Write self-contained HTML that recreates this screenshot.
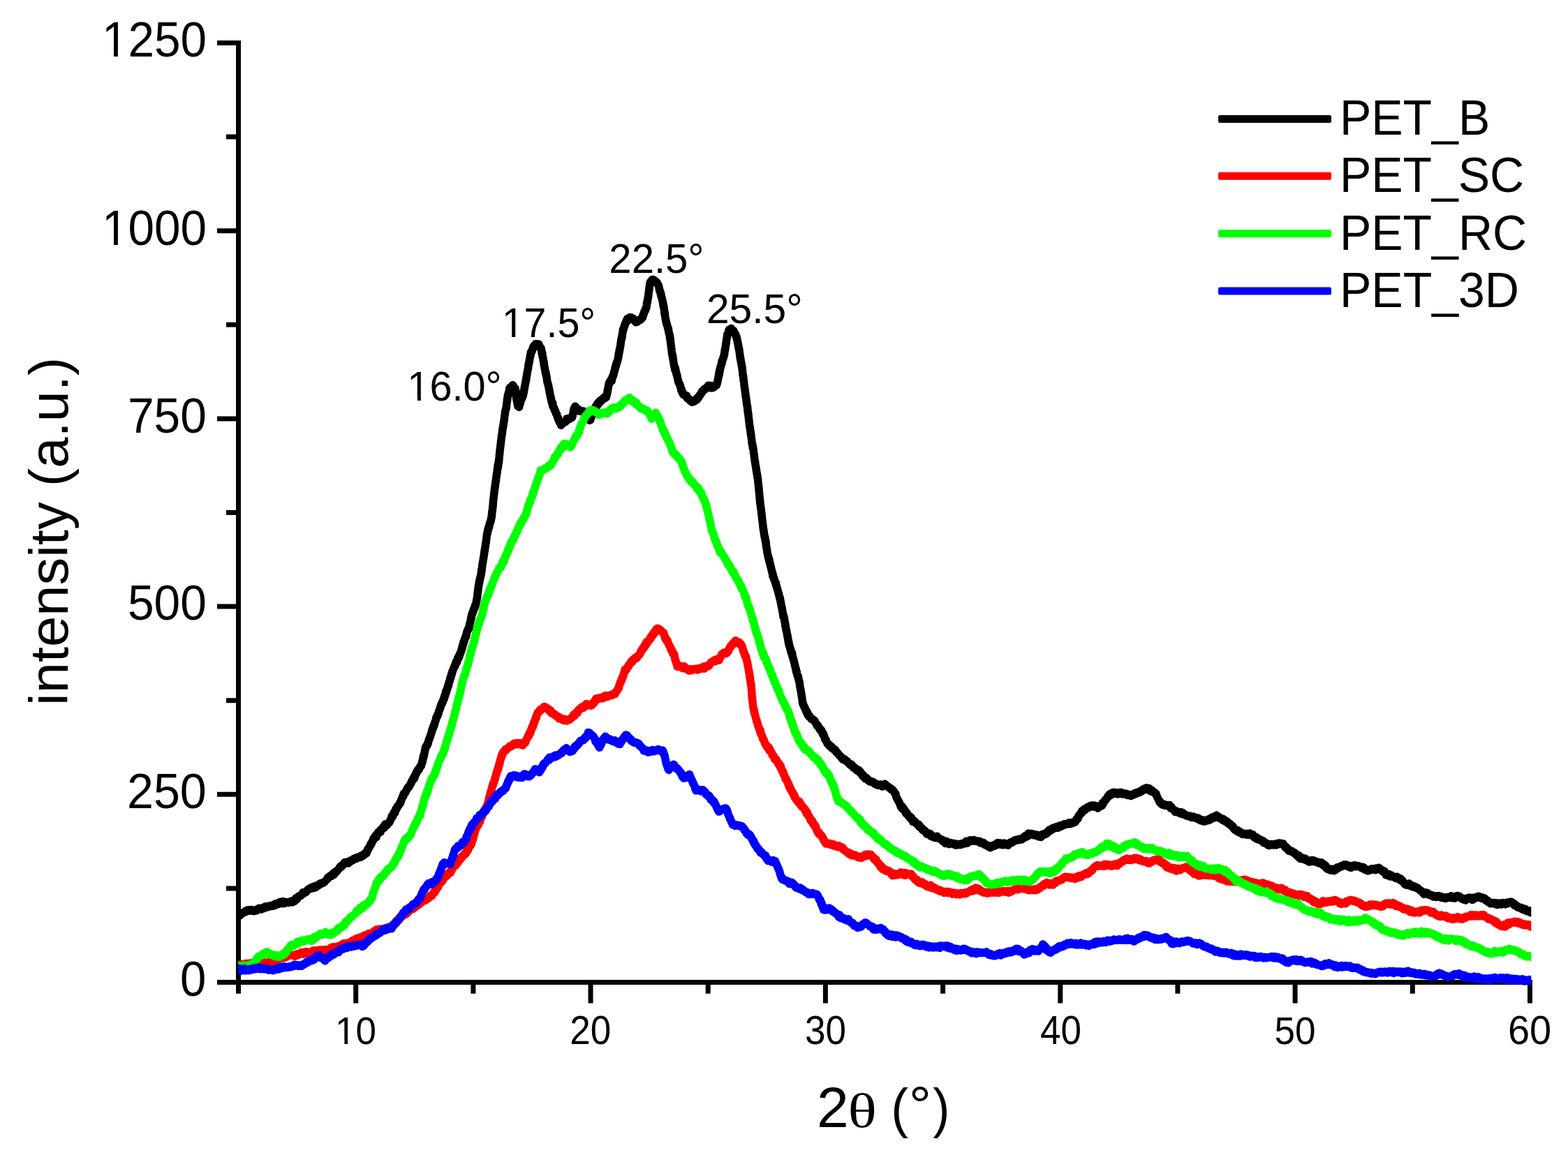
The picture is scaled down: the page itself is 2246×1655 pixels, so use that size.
<!DOCTYPE html>
<html><head><meta charset="utf-8"><style>html,body{margin:0;padding:0;background:#fff;overflow:hidden}svg{display:block}</style></head>
<body><svg width="2246" height="1655" viewBox="0 0 2246 1655">
<rect width="2246" height="1655" fill="#fff"/>
<path d="M327.5,1272.9H341.5 M314.5,1138.3H341.5 M327.5,1003.7H341.5 M314.5,869.1H341.5 M327.5,734.5H341.5 M314.5,599.9H341.5 M327.5,465.3H341.5 M314.5,330.7H341.5 M327.5,196.1H341.5 M341.5,1407.5V1420.2 M509.7,1407.5V1433.9 M677.9,1407.5V1420.2 M846.0,1407.5V1433.9 M1014.2,1407.5V1420.2 M1182.4,1407.5V1433.9 M1350.6,1407.5V1420.2 M1518.8,1407.5V1433.9 M1686.9,1407.5V1420.2 M1855.1,1407.5V1433.9 M2023.3,1407.5V1420.2 M314.5,61.5H341.5V1407.5 M314.5,1407.5H2191.5V1433.9" fill="none" stroke="#000" stroke-width="7" stroke-linecap="square" stroke-linejoin="miter"/>
<defs><clipPath id="pc"><rect x="341" y="0" width="1852.3" height="1655"/></clipPath></defs>
<g clip-path="url(#pc)">
<path d="M335.6,1311.4 L336.4,1312.6 L337.2,1312.6 L338.0,1311.2 L338.8,1311.4 L339.6,1311.1 L340.4,1311.9 L341.2,1311.2 L342.0,1311.7 L342.8,1309.4 L343.6,1311.9 L344.4,1310.3 L345.2,1310.6 L345.9,1309.3 L346.7,1308.6 L347.4,1308.7 L348.1,1308.5 L348.9,1307.2 L349.6,1306.9 L350.4,1307.2 L351.1,1305.7 L351.8,1305.0 L352.6,1306.3 L353.3,1305.3 L354.1,1304.1 L354.8,1304.8 L355.5,1304.9 L356.3,1304.1 L357.0,1303.7 L357.8,1304.8 L358.5,1305.3 L359.2,1304.3 L360.0,1303.8 L360.8,1304.8 L361.6,1305.2 L362.4,1304.5 L363.1,1305.2 L363.9,1305.6 L364.7,1304.6 L365.5,1304.0 L366.3,1304.7 L367.1,1304.4 L367.9,1304.8 L368.7,1302.6 L369.5,1302.8 L370.3,1302.3 L371.1,1301.3 L371.9,1302.5 L372.7,1302.6 L373.5,1301.4 L374.3,1303.0 L375.1,1302.4 L375.8,1302.0 L376.6,1301.6 L377.3,1301.8 L378.1,1299.7 L378.9,1301.1 L379.6,1300.8 L380.4,1298.7 L381.1,1300.2 L381.9,1299.5 L382.6,1300.2 L383.4,1299.0 L384.2,1299.2 L384.9,1299.3 L385.7,1298.1 L386.4,1299.1 L387.2,1298.3 L388.0,1298.5 L388.7,1297.5 L389.5,1298.5 L390.2,1297.9 L391.0,1297.1 L391.8,1297.5 L392.5,1297.7 L393.3,1297.9 L394.1,1294.9 L394.8,1296.6 L395.6,1296.0 L396.4,1295.2 L397.1,1294.2 L397.9,1295.7 L398.7,1293.4 L399.4,1294.6 L400.2,1295.0 L401.0,1292.4 L401.7,1293.3 L402.5,1292.3 L403.3,1293.5 L404.0,1294.4 L404.8,1294.7 L405.6,1291.6 L406.4,1292.6 L407.2,1293.7 L408.0,1294.4 L408.8,1293.5 L409.5,1292.6 L410.3,1293.4 L411.1,1293.2 L411.9,1293.0 L412.7,1292.6 L413.5,1293.4 L414.3,1293.2 L415.1,1292.8 L415.9,1292.5 L416.7,1291.5 L417.5,1292.0 L418.3,1293.1 L419.1,1291.7 L419.9,1290.5 L420.5,1292.1 L421.2,1290.8 L421.9,1291.5 L422.5,1289.2 L423.2,1288.2 L423.9,1286.8 L424.5,1288.4 L425.2,1288.8 L425.9,1285.6 L426.5,1285.2 L427.2,1285.7 L427.9,1284.1 L428.5,1284.0 L429.2,1283.5 L429.9,1283.4 L430.5,1283.7 L431.2,1282.4 L431.9,1282.7 L432.5,1281.1 L433.2,1281.3 L433.9,1278.8 L434.5,1278.9 L435.2,1280.2 L435.9,1278.6 L436.5,1279.0 L437.2,1278.5 L437.9,1278.6 L438.6,1277.7 L439.2,1277.4 L439.9,1276.0 L440.6,1275.1 L441.2,1274.6 L441.9,1274.5 L442.6,1273.6 L443.3,1273.8 L443.9,1273.8 L444.6,1273.8 L445.3,1273.0 L445.9,1271.4 L446.6,1272.5 L447.3,1272.4 L448.0,1272.7 L448.6,1271.9 L449.3,1270.5 L450.0,1270.1 L450.7,1272.0 L451.4,1270.7 L452.1,1271.3 L452.8,1271.3 L453.5,1268.7 L454.2,1269.4 L454.9,1269.2 L455.6,1268.9 L456.4,1268.6 L457.1,1267.9 L457.8,1267.5 L458.5,1265.8 L459.2,1266.5 L459.9,1265.6 L460.6,1266.0 L461.3,1265.1 L462.0,1265.6 L462.7,1265.5 L463.5,1264.7 L464.2,1264.3 L464.9,1263.7 L465.5,1262.8 L466.1,1262.4 L466.7,1261.4 L467.3,1261.4 L467.9,1260.4 L468.5,1260.1 L469.1,1257.9 L469.7,1259.0 L470.3,1257.0 L470.9,1256.4 L471.5,1256.4 L472.1,1255.6 L472.8,1255.9 L473.4,1254.8 L474.0,1254.1 L474.6,1253.9 L475.2,1255.2 L475.8,1253.8 L476.4,1252.4 L477.0,1252.9 L477.6,1251.2 L478.2,1253.4 L478.8,1250.2 L479.4,1251.3 L480.0,1250.8 L480.6,1248.7 L481.2,1249.5 L481.8,1249.5 L482.3,1248.5 L482.9,1247.7 L483.5,1247.6 L484.1,1246.3 L484.7,1245.7 L485.3,1244.7 L485.9,1244.6 L486.4,1242.7 L487.0,1243.4 L487.6,1241.8 L488.2,1240.7 L488.8,1241.4 L489.4,1241.9 L489.9,1240.9 L490.5,1239.2 L491.1,1239.8 L491.7,1238.5 L492.3,1238.3 L492.9,1238.1 L493.5,1235.8 L494.0,1237.5 L494.6,1236.1 L495.3,1236.1 L496.0,1235.3 L496.7,1235.2 L497.5,1235.4 L498.2,1236.7 L498.9,1237.1 L499.7,1235.5 L500.4,1236.0 L501.1,1234.6 L501.9,1232.9 L502.6,1234.1 L503.3,1233.9 L504.1,1232.8 L504.8,1232.9 L505.5,1232.6 L506.3,1231.0 L507.0,1230.1 L507.7,1230.6 L508.5,1230.2 L509.2,1229.6 L509.9,1230.3 L510.7,1230.5 L511.4,1228.4 L512.1,1229.0 L512.8,1228.9 L513.6,1228.4 L514.3,1228.5 L515.0,1227.1 L515.7,1227.7 L516.5,1228.5 L517.2,1227.2 L517.9,1225.8 L518.6,1226.4 L519.4,1226.6 L520.1,1225.4 L520.8,1224.2 L521.5,1225.4 L522.3,1222.7 L523.0,1223.6 L523.7,1222.6 L524.4,1221.2 L525.1,1222.6 L525.4,1221.1 L525.8,1219.1 L526.2,1219.7 L526.5,1218.2 L526.9,1216.3 L527.2,1216.5 L527.6,1216.6 L527.9,1216.2 L528.3,1215.1 L528.7,1214.3 L529.0,1213.9 L529.4,1212.7 L529.7,1213.1 L530.1,1211.6 L530.5,1211.1 L530.8,1210.6 L531.2,1208.7 L531.5,1208.4 L531.9,1209.6 L532.2,1208.0 L532.6,1207.0 L533.0,1206.9 L533.3,1205.6 L533.7,1205.5 L534.0,1204.1 L534.4,1204.1 L534.7,1201.8 L535.1,1203.3 L535.6,1201.1 L536.1,1199.5 L536.6,1199.8 L537.1,1199.0 L537.6,1198.7 L538.1,1197.0 L538.6,1197.7 L539.1,1199.7 L539.6,1195.2 L540.1,1196.0 L540.6,1195.0 L541.1,1194.9 L541.6,1192.7 L542.1,1192.7 L542.6,1193.4 L543.1,1192.4 L543.6,1193.1 L544.1,1190.6 L544.6,1190.6 L545.2,1192.1 L545.7,1188.5 L546.3,1187.8 L546.9,1187.8 L547.4,1187.1 L548.0,1187.2 L548.6,1186.0 L549.1,1184.8 L549.7,1185.0 L550.2,1186.4 L550.8,1184.8 L551.4,1181.1 L551.9,1182.7 L552.5,1181.7 L553.1,1182.4 L553.6,1181.3 L554.2,1182.5 L554.8,1181.2 L555.3,1180.6 L555.9,1179.6 L556.5,1178.9 L557.0,1178.6 L557.6,1178.9 L558.0,1177.6 L558.4,1176.2 L558.8,1176.8 L559.2,1175.3 L559.6,1174.4 L560.0,1173.1 L560.4,1172.5 L560.8,1171.7 L561.2,1169.3 L561.6,1171.6 L562.0,1170.5 L562.4,1169.1 L562.8,1169.4 L563.2,1168.1 L563.6,1167.3 L564.0,1164.3 L564.4,1165.3 L564.8,1165.2 L565.2,1165.3 L565.6,1164.7 L566.0,1163.6 L566.4,1160.8 L566.8,1159.2 L567.2,1160.7 L567.6,1159.5 L568.0,1159.5 L568.4,1157.8 L568.8,1157.4 L569.2,1155.3 L569.6,1156.2 L570.0,1154.9 L570.4,1155.0 L570.7,1154.5 L571.1,1153.5 L571.5,1153.2 L571.8,1152.4 L572.2,1152.4 L572.5,1151.6 L572.9,1150.1 L573.3,1149.3 L573.6,1150.4 L574.0,1148.2 L574.3,1148.2 L574.7,1146.9 L575.0,1145.3 L575.4,1144.3 L575.8,1144.2 L576.1,1143.5 L576.5,1143.0 L576.8,1140.7 L577.2,1140.5 L577.5,1140.1 L577.9,1140.8 L578.3,1136.9 L578.6,1138.4 L579.0,1137.0 L579.3,1137.2 L579.7,1135.8 L580.1,1135.9 L580.5,1136.3 L580.9,1134.8 L581.3,1134.2 L581.7,1133.5 L582.1,1131.9 L582.5,1132.2 L582.9,1130.9 L583.3,1129.7 L583.7,1129.6 L584.1,1128.8 L584.5,1128.9 L584.9,1127.7 L585.3,1126.8 L585.7,1127.9 L586.1,1127.0 L586.5,1126.7 L587.0,1125.6 L587.4,1124.4 L587.8,1123.5 L588.2,1123.0 L588.6,1123.2 L589.0,1121.8 L589.4,1119.8 L589.8,1120.2 L590.2,1118.3 L590.6,1118.9 L591.0,1117.1 L591.4,1116.4 L591.8,1116.9 L592.2,1116.1 L592.6,1114.1 L593.0,1115.3 L593.4,1115.7 L593.8,1112.0 L594.2,1113.8 L594.6,1110.9 L595.0,1110.2 L595.4,1109.6 L595.8,1107.7 L596.2,1109.0 L596.6,1107.6 L597.0,1105.9 L597.4,1105.6 L597.8,1104.0 L598.2,1104.4 L598.6,1104.8 L599.0,1102.1 L599.4,1102.6 L599.8,1102.4 L600.2,1102.5 L600.6,1102.1 L601.0,1099.9 L601.4,1099.0 L601.8,1099.2 L602.2,1097.9 L602.6,1097.2 L603.0,1097.5 L603.4,1097.3 L603.8,1095.3 L604.2,1094.1 L604.4,1093.8 L604.7,1090.8 L604.9,1091.3 L605.1,1089.6 L605.3,1091.4 L605.5,1089.2 L605.7,1087.9 L605.9,1086.9 L606.1,1084.3 L606.3,1086.2 L606.5,1086.2 L606.7,1083.6 L606.9,1084.1 L607.1,1083.4 L607.3,1080.8 L607.5,1082.0 L607.7,1081.5 L607.9,1079.7 L608.1,1078.6 L608.3,1078.4 L608.5,1075.6 L608.6,1076.0 L608.8,1075.9 L609.0,1073.2 L609.1,1074.2 L609.3,1072.3 L609.5,1070.4 L609.6,1071.3 L609.8,1070.1 L610.0,1070.7 L610.2,1069.1 L610.5,1070.6 L610.8,1068.8 L611.1,1069.3 L611.3,1068.1 L611.6,1067.8 L611.9,1068.5 L612.2,1067.1 L612.5,1066.0 L612.7,1064.6 L613.0,1065.7 L613.3,1064.6 L613.6,1062.9 L613.8,1062.4 L614.1,1060.5 L614.4,1059.7 L614.7,1059.0 L615.0,1059.1 L615.2,1058.3 L615.5,1056.6 L615.8,1057.0 L616.1,1056.3 L616.3,1055.0 L616.6,1054.9 L616.9,1053.0 L617.2,1052.3 L617.5,1051.9 L617.7,1050.6 L618.0,1050.3 L618.3,1047.7 L618.6,1048.9 L618.8,1046.3 L619.1,1045.9 L619.4,1044.1 L619.7,1044.9 L620.0,1044.7 L620.2,1043.9 L620.5,1043.1 L620.8,1040.5 L621.0,1040.5 L621.3,1040.2 L621.6,1039.1 L621.8,1040.1 L622.1,1038.6 L622.4,1037.6 L622.6,1037.2 L622.9,1035.1 L623.2,1034.2 L623.5,1033.3 L623.7,1033.4 L624.0,1032.4 L624.3,1031.7 L624.5,1031.2 L624.8,1028.5 L625.1,1028.4 L625.3,1028.3 L625.6,1026.5 L625.9,1026.5 L626.1,1027.1 L626.4,1026.6 L626.7,1025.9 L627.0,1024.4 L627.2,1023.5 L627.5,1023.7 L627.8,1021.8 L628.0,1021.6 L628.3,1021.6 L628.6,1019.6 L628.8,1018.6 L629.1,1018.4 L629.4,1018.2 L629.6,1017.4 L629.9,1016.4 L630.2,1016.0 L630.5,1013.5 L630.8,1013.3 L631.1,1013.3 L631.4,1011.5 L631.7,1010.3 L631.9,1009.5 L632.2,1008.9 L632.5,1008.7 L632.8,1007.3 L633.1,1007.6 L633.4,1008.1 L633.7,1006.0 L634.0,1006.5 L634.3,1005.1 L634.6,1003.4 L634.9,1003.4 L635.1,1002.2 L635.4,1002.9 L635.7,1000.7 L636.0,1001.9 L636.3,1000.6 L636.5,997.8 L636.8,999.3 L637.0,999.2 L637.3,996.6 L637.5,997.3 L637.7,994.3 L638.0,995.2 L638.2,993.0 L638.4,993.9 L638.7,991.3 L638.9,989.9 L639.2,991.5 L639.4,992.2 L639.6,989.1 L639.9,989.5 L640.1,988.1 L640.4,987.1 L640.6,987.1 L640.8,987.2 L641.1,984.2 L641.3,984.9 L641.5,984.0 L641.8,981.8 L642.0,983.4 L642.3,982.8 L642.5,979.6 L642.7,980.8 L643.0,978.6 L643.2,977.6 L643.5,978.2 L643.7,976.4 L643.9,975.7 L644.2,976.0 L644.4,975.1 L644.7,974.1 L644.9,971.5 L645.1,970.7 L645.4,972.1 L645.6,969.6 L645.8,969.7 L646.1,967.8 L646.3,967.7 L646.6,966.1 L646.8,967.6 L647.0,964.7 L647.3,964.7 L647.5,963.9 L647.8,964.3 L648.0,961.5 L648.2,961.9 L648.5,961.0 L648.7,960.8 L649.0,960.0 L649.3,958.5 L649.7,958.2 L650.0,957.0 L650.3,956.8 L650.6,955.6 L650.9,954.3 L651.3,954.1 L651.6,953.6 L651.9,954.4 L652.2,951.4 L652.5,951.4 L652.9,951.6 L653.2,948.1 L653.5,947.7 L653.8,947.4 L654.1,947.6 L654.5,949.0 L654.8,946.7 L655.1,946.7 L655.4,945.0 L655.7,942.5 L656.1,942.0 L656.4,943.9 L656.7,942.6 L657.0,940.7 L657.4,942.0 L657.6,939.2 L657.9,940.7 L658.1,940.2 L658.4,937.8 L658.7,936.9 L658.9,937.8 L659.2,935.6 L659.4,936.5 L659.7,934.3 L659.9,935.2 L660.2,934.0 L660.5,932.9 L660.7,931.7 L661.0,931.9 L661.2,929.3 L661.5,929.8 L661.7,928.8 L662.0,928.7 L662.2,926.2 L662.5,927.6 L662.8,924.9 L663.0,923.3 L663.3,924.4 L663.5,923.7 L663.8,921.3 L664.0,919.9 L664.3,919.8 L664.6,918.4 L664.8,917.9 L665.1,918.7 L665.3,917.0 L665.6,916.0 L665.9,915.5 L666.1,914.4 L666.4,914.4 L666.7,913.7 L666.9,911.9 L667.2,911.5 L667.5,912.5 L667.7,910.1 L668.0,908.7 L668.3,909.6 L668.5,907.1 L668.8,905.4 L669.0,905.9 L669.3,903.9 L669.6,903.5 L669.8,903.5 L670.1,902.5 L670.4,901.5 L670.6,901.1 L670.9,900.6 L671.2,901.5 L671.4,899.4 L671.6,898.9 L671.8,900.3 L672.0,897.5 L672.2,898.4 L672.3,897.6 L672.5,895.6 L672.7,893.8 L672.9,894.5 L673.1,893.9 L673.3,893.3 L673.5,891.7 L673.7,891.7 L673.9,890.9 L674.1,888.0 L674.3,889.0 L674.5,887.1 L674.7,885.6 L674.9,884.9 L675.1,885.8 L675.3,884.2 L675.5,881.3 L675.6,882.0 L675.8,881.2 L676.0,880.5 L676.2,879.6 L676.5,878.2 L676.7,879.4 L676.9,877.3 L677.2,877.1 L677.4,876.2 L677.7,875.5 L677.9,876.0 L678.1,875.0 L678.4,873.5 L678.6,872.6 L678.8,872.4 L679.1,872.9 L679.3,871.7 L679.6,871.2 L679.8,870.2 L680.0,869.7 L680.3,869.5 L680.5,867.2 L680.8,869.3 L681.0,866.7 L681.2,866.0 L681.5,866.7 L681.7,864.9 L682.0,863.9 L682.2,862.5 L682.4,860.8 L682.6,861.3 L682.7,861.3 L682.8,858.9 L682.9,860.1 L683.1,857.4 L683.2,857.1 L683.3,857.5 L683.4,856.4 L683.5,856.2 L683.7,854.2 L683.8,853.1 L683.9,851.5 L684.0,851.0 L684.1,850.1 L684.2,848.7 L684.4,849.1 L684.5,847.2 L684.6,845.1 L684.7,847.7 L684.8,844.1 L685.0,842.8 L685.1,843.9 L685.2,843.0 L685.3,840.3 L685.4,839.2 L685.6,838.7 L685.7,839.6 L685.9,837.6 L686.0,836.3 L686.2,836.1 L686.3,836.3 L686.4,833.4 L686.6,833.4 L686.7,831.9 L686.9,834.1 L687.0,833.1 L687.2,831.9 L687.3,830.5 L687.5,830.6 L687.6,827.9 L687.8,829.3 L687.9,827.5 L688.1,827.0 L688.2,826.9 L688.4,826.5 L688.5,826.5 L688.7,825.8 L688.8,824.6 L689.0,822.7 L689.1,823.1 L689.2,821.5 L689.4,821.6 L689.5,819.0 L689.6,816.6 L689.8,817.5 L689.9,818.7 L690.0,816.5 L690.1,815.0 L690.3,815.0 L690.4,813.8 L690.5,812.9 L690.7,811.2 L690.8,810.8 L690.9,810.0 L691.0,808.4 L691.2,807.1 L691.3,807.1 L691.4,806.8 L691.6,805.6 L691.7,804.6 L691.8,803.7 L691.9,804.5 L692.1,801.8 L692.2,801.7 L692.3,801.7 L692.5,799.5 L692.6,799.1 L692.7,799.1 L692.8,799.0 L692.9,797.3 L693.1,796.7 L693.2,795.9 L693.3,794.2 L693.4,795.4 L693.5,793.6 L693.6,791.7 L693.8,792.1 L693.9,790.1 L694.0,789.8 L694.1,789.8 L694.2,788.2 L694.4,788.9 L694.5,786.0 L694.6,786.5 L694.7,785.9 L694.8,785.8 L695.0,784.5 L695.1,783.1 L695.2,782.2 L695.3,781.3 L695.4,781.5 L695.5,779.3 L695.7,779.5 L695.8,778.2 L695.9,777.7 L696.1,776.5 L696.2,777.6 L696.3,774.5 L696.4,774.3 L696.6,773.4 L696.7,772.7 L696.8,771.6 L697.0,770.6 L697.1,770.0 L697.2,767.1 L697.3,767.5 L697.5,765.7 L697.6,766.2 L697.7,764.4 L697.9,764.0 L698.0,764.1 L698.1,764.8 L698.2,763.6 L698.4,762.8 L698.5,763.1 L698.6,760.5 L698.8,758.9 L699.0,759.5 L699.2,758.8 L699.4,759.1 L699.6,758.9 L699.8,755.2 L700.0,757.4 L700.2,755.8 L700.5,754.4 L700.7,753.3 L700.9,754.2 L701.1,751.7 L701.3,750.7 L701.5,750.6 L701.7,748.9 L701.9,749.8 L702.2,748.8 L702.4,748.5 L702.6,747.9 L702.8,746.0 L703.0,747.1 L703.2,744.4 L703.4,745.0 L703.6,742.1 L703.9,742.8 L704.1,740.9 L704.3,740.7 L704.3,739.3 L704.4,737.2 L704.5,737.2 L704.6,737.3 L704.7,737.0 L704.7,734.5 L704.8,733.2 L704.9,733.5 L705.0,733.3 L705.1,732.2 L705.1,731.4 L705.2,732.0 L705.3,731.5 L705.4,730.7 L705.5,728.7 L705.5,728.9 L705.6,728.0 L705.7,726.4 L705.8,727.5 L705.9,726.2 L705.9,724.9 L706.0,725.6 L706.1,724.2 L706.2,723.4 L706.2,722.7 L706.3,721.2 L706.4,718.6 L706.5,718.2 L706.6,718.2 L706.7,715.7 L706.8,715.2 L706.9,714.5 L707.0,714.4 L707.1,713.3 L707.2,712.1 L707.3,710.4 L707.4,710.5 L707.5,709.4 L707.6,708.0 L707.7,708.5 L707.8,707.0 L707.9,705.2 L708.0,706.0 L708.1,704.0 L708.2,703.9 L708.3,701.4 L708.4,701.9 L708.5,700.4 L708.6,699.6 L708.7,698.1 L708.8,700.6 L708.9,698.0 L709.1,697.5 L709.2,697.4 L709.3,695.7 L709.4,695.4 L709.5,693.2 L709.6,693.7 L709.7,692.5 L709.8,692.5 L709.9,691.6 L710.0,689.7 L710.1,688.6 L710.2,688.6 L710.3,689.3 L710.5,688.3 L710.6,687.5 L710.7,684.7 L710.8,683.4 L710.9,684.2 L711.0,683.6 L711.1,682.6 L711.2,682.5 L711.3,681.3 L711.4,679.6 L711.5,678.9 L711.6,678.8 L711.7,677.8 L711.9,676.8 L712.0,677.7 L712.1,674.8 L712.2,674.3 L712.3,672.6 L712.4,672.5 L712.5,672.5 L712.6,672.0 L712.7,670.8 L712.8,670.7 L712.9,669.9 L713.0,667.9 L713.2,666.2 L713.3,670.2 L713.4,668.4 L713.5,667.2 L713.6,665.3 L713.7,665.1 L713.8,666.6 L713.9,662.6 L714.0,664.0 L714.1,664.2 L714.2,662.9 L714.3,662.7 L714.4,661.2 L714.6,662.3 L714.7,658.7 L714.8,657.5 L714.9,657.8 L715.0,657.6 L715.1,655.3 L715.2,655.1 L715.3,652.7 L715.4,651.1 L715.5,652.2 L715.6,651.3 L715.7,650.3 L715.8,647.8 L715.9,646.4 L716.0,645.5 L716.1,645.4 L716.2,645.2 L716.3,644.2 L716.4,641.8 L716.5,642.2 L716.6,641.2 L716.7,640.3 L716.8,639.4 L716.9,638.4 L717.0,638.2 L717.1,637.0 L717.2,636.4 L717.3,634.9 L717.4,635.1 L717.5,633.9 L717.6,631.6 L717.6,632.9 L717.7,631.6 L717.8,631.7 L717.9,630.0 L718.0,629.2 L718.1,628.6 L718.2,627.6 L718.3,626.4 L718.4,624.5 L718.5,626.7 L718.6,623.2 L718.7,623.5 L718.8,623.6 L718.9,622.8 L719.0,622.3 L719.1,621.7 L719.2,621.5 L719.3,620.0 L719.4,621.3 L719.5,617.4 L719.6,617.6 L719.7,616.3 L719.8,615.4 L720.0,615.2 L720.1,615.3 L720.2,612.8 L720.4,611.9 L720.5,612.3 L720.6,611.4 L720.8,611.7 L720.9,610.2 L721.0,608.8 L721.1,607.7 L721.3,607.3 L721.4,606.3 L721.5,604.6 L721.7,604.9 L721.8,603.9 L721.9,603.0 L722.1,601.9 L722.2,602.6 L722.3,600.9 L722.5,600.0 L722.6,597.8 L722.7,596.4 L722.9,595.9 L723.0,595.3 L723.1,593.9 L723.2,593.0 L723.4,593.1 L723.5,591.7 L723.6,589.9 L723.8,589.6 L723.9,588.8 L724.0,588.9 L724.2,587.3 L724.3,587.7 L724.4,587.9 L724.6,586.9 L724.7,585.7 L724.8,585.4 L724.9,585.5 L725.0,585.1 L725.1,584.7 L725.2,583.2 L725.3,581.5 L725.4,582.9 L725.5,581.2 L725.6,580.4 L725.7,579.4 L725.8,577.5 L726.0,577.2 L726.1,576.9 L726.2,576.7 L726.3,575.1 L726.4,571.8 L726.5,573.3 L726.6,572.9 L726.7,572.9 L726.8,571.6 L726.9,572.3 L727.0,570.6 L727.1,569.8 L727.2,568.7 L727.3,566.2 L727.5,567.2 L727.7,566.4 L727.9,564.8 L728.1,565.0 L728.3,564.1 L728.5,562.7 L728.7,562.2 L728.9,561.3 L729.1,560.9 L729.3,559.5 L729.5,559.4 L729.7,556.6 L729.9,557.0 L730.4,555.2 L731.0,555.5 L731.5,555.6 L732.0,554.7 L732.6,554.0 L733.1,553.6 L733.7,554.3 L734.2,551.7 L734.7,554.1 L735.3,552.8 L735.8,554.3 L736.3,555.5 L736.8,555.3 L737.3,556.7 L737.8,557.6 L738.1,556.7 L738.2,558.3 L738.3,558.8 L738.4,558.4 L738.5,560.6 L738.6,560.9 L738.7,563.5 L738.8,562.7 L738.9,565.6 L739.0,564.7 L739.1,567.5 L739.2,567.2 L739.3,567.9 L739.4,568.9 L739.5,569.7 L739.6,570.8 L739.7,571.7 L739.8,570.7 L739.9,570.6 L740.0,570.1 L740.1,572.5 L740.2,574.1 L740.3,574.4 L740.5,574.9 L740.6,575.1 L740.7,575.6 L740.9,576.5 L741.0,577.8 L741.1,576.8 L741.3,579.5 L741.4,578.5 L741.5,580.3 L741.6,580.8 L741.8,581.8 L741.9,582.1 L742.2,582.4 L742.6,582.5 L743.1,581.2 L743.6,583.4 L744.1,580.4 L744.6,579.4 L745.0,578.7 L745.2,577.3 L745.5,575.2 L745.7,576.0 L745.9,575.6 L746.1,573.2 L746.3,573.6 L746.6,571.9 L746.8,572.2 L747.0,571.9 L747.2,571.5 L747.4,571.0 L747.7,569.6 L747.9,570.5 L748.1,569.1 L748.3,569.3 L748.5,569.2 L748.8,568.0 L749.0,566.7 L749.1,567.6 L749.3,565.6 L749.4,565.1 L749.6,564.1 L749.7,564.8 L749.9,563.1 L750.1,560.5 L750.2,561.9 L750.4,562.1 L750.5,561.0 L750.7,558.3 L750.9,558.0 L751.0,557.5 L751.2,557.0 L751.3,555.5 L751.5,553.8 L751.6,554.4 L751.8,553.5 L752.0,551.2 L752.1,551.1 L752.3,550.9 L752.4,549.9 L752.6,549.5 L752.7,548.9 L752.9,547.9 L753.1,546.5 L753.2,544.6 L753.4,545.2 L753.5,544.9 L753.7,544.3 L753.8,541.7 L754.0,540.6 L754.2,540.8 L754.3,539.9 L754.5,538.1 L754.6,537.6 L754.8,535.6 L754.9,535.9 L755.1,534.1 L755.2,533.9 L755.4,533.3 L755.5,532.4 L755.7,530.4 L755.8,530.7 L755.9,530.9 L756.1,529.7 L756.2,528.6 L756.4,528.3 L756.5,527.5 L756.7,526.6 L756.8,524.3 L757.0,523.9 L757.1,522.7 L757.3,521.4 L757.4,520.0 L757.5,520.4 L757.7,519.1 L757.8,520.8 L758.0,518.3 L758.1,517.5 L758.3,516.6 L758.4,517.6 L758.6,514.6 L758.7,514.4 L758.9,513.1 L759.0,512.7 L759.1,512.0 L759.3,512.1 L759.4,509.3 L759.6,509.8 L759.7,510.4 L759.9,508.1 L760.0,507.8 L760.2,506.7 L760.3,504.8 L760.5,506.3 L760.6,506.7 L760.9,504.8 L761.2,503.0 L761.5,504.0 L761.8,503.1 L762.1,503.1 L762.4,502.2 L762.7,500.4 L763.1,500.2 L763.4,497.6 L763.7,499.2 L764.0,497.7 L764.3,497.7 L764.6,497.0 L764.9,495.2 L765.5,494.9 L766.2,494.1 L767.0,492.8 L767.7,494.1 L768.5,494.0 L769.2,492.7 L770.0,493.8 L770.7,493.0 L771.2,493.7 L771.6,493.4 L772.0,493.3 L772.4,496.0 L772.8,496.5 L773.2,496.7 L773.6,497.1 L774.0,497.9 L774.4,498.7 L774.8,499.1 L775.1,498.6 L775.2,501.6 L775.4,500.5 L775.5,502.2 L775.7,502.9 L775.8,504.1 L776.0,503.4 L776.1,506.3 L776.3,506.6 L776.4,507.4 L776.6,508.5 L776.7,507.5 L776.9,506.4 L777.0,509.8 L777.2,511.3 L777.3,511.9 L777.4,511.3 L777.6,512.3 L777.7,513.4 L777.9,512.4 L778.0,514.1 L778.2,514.9 L778.3,517.5 L778.5,516.5 L778.7,519.2 L778.8,518.9 L779.0,518.5 L779.1,522.6 L779.3,521.1 L779.4,523.3 L779.6,525.2 L779.8,524.4 L779.9,524.8 L780.1,527.6 L780.2,527.7 L780.4,527.5 L780.5,528.4 L780.7,529.7 L780.9,531.6 L781.0,531.3 L781.2,532.7 L781.3,534.2 L781.5,534.5 L781.7,535.3 L781.8,535.8 L782.0,534.3 L782.1,537.3 L782.3,537.5 L782.4,538.0 L782.6,538.1 L782.8,538.7 L782.9,540.1 L783.1,541.9 L783.2,542.0 L783.4,543.2 L783.5,544.2 L783.7,546.1 L783.9,546.1 L784.0,547.0 L784.2,548.9 L784.3,548.2 L784.5,549.5 L784.6,548.7 L784.8,550.4 L785.0,550.8 L785.1,551.4 L785.3,551.4 L785.4,551.6 L785.6,552.8 L785.7,553.4 L785.9,555.3 L786.0,556.0 L786.2,555.2 L786.4,557.5 L786.5,557.5 L786.7,559.1 L786.8,559.3 L787.0,559.4 L787.1,562.3 L787.3,562.8 L787.4,562.3 L787.6,562.6 L787.8,564.5 L787.9,564.7 L788.1,566.1 L788.3,567.6 L788.5,569.0 L788.6,568.3 L788.8,570.4 L789.0,570.9 L789.2,570.4 L789.4,570.2 L789.6,573.0 L789.8,573.6 L790.0,575.8 L790.2,575.8 L790.4,576.1 L790.6,577.5 L790.8,576.1 L791.0,577.8 L791.2,578.1 L791.4,580.5 L791.6,580.2 L791.8,578.0 L791.9,582.3 L792.2,581.2 L792.5,583.2 L792.9,582.9 L793.2,584.1 L793.5,585.1 L793.8,585.5 L794.1,585.3 L794.4,587.9 L794.8,587.8 L795.1,588.2 L795.4,589.6 L795.7,589.3 L796.0,592.0 L796.4,591.4 L796.7,592.3 L797.0,593.1 L797.3,593.0 L797.6,593.6 L797.9,595.6 L798.3,596.6 L798.6,598.4 L798.9,598.6 L799.3,598.3 L799.6,600.4 L799.9,601.5 L800.3,602.5 L800.6,602.7 L800.9,602.2 L801.3,604.7 L801.6,603.9 L801.9,605.5 L802.3,604.4 L802.6,606.8 L802.9,606.1 L803.3,608.2 L803.6,609.4 L804.0,609.1 L804.6,606.7 L805.2,606.3 L805.8,605.9 L806.4,606.7 L807.0,606.0 L807.6,605.4 L808.3,605.0 L808.9,604.7 L809.5,604.3 L810.1,604.6 L810.7,602.6 L811.3,602.2 L811.9,600.1 L812.6,600.1 L813.3,600.2 L814.1,599.5 L814.8,600.3 L815.5,600.7 L816.2,599.2 L816.9,598.9 L817.6,598.7 L818.3,598.9 L819.0,598.0 L819.6,598.3 L819.8,597.4 L820.0,596.6 L820.1,596.1 L820.3,594.6 L820.5,593.7 L820.7,594.1 L820.9,591.7 L821.1,591.5 L821.3,590.0 L821.5,588.7 L821.7,587.9 L821.9,586.9 L822.1,586.9 L822.3,585.7 L822.5,585.2 L822.7,585.9 L822.8,584.2 L823.0,584.6 L823.2,583.3 L823.4,583.2 L823.9,582.2 L824.5,583.4 L825.1,586.1 L825.8,585.3 L826.4,586.0 L827.0,586.0 L827.6,587.1 L828.2,586.1 L828.9,586.9 L829.5,588.4 L830.1,589.2 L830.7,588.6 L831.4,589.2 L832.1,589.2 L832.8,589.5 L833.5,588.9 L834.2,588.9 L834.9,590.1 L835.6,588.9 L836.4,589.7 L837.1,590.1 L837.8,590.0 L838.5,591.2 L839.2,591.0 L839.6,591.9 L840.0,591.9 L840.4,592.8 L840.8,594.6 L841.2,595.3 L841.7,595.5 L842.1,597.0 L842.5,597.8 L842.9,598.6 L843.3,600.6 L843.7,599.9 L844.1,601.4 L844.5,602.2 L844.9,602.4 L845.3,601.3 L845.6,602.0 L845.9,600.9 L846.2,599.9 L846.6,599.1 L846.9,598.3 L847.2,596.7 L847.5,596.9 L847.9,594.5 L848.2,595.2 L848.5,593.3 L848.8,593.5 L849.1,593.7 L849.5,592.3 L849.8,591.4 L850.1,591.4 L850.4,590.0 L850.8,589.1 L851.1,588.3 L851.4,588.9 L851.7,587.4 L852.1,586.4 L852.4,584.2 L852.7,584.7 L853.1,582.4 L853.6,583.1 L854.1,581.1 L854.6,582.8 L855.1,579.2 L855.6,580.8 L856.1,579.8 L856.6,577.2 L857.1,577.8 L857.6,578.6 L858.1,577.7 L858.6,575.0 L859.1,575.3 L859.6,574.2 L860.1,573.7 L860.6,573.3 L861.3,574.8 L861.9,572.9 L862.5,572.0 L863.2,571.4 L863.8,571.7 L864.5,571.3 L865.1,569.5 L865.8,571.0 L866.4,568.6 L867.0,568.8 L867.7,568.9 L868.3,569.5 L868.7,567.2 L868.9,566.9 L869.0,566.9 L869.2,565.6 L869.4,565.2 L869.6,564.3 L869.7,562.8 L869.9,562.3 L870.1,561.8 L870.2,560.2 L870.4,560.7 L870.6,557.0 L870.8,556.9 L870.9,557.9 L871.1,556.2 L871.3,554.3 L871.5,554.2 L871.6,553.8 L871.8,551.6 L872.0,551.8 L872.1,550.3 L872.3,549.6 L872.5,549.0 L872.8,549.4 L873.1,547.1 L873.4,547.3 L873.7,547.7 L874.1,545.9 L874.4,545.2 L874.7,546.6 L875.0,545.7 L875.3,545.1 L875.6,544.8 L876.0,543.3 L876.3,545.7 L876.6,541.8 L876.9,541.4 L877.2,539.7 L877.5,539.6 L877.8,540.3 L878.2,538.2 L878.5,537.8 L878.7,536.1 L878.9,537.2 L879.2,535.1 L879.4,533.2 L879.6,534.1 L879.8,532.3 L880.1,532.3 L880.3,531.1 L880.5,530.3 L880.8,529.3 L881.0,527.6 L881.2,526.2 L881.5,527.4 L881.7,525.6 L881.9,525.2 L882.1,523.9 L882.4,521.9 L882.6,521.8 L882.8,523.3 L883.1,520.9 L883.3,520.6 L883.5,519.1 L883.8,519.3 L884.0,518.8 L884.2,518.2 L884.4,517.7 L884.6,516.5 L884.7,515.8 L884.9,515.5 L885.0,515.0 L885.2,513.8 L885.3,514.4 L885.5,512.3 L885.7,511.4 L885.8,509.9 L886.0,510.4 L886.1,507.9 L886.3,506.6 L886.4,506.3 L886.6,506.7 L886.7,504.5 L886.9,505.6 L887.1,503.7 L887.2,501.6 L887.4,501.8 L887.5,502.7 L887.7,499.8 L887.8,498.7 L888.0,499.4 L888.2,499.2 L888.3,498.2 L888.4,496.3 L888.6,495.9 L888.7,495.1 L888.8,494.8 L888.9,494.7 L889.1,491.9 L889.2,492.1 L889.3,489.9 L889.5,489.8 L889.6,487.7 L889.7,487.0 L889.9,487.2 L890.0,485.5 L890.1,486.2 L890.2,484.4 L890.4,484.3 L890.5,483.5 L890.6,482.7 L890.8,482.5 L890.9,482.7 L891.0,483.7 L891.2,479.6 L891.3,480.2 L891.4,479.1 L891.6,477.8 L891.7,477.9 L891.8,476.1 L891.9,475.8 L892.1,475.9 L892.3,472.3 L892.6,473.2 L892.9,472.4 L893.2,470.3 L893.4,470.5 L893.7,469.5 L894.0,468.1 L894.3,468.5 L894.6,465.8 L894.9,466.6 L895.1,465.2 L895.4,463.9 L895.7,463.9 L896.0,463.1 L896.3,463.4 L896.5,460.9 L896.8,461.3 L897.1,460.4 L897.4,461.3 L897.7,458.4 L898.0,459.5 L898.6,456.7 L899.2,458.0 L899.9,457.2 L900.6,457.3 L901.2,456.0 L901.9,454.7 L902.6,454.7 L903.2,456.6 L903.9,455.3 L904.5,455.0 L905.2,456.9 L905.8,456.0 L906.5,456.5 L907.1,456.5 L907.7,458.8 L908.4,459.8 L909.0,457.9 L909.7,459.4 L910.3,460.4 L910.9,461.9 L911.6,458.8 L912.3,460.8 L913.0,460.9 L913.7,458.8 L914.4,459.9 L915.1,459.4 L915.8,459.3 L916.5,457.8 L917.3,458.1 L918.0,456.8 L918.7,457.3 L919.4,456.4 L919.8,455.2 L920.1,453.5 L920.5,455.0 L920.8,453.7 L921.1,452.6 L921.4,450.5 L921.7,449.9 L922.0,450.6 L922.4,449.1 L922.7,447.0 L923.0,447.0 L923.3,446.3 L923.6,445.3 L923.9,444.1 L924.3,445.2 L924.6,444.1 L924.9,442.9 L925.2,441.2 L925.5,441.5 L925.6,441.3 L925.8,441.4 L925.9,439.7 L926.0,440.2 L926.2,438.6 L926.3,437.1 L926.4,434.6 L926.6,435.1 L926.7,434.0 L926.8,434.3 L926.9,433.9 L927.1,434.0 L927.2,432.1 L927.3,430.5 L927.5,432.6 L927.6,430.3 L927.7,429.1 L927.9,428.3 L928.0,426.7 L928.1,427.5 L928.3,426.4 L928.4,426.5 L928.5,425.2 L928.7,424.1 L928.8,423.4 L928.9,421.3 L929.0,420.2 L929.2,419.7 L929.3,417.8 L929.4,417.9 L929.5,416.9 L929.6,417.0 L929.7,415.7 L929.8,413.5 L929.9,414.3 L930.0,414.8 L930.1,411.5 L930.2,411.7 L930.3,411.6 L930.4,409.9 L930.5,409.8 L930.6,409.6 L930.7,407.7 L930.8,408.3 L930.9,407.6 L931.0,405.5 L931.1,405.8 L931.2,405.9 L931.3,404.2 L931.7,404.0 L932.2,403.7 L932.7,402.5 L933.2,403.0 L933.7,402.1 L934.2,400.5 L934.8,401.2 L935.3,401.0 L935.9,401.4 L936.5,400.8 L937.1,402.1 L937.8,403.2 L938.4,402.6 L939.0,403.6 L939.4,404.2 L939.8,403.5 L940.2,404.6 L940.6,404.3 L941.0,406.0 L941.4,405.6 L941.8,405.9 L942.2,407.0 L942.6,407.7 L943.0,408.7 L943.3,409.6 L943.5,409.1 L943.7,410.3 L944.0,412.0 L944.2,412.9 L944.4,413.5 L944.6,416.4 L944.9,416.1 L945.1,416.1 L945.3,417.7 L945.6,419.1 L945.8,419.2 L946.0,418.3 L946.2,420.6 L946.5,421.4 L946.7,423.8 L946.9,421.4 L947.1,424.8 L947.4,424.2 L947.6,425.9 L947.8,425.7 L948.1,427.0 L948.3,428.7 L948.5,428.8 L948.7,430.5 L949.0,430.4 L949.1,431.0 L949.2,432.0 L949.3,432.5 L949.5,433.4 L949.6,435.3 L949.7,433.8 L949.8,434.0 L950.0,436.0 L950.1,438.0 L950.2,438.1 L950.3,439.1 L950.5,439.7 L950.6,438.9 L950.7,440.3 L950.8,438.8 L951.0,441.2 L951.1,442.9 L951.2,441.9 L951.3,442.2 L951.4,443.5 L951.6,445.5 L951.7,447.0 L951.8,449.0 L951.9,448.9 L952.1,447.4 L952.2,447.6 L952.3,450.5 L952.4,452.1 L952.6,450.9 L952.7,452.7 L952.8,453.7 L952.9,455.0 L953.1,455.7 L953.3,457.2 L953.5,458.5 L953.7,458.6 L953.9,460.0 L954.1,461.8 L954.3,460.2 L954.4,460.9 L954.6,462.9 L954.8,464.6 L955.0,464.0 L955.2,465.3 L955.4,464.8 L955.6,466.5 L955.8,465.9 L956.0,467.6 L956.2,468.1 L956.4,468.9 L956.6,470.4 L956.8,470.9 L957.0,470.4 L957.2,472.3 L957.4,471.0 L957.6,474.0 L957.8,476.2 L958.0,475.3 L958.1,476.2 L958.3,476.7 L958.5,478.2 L958.7,478.0 L958.9,479.7 L959.0,479.7 L959.1,480.3 L959.2,481.4 L959.3,481.9 L959.4,481.2 L959.5,484.9 L959.6,483.9 L959.8,483.2 L959.9,486.1 L960.0,486.0 L960.1,487.0 L960.2,488.3 L960.3,487.8 L960.4,487.1 L960.5,490.2 L960.6,491.3 L960.7,492.7 L960.8,492.1 L960.9,493.2 L961.0,494.4 L961.1,494.6 L961.2,495.3 L961.3,496.5 L961.4,496.2 L961.5,499.1 L961.6,497.9 L961.7,499.5 L961.9,500.1 L962.0,500.7 L962.1,502.6 L962.2,503.9 L962.3,505.2 L962.4,505.3 L962.5,505.3 L962.6,507.2 L962.7,506.1 L962.8,507.9 L962.9,509.0 L963.1,509.6 L963.2,508.9 L963.4,509.2 L963.5,512.4 L963.6,511.3 L963.8,511.1 L963.9,512.2 L964.1,514.1 L964.2,515.9 L964.4,515.9 L964.5,517.8 L964.6,518.1 L964.8,519.3 L964.9,520.6 L965.1,520.5 L965.2,521.9 L965.4,522.2 L965.5,522.7 L965.6,524.4 L965.8,523.8 L965.9,525.1 L966.1,525.0 L966.2,526.1 L966.3,526.3 L966.5,528.2 L966.6,528.0 L966.8,528.7 L967.0,530.6 L967.3,527.6 L967.5,529.7 L967.7,529.1 L968.0,531.9 L968.2,532.9 L968.4,533.8 L968.7,534.2 L968.9,534.0 L969.1,536.9 L969.4,536.6 L969.6,537.1 L969.8,537.4 L970.0,539.7 L970.3,540.0 L970.5,541.1 L970.7,542.7 L971.0,543.8 L971.2,543.9 L971.4,546.5 L971.7,545.6 L971.9,546.3 L972.1,548.3 L972.4,548.8 L972.6,549.5 L972.9,549.7 L973.2,550.8 L973.5,551.0 L973.8,550.8 L974.2,553.5 L974.5,553.0 L974.8,554.5 L975.1,556.3 L975.4,556.7 L975.7,559.8 L976.1,557.5 L976.4,559.0 L976.7,560.6 L977.0,562.4 L977.3,561.9 L977.6,561.7 L978.0,564.4 L978.3,563.4 L978.6,564.5 L979.1,565.7 L979.6,564.8 L980.1,565.3 L980.6,566.4 L981.1,566.1 L981.6,566.9 L982.1,566.2 L982.6,567.3 L983.1,567.0 L983.6,567.1 L984.1,570.4 L984.6,570.0 L985.1,571.1 L985.6,570.3 L986.1,571.9 L986.7,572.4 L987.5,571.9 L988.2,574.0 L988.9,573.5 L989.6,574.4 L990.3,573.7 L991.0,576.1 L991.7,576.2 L992.4,576.0 L993.1,574.4 L993.8,574.3 L994.5,575.2 L995.2,573.5 L995.8,573.6 L996.5,573.0 L997.2,571.6 L997.9,573.3 L998.6,570.1 L999.2,571.4 L999.9,570.7 L1000.4,568.8 L1000.8,569.6 L1001.2,569.0 L1001.6,567.8 L1002.0,566.4 L1002.4,566.7 L1002.7,566.5 L1003.1,565.1 L1003.5,565.6 L1003.9,564.3 L1004.3,563.6 L1004.7,563.5 L1005.1,561.3 L1005.5,560.9 L1005.9,561.2 L1006.3,560.7 L1006.7,561.0 L1007.1,560.3 L1007.5,559.0 L1007.9,558.5 L1008.5,557.8 L1009.2,557.4 L1009.8,556.9 L1010.5,557.6 L1011.2,556.0 L1011.8,555.5 L1012.5,555.3 L1013.2,554.1 L1013.9,553.7 L1014.6,552.2 L1015.3,554.3 L1016.0,553.8 L1016.7,554.2 L1017.4,554.3 L1018.2,552.6 L1018.9,556.1 L1019.6,554.4 L1020.3,554.7 L1021.0,553.4 L1021.7,555.6 L1022.2,554.9 L1022.7,553.7 L1023.2,553.7 L1023.6,554.1 L1024.1,552.4 L1024.6,551.5 L1025.1,552.8 L1025.5,551.5 L1026.0,550.6 L1026.5,552.0 L1027.0,549.7 L1027.5,548.7 L1027.6,548.3 L1027.8,546.9 L1028.0,546.5 L1028.1,545.5 L1028.3,544.0 L1028.4,543.3 L1028.6,542.9 L1028.8,542.0 L1028.9,541.2 L1029.1,540.4 L1029.2,539.1 L1029.4,538.5 L1029.6,536.9 L1029.7,536.3 L1029.9,536.6 L1030.0,533.5 L1030.2,534.7 L1030.4,536.3 L1030.5,531.6 L1030.7,533.7 L1030.8,530.4 L1031.0,531.3 L1031.2,531.6 L1031.3,530.7 L1031.5,528.0 L1031.7,526.9 L1031.9,525.9 L1032.1,526.9 L1032.3,525.2 L1032.5,524.7 L1032.7,524.1 L1033.0,523.5 L1033.2,522.9 L1033.4,521.8 L1033.6,519.7 L1033.8,521.4 L1034.0,517.3 L1034.2,519.7 L1034.4,517.5 L1034.6,517.2 L1034.9,516.2 L1035.1,515.6 L1035.3,515.2 L1035.5,514.3 L1035.7,513.0 L1035.9,513.8 L1036.1,512.0 L1036.3,512.8 L1036.5,510.8 L1036.8,509.7 L1037.0,509.8 L1037.2,509.4 L1037.4,507.2 L1037.5,506.9 L1037.7,507.5 L1037.8,504.8 L1037.9,504.2 L1038.0,504.3 L1038.2,502.4 L1038.3,500.7 L1038.4,500.7 L1038.6,501.6 L1038.7,501.1 L1038.8,500.3 L1039.0,499.3 L1039.1,497.2 L1039.2,497.9 L1039.3,497.4 L1039.5,495.1 L1039.6,495.5 L1039.7,493.5 L1039.9,493.0 L1040.0,492.2 L1040.1,489.7 L1040.3,491.1 L1040.4,488.3 L1040.5,487.9 L1040.7,486.6 L1040.8,486.5 L1040.9,485.6 L1041.0,484.5 L1041.2,484.8 L1041.3,483.1 L1041.5,481.8 L1041.7,479.1 L1041.9,480.5 L1042.1,479.7 L1042.3,478.5 L1042.6,477.8 L1042.8,478.2 L1043.0,477.9 L1043.2,477.8 L1043.4,476.5 L1043.6,474.4 L1043.8,474.5 L1044.0,472.6 L1044.6,473.8 L1045.1,473.1 L1045.6,471.9 L1046.1,471.9 L1046.7,471.3 L1047.2,470.5 L1047.7,472.7 L1048.3,474.7 L1048.9,473.4 L1049.5,474.0 L1050.0,473.8 L1050.6,473.8 L1051.1,476.4 L1051.5,475.0 L1051.8,476.3 L1052.2,476.7 L1052.5,478.0 L1052.9,478.3 L1053.3,479.6 L1053.6,479.0 L1054.0,480.7 L1054.3,482.7 L1054.7,481.6 L1055.0,482.6 L1055.2,485.1 L1055.3,485.1 L1055.5,486.4 L1055.6,484.5 L1055.8,487.2 L1056.0,486.8 L1056.1,487.4 L1056.3,489.6 L1056.4,490.9 L1056.6,489.4 L1056.7,490.3 L1056.9,491.4 L1057.0,492.4 L1057.2,492.1 L1057.4,495.6 L1057.5,495.0 L1057.7,495.0 L1057.8,495.6 L1058.0,498.6 L1058.1,499.4 L1058.3,498.0 L1058.4,499.6 L1058.6,501.2 L1058.8,500.1 L1058.9,501.5 L1059.0,503.9 L1059.2,503.2 L1059.3,504.4 L1059.4,504.6 L1059.5,506.1 L1059.6,508.2 L1059.8,507.9 L1059.9,508.4 L1060.0,509.8 L1060.1,512.6 L1060.3,512.1 L1060.4,512.3 L1060.5,513.7 L1060.6,514.6 L1060.8,515.1 L1060.9,514.3 L1061.0,516.7 L1061.1,516.9 L1061.3,518.4 L1061.4,517.3 L1061.5,519.9 L1061.6,519.2 L1061.8,518.9 L1061.9,521.9 L1062.0,521.0 L1062.1,522.4 L1062.3,522.6 L1062.4,524.4 L1062.5,525.1 L1062.6,525.9 L1062.7,526.4 L1062.9,525.3 L1063.0,526.1 L1063.1,528.4 L1063.2,528.3 L1063.3,530.3 L1063.4,530.9 L1063.5,530.5 L1063.6,531.6 L1063.7,532.4 L1063.8,533.4 L1063.9,534.8 L1064.0,536.4 L1064.1,537.7 L1064.2,536.7 L1064.3,537.8 L1064.5,540.4 L1064.6,540.6 L1064.7,540.8 L1064.8,539.5 L1064.9,541.3 L1065.0,543.0 L1065.1,543.1 L1065.2,546.0 L1065.3,545.2 L1065.4,546.2 L1065.5,545.9 L1065.6,546.8 L1065.7,548.0 L1065.8,549.0 L1065.9,550.2 L1066.0,551.6 L1066.1,552.4 L1066.2,553.9 L1066.3,552.9 L1066.5,555.0 L1066.6,555.8 L1066.7,557.7 L1066.8,556.9 L1066.9,558.1 L1067.0,557.9 L1067.1,559.7 L1067.2,560.4 L1067.3,560.4 L1067.4,561.3 L1067.5,562.4 L1067.6,563.6 L1067.7,562.9 L1067.8,565.3 L1067.9,565.0 L1068.0,567.5 L1068.1,567.8 L1068.2,567.0 L1068.3,567.5 L1068.5,570.6 L1068.6,569.8 L1068.7,570.5 L1068.8,570.5 L1068.9,571.5 L1069.0,573.1 L1069.1,573.9 L1069.2,573.6 L1069.3,576.2 L1069.4,576.3 L1069.5,576.1 L1069.6,578.5 L1069.7,578.4 L1069.8,579.9 L1069.9,579.5 L1070.0,581.0 L1070.1,580.1 L1070.2,582.4 L1070.3,581.6 L1070.5,583.8 L1070.6,582.3 L1070.7,585.1 L1070.8,586.6 L1070.9,587.2 L1071.0,588.6 L1071.1,587.5 L1071.2,590.5 L1071.3,591.3 L1071.4,589.8 L1071.5,590.9 L1071.6,591.8 L1071.7,593.0 L1071.8,593.9 L1071.9,592.6 L1072.0,595.8 L1072.1,595.9 L1072.2,596.2 L1072.3,598.6 L1072.4,598.5 L1072.5,600.6 L1072.7,601.1 L1072.8,601.4 L1072.9,603.6 L1073.0,604.3 L1073.1,604.2 L1073.2,604.2 L1073.3,606.0 L1073.4,607.7 L1073.5,607.9 L1073.6,610.3 L1073.7,609.8 L1073.8,610.5 L1073.9,611.4 L1074.0,611.0 L1074.1,612.4 L1074.2,612.7 L1074.3,612.1 L1074.4,613.3 L1074.5,616.1 L1074.7,615.9 L1074.8,616.9 L1074.9,616.5 L1075.0,617.9 L1075.1,619.7 L1075.2,619.9 L1075.4,620.1 L1075.5,622.6 L1075.6,622.1 L1075.7,622.7 L1075.8,624.8 L1076.0,623.4 L1076.1,626.2 L1076.2,625.9 L1076.3,627.1 L1076.4,628.1 L1076.6,629.7 L1076.7,630.6 L1076.8,631.6 L1076.9,632.3 L1077.0,634.1 L1077.1,635.0 L1077.3,635.0 L1077.4,635.7 L1077.5,635.5 L1077.6,635.6 L1077.7,637.6 L1077.9,637.9 L1078.0,639.2 L1078.1,637.7 L1078.2,642.0 L1078.3,639.5 L1078.5,641.2 L1078.6,642.6 L1078.7,641.4 L1078.8,642.7 L1078.9,642.1 L1079.0,643.2 L1079.2,643.5 L1079.3,645.8 L1079.4,646.6 L1079.5,646.9 L1079.6,649.0 L1079.8,650.0 L1079.9,649.8 L1080.0,650.6 L1080.1,651.5 L1080.2,652.3 L1080.4,654.7 L1080.5,654.8 L1080.6,655.2 L1080.7,656.2 L1080.8,657.7 L1080.9,657.7 L1081.1,659.1 L1081.2,659.6 L1081.3,661.6 L1081.4,662.2 L1081.5,660.9 L1081.7,662.7 L1081.8,664.2 L1081.9,664.0 L1082.0,665.8 L1082.1,666.1 L1082.3,667.1 L1082.4,667.3 L1082.5,668.3 L1082.6,669.3 L1082.7,668.5 L1082.9,669.7 L1083.0,670.4 L1083.1,673.4 L1083.2,673.1 L1083.3,673.9 L1083.4,674.4 L1083.6,674.5 L1083.7,675.0 L1083.8,677.0 L1083.9,676.6 L1084.0,678.8 L1084.2,678.4 L1084.3,679.0 L1084.4,679.4 L1084.5,680.2 L1084.6,681.0 L1084.8,682.9 L1084.9,684.3 L1085.0,682.3 L1085.1,684.3 L1085.2,685.5 L1085.4,685.1 L1085.5,686.3 L1085.6,687.4 L1085.7,686.9 L1085.8,690.4 L1085.9,690.9 L1086.1,691.8 L1086.2,692.9 L1086.3,694.0 L1086.4,696.5 L1086.5,695.6 L1086.6,696.8 L1086.6,696.5 L1086.7,697.9 L1086.8,698.1 L1086.9,699.0 L1086.9,699.2 L1087.0,700.1 L1087.1,702.0 L1087.1,703.1 L1087.2,703.8 L1087.3,703.8 L1087.4,705.5 L1087.4,704.1 L1087.5,707.7 L1087.6,707.7 L1087.7,708.7 L1087.7,710.1 L1087.8,709.5 L1087.9,711.3 L1088.0,710.9 L1088.0,712.4 L1088.1,712.3 L1088.2,713.7 L1088.2,715.4 L1088.3,714.5 L1088.4,715.3 L1088.5,716.4 L1088.5,717.7 L1088.6,720.5 L1088.7,718.7 L1088.8,718.3 L1088.8,720.2 L1088.9,720.3 L1089.0,721.8 L1089.1,723.0 L1089.2,722.9 L1089.3,723.8 L1089.4,723.4 L1089.5,725.7 L1089.6,725.5 L1089.7,727.6 L1089.8,728.2 L1089.9,727.3 L1090.0,728.4 L1090.1,729.5 L1090.2,730.9 L1090.3,729.8 L1090.4,731.9 L1090.5,734.3 L1090.6,733.6 L1090.7,734.8 L1090.8,735.5 L1090.9,735.4 L1091.0,738.1 L1091.1,738.4 L1091.2,739.3 L1091.3,740.7 L1091.4,741.7 L1091.5,740.5 L1091.6,743.3 L1091.7,743.4 L1091.8,744.8 L1091.9,745.0 L1092.0,745.7 L1092.1,748.0 L1092.2,748.1 L1092.3,748.7 L1092.4,749.5 L1092.5,750.6 L1092.6,751.3 L1092.7,750.1 L1092.7,752.0 L1092.8,753.2 L1092.9,754.7 L1093.0,755.8 L1093.1,754.6 L1093.2,757.6 L1093.3,756.7 L1093.4,757.6 L1093.5,757.4 L1093.6,758.0 L1093.7,760.3 L1093.8,759.7 L1093.9,760.5 L1094.0,762.3 L1094.2,763.5 L1094.3,761.7 L1094.4,763.5 L1094.6,764.4 L1094.7,766.7 L1094.8,768.1 L1095.0,766.9 L1095.1,768.0 L1095.2,769.2 L1095.4,770.3 L1095.5,769.9 L1095.6,771.6 L1095.8,771.1 L1095.9,770.3 L1096.0,772.0 L1096.2,774.0 L1096.3,775.2 L1096.4,773.5 L1096.6,774.5 L1096.7,776.7 L1096.8,774.7 L1097.0,778.6 L1097.1,779.8 L1097.2,777.3 L1097.4,781.1 L1097.5,781.2 L1097.6,783.3 L1097.8,783.3 L1097.9,783.7 L1098.0,784.9 L1098.2,786.5 L1098.3,786.8 L1098.4,787.6 L1098.6,787.3 L1098.7,789.7 L1098.8,790.2 L1099.0,792.5 L1099.1,791.9 L1099.2,792.7 L1099.4,793.1 L1099.6,795.0 L1099.8,795.1 L1100.0,795.5 L1100.3,798.1 L1100.5,799.1 L1100.7,798.1 L1100.9,798.4 L1101.1,801.0 L1101.3,800.2 L1101.5,803.8 L1101.7,802.2 L1101.9,803.8 L1102.1,802.7 L1102.3,804.5 L1102.5,806.1 L1102.7,806.4 L1102.9,806.4 L1103.1,809.6 L1103.3,809.1 L1103.5,809.2 L1103.7,809.9 L1103.9,811.1 L1104.2,813.3 L1104.4,812.6 L1104.6,814.1 L1104.8,814.3 L1105.0,816.8 L1105.2,816.5 L1105.4,818.1 L1105.6,818.6 L1105.8,818.4 L1106.0,820.1 L1106.2,821.0 L1106.4,820.1 L1106.6,822.3 L1106.8,825.4 L1107.0,823.1 L1107.2,824.7 L1107.4,824.0 L1107.7,826.2 L1107.9,826.2 L1108.1,828.1 L1108.4,828.2 L1108.6,828.1 L1108.8,830.6 L1109.1,830.2 L1109.3,830.3 L1109.5,831.8 L1109.8,831.6 L1110.0,833.3 L1110.2,833.6 L1110.4,833.9 L1110.7,835.4 L1110.9,834.5 L1111.1,837.0 L1111.4,835.3 L1111.6,839.0 L1111.8,838.6 L1112.1,839.0 L1112.3,839.4 L1112.5,841.3 L1112.8,841.5 L1113.0,842.2 L1113.2,843.9 L1113.5,843.5 L1113.7,844.4 L1113.9,845.6 L1114.1,846.9 L1114.4,846.7 L1114.6,847.8 L1114.8,848.6 L1115.1,850.1 L1115.3,851.6 L1115.5,850.5 L1115.8,852.1 L1116.0,853.0 L1116.2,854.3 L1116.5,855.8 L1116.7,855.3 L1116.8,856.2 L1117.0,857.6 L1117.2,856.4 L1117.3,857.5 L1117.5,858.4 L1117.6,859.5 L1117.8,860.4 L1118.0,860.5 L1118.1,863.1 L1118.3,861.9 L1118.4,863.0 L1118.6,864.8 L1118.7,865.3 L1118.9,865.5 L1119.1,866.6 L1119.2,867.8 L1119.4,868.0 L1119.5,869.4 L1119.7,869.0 L1119.8,870.7 L1120.0,870.2 L1120.2,871.7 L1120.3,872.4 L1120.5,875.2 L1120.6,874.7 L1120.8,876.2 L1120.9,876.1 L1121.1,877.5 L1121.3,878.3 L1121.4,878.6 L1121.6,880.7 L1121.7,879.4 L1121.9,881.9 L1122.0,884.1 L1122.2,881.9 L1122.4,883.1 L1122.5,882.4 L1122.7,884.2 L1122.8,883.4 L1123.0,885.9 L1123.1,885.7 L1123.3,885.3 L1123.5,886.5 L1123.6,887.1 L1123.8,889.0 L1123.9,890.8 L1124.1,890.7 L1124.2,891.0 L1124.4,892.2 L1124.5,893.9 L1124.7,892.8 L1124.8,896.3 L1125.0,897.1 L1125.2,895.7 L1125.3,899.7 L1125.5,898.3 L1125.6,900.3 L1125.8,902.3 L1125.9,900.8 L1126.1,901.4 L1126.2,902.6 L1126.4,903.3 L1126.5,904.7 L1126.7,905.0 L1126.9,905.6 L1127.0,906.3 L1127.2,907.2 L1127.3,907.3 L1127.5,909.0 L1127.6,909.5 L1127.8,909.4 L1127.9,912.5 L1128.1,910.8 L1128.3,913.2 L1128.4,912.9 L1128.6,914.6 L1128.7,915.7 L1128.9,916.9 L1129.0,918.2 L1129.2,917.3 L1129.4,921.3 L1129.6,920.2 L1129.8,920.2 L1130.0,920.6 L1130.2,924.5 L1130.4,924.7 L1130.6,924.1 L1130.8,925.5 L1131.0,926.8 L1131.2,926.5 L1131.4,926.9 L1131.6,928.0 L1131.8,929.5 L1132.0,929.7 L1132.2,929.5 L1132.4,931.9 L1132.6,930.7 L1132.8,932.2 L1133.0,934.5 L1133.2,934.3 L1133.4,934.9 L1133.6,935.3 L1133.8,936.6 L1134.0,936.2 L1134.2,935.2 L1134.4,937.6 L1134.6,935.5 L1134.8,937.0 L1135.0,940.7 L1135.2,941.0 L1135.4,940.5 L1135.6,941.5 L1135.8,942.4 L1136.0,943.8 L1136.2,943.0 L1136.4,943.6 L1136.6,944.6 L1136.8,945.9 L1137.0,946.8 L1137.2,947.1 L1137.4,948.9 L1137.6,948.3 L1137.8,949.9 L1138.0,950.3 L1138.2,950.9 L1138.4,953.6 L1138.6,953.2 L1138.8,953.5 L1139.0,955.2 L1139.2,955.1 L1139.5,957.3 L1139.7,958.3 L1139.9,959.2 L1140.1,958.3 L1140.3,959.8 L1140.5,962.2 L1140.7,961.3 L1140.9,963.3 L1141.1,964.3 L1141.3,962.7 L1141.5,965.6 L1141.7,965.9 L1141.9,966.7 L1142.1,968.1 L1142.3,967.8 L1142.5,968.2 L1142.7,969.3 L1142.9,969.2 L1143.1,970.6 L1143.4,969.3 L1143.6,973.2 L1143.8,972.1 L1144.0,973.8 L1144.2,974.4 L1144.4,975.1 L1144.6,976.0 L1144.8,976.8 L1145.0,976.3 L1145.2,978.0 L1145.3,980.3 L1145.4,979.4 L1145.6,980.2 L1145.7,983.7 L1145.8,983.8 L1146.0,984.9 L1146.1,984.4 L1146.2,985.4 L1146.4,986.5 L1146.5,987.1 L1146.6,987.3 L1146.8,986.9 L1146.9,988.2 L1147.0,988.3 L1147.2,991.5 L1147.3,990.7 L1147.4,991.7 L1147.6,992.8 L1147.7,993.4 L1147.8,994.7 L1148.0,994.6 L1148.1,994.7 L1148.2,998.2 L1148.4,997.1 L1148.5,998.1 L1148.6,998.8 L1148.8,999.9 L1148.9,1001.2 L1149.0,1002.7 L1149.1,1002.2 L1149.3,1004.2 L1149.4,1004.3 L1149.5,1006.8 L1149.7,1005.7 L1149.8,1007.6 L1149.9,1008.9 L1150.2,1008.0 L1150.6,1009.9 L1150.9,1010.6 L1151.3,1010.5 L1151.6,1011.7 L1152.0,1013.3 L1152.4,1013.4 L1152.7,1013.6 L1153.1,1014.5 L1153.4,1015.8 L1153.8,1017.3 L1154.1,1017.7 L1154.5,1018.5 L1154.9,1020.0 L1155.2,1018.4 L1155.6,1019.3 L1155.9,1019.5 L1156.3,1022.9 L1156.7,1021.1 L1157.0,1023.7 L1157.4,1025.1 L1157.8,1024.0 L1158.3,1025.1 L1158.8,1026.0 L1159.3,1027.3 L1159.8,1025.9 L1160.3,1027.9 L1160.8,1028.6 L1161.3,1028.7 L1161.8,1029.1 L1162.3,1030.4 L1162.8,1030.0 L1163.3,1030.1 L1163.8,1030.2 L1164.3,1031.3 L1164.8,1030.9 L1165.3,1032.0 L1165.8,1032.0 L1166.3,1033.3 L1166.8,1032.3 L1167.3,1033.6 L1167.8,1034.5 L1168.3,1035.3 L1168.8,1036.7 L1169.3,1037.0 L1169.8,1038.2 L1170.3,1039.9 L1170.8,1039.9 L1171.3,1039.2 L1171.8,1039.7 L1172.3,1042.1 L1172.8,1042.0 L1173.3,1043.3 L1173.8,1043.6 L1174.3,1045.4 L1174.8,1046.0 L1175.3,1044.8 L1175.8,1046.6 L1176.3,1046.8 L1176.8,1046.6 L1177.3,1048.7 L1177.7,1048.7 L1178.0,1049.8 L1178.3,1052.0 L1178.6,1051.7 L1179.0,1052.2 L1179.3,1051.6 L1179.6,1051.6 L1179.9,1054.3 L1180.2,1053.8 L1180.5,1054.8 L1180.8,1055.3 L1181.2,1056.4 L1181.5,1059.1 L1181.8,1057.7 L1182.1,1058.5 L1182.4,1059.7 L1182.7,1060.6 L1183.0,1060.2 L1183.4,1060.5 L1183.7,1062.2 L1184.0,1063.3 L1184.3,1063.6 L1184.6,1064.1 L1184.9,1064.9 L1185.5,1065.9 L1186.0,1066.6 L1186.6,1065.9 L1187.2,1067.3 L1187.7,1068.5 L1188.3,1068.5 L1188.9,1068.0 L1189.4,1069.3 L1190.0,1070.0 L1190.5,1071.1 L1191.1,1069.7 L1191.7,1072.0 L1192.2,1071.5 L1192.8,1072.5 L1193.4,1073.4 L1193.9,1072.6 L1194.5,1073.2 L1195.1,1074.2 L1195.6,1075.4 L1196.2,1074.9 L1196.8,1074.8 L1197.3,1075.9 L1197.9,1077.4 L1198.5,1078.6 L1199.0,1078.0 L1199.6,1078.8 L1200.2,1079.6 L1200.7,1080.4 L1201.3,1080.4 L1201.9,1081.5 L1202.4,1082.7 L1203.0,1083.3 L1203.6,1083.8 L1204.1,1083.6 L1204.7,1084.5 L1205.3,1084.9 L1205.9,1086.7 L1206.5,1087.5 L1207.2,1087.1 L1207.8,1088.5 L1208.4,1087.4 L1209.0,1087.9 L1209.7,1087.5 L1210.3,1089.2 L1210.9,1089.1 L1211.5,1090.1 L1212.2,1090.9 L1212.8,1090.8 L1213.4,1090.6 L1214.0,1092.0 L1214.7,1092.4 L1215.3,1093.0 L1215.9,1094.0 L1216.5,1093.7 L1217.2,1094.1 L1217.8,1096.1 L1218.4,1095.9 L1219.0,1095.4 L1219.7,1095.2 L1220.3,1096.1 L1220.9,1097.3 L1221.5,1098.2 L1222.2,1100.1 L1222.8,1098.6 L1223.4,1099.6 L1224.0,1099.9 L1224.6,1100.8 L1225.3,1101.1 L1225.9,1101.1 L1226.5,1103.3 L1227.1,1103.0 L1227.8,1104.4 L1228.4,1103.4 L1229.0,1104.4 L1229.6,1105.1 L1230.2,1103.5 L1230.8,1104.5 L1231.4,1106.7 L1231.9,1106.7 L1232.5,1105.8 L1233.1,1107.3 L1233.6,1107.6 L1234.2,1108.7 L1234.8,1110.8 L1235.3,1109.7 L1235.9,1112.3 L1236.5,1111.1 L1237.0,1111.2 L1237.6,1113.6 L1238.2,1113.7 L1238.7,1114.6 L1239.3,1115.6 L1239.9,1115.4 L1240.4,1116.1 L1241.0,1114.4 L1241.6,1115.6 L1242.1,1117.2 L1242.7,1117.4 L1243.5,1118.1 L1244.2,1117.5 L1244.9,1119.0 L1245.6,1120.0 L1246.3,1119.1 L1247.0,1119.6 L1247.8,1119.7 L1248.5,1120.4 L1249.2,1120.2 L1249.9,1120.1 L1250.6,1121.2 L1251.3,1121.7 L1252.0,1121.0 L1252.8,1123.0 L1253.5,1123.4 L1254.2,1124.0 L1254.9,1123.9 L1255.7,1124.8 L1256.5,1125.0 L1257.3,1124.0 L1258.1,1124.9 L1258.9,1125.3 L1259.7,1125.3 L1260.5,1124.1 L1261.3,1124.1 L1262.1,1125.0 L1262.9,1124.2 L1263.7,1127.1 L1264.4,1124.5 L1265.2,1124.5 L1266.0,1125.7 L1266.8,1124.8 L1267.6,1123.3 L1268.2,1125.4 L1268.9,1125.2 L1269.5,1125.9 L1270.1,1125.4 L1270.7,1126.4 L1271.4,1127.4 L1272.0,1127.8 L1272.6,1127.4 L1273.2,1128.1 L1273.9,1128.4 L1274.5,1129.6 L1275.1,1129.7 L1275.7,1129.3 L1276.3,1131.2 L1277.0,1130.6 L1277.6,1131.9 L1278.2,1131.3 L1278.8,1132.8 L1279.5,1132.9 L1280.1,1133.5 L1280.4,1134.5 L1280.8,1135.2 L1281.1,1135.7 L1281.5,1136.4 L1281.8,1136.0 L1282.2,1137.7 L1282.6,1136.8 L1282.9,1137.5 L1283.3,1139.9 L1283.6,1140.7 L1284.0,1142.8 L1284.3,1142.9 L1284.7,1144.1 L1285.1,1143.7 L1285.4,1145.0 L1285.8,1146.3 L1286.1,1146.5 L1286.5,1147.1 L1286.9,1147.7 L1287.2,1147.7 L1287.6,1148.5 L1287.9,1148.8 L1288.3,1151.1 L1288.6,1151.3 L1289.0,1151.8 L1289.4,1153.4 L1289.7,1153.4 L1290.1,1155.4 L1290.6,1156.7 L1291.1,1156.2 L1291.6,1155.8 L1292.2,1155.8 L1292.7,1159.1 L1293.2,1158.4 L1293.7,1157.7 L1294.2,1160.1 L1294.7,1158.6 L1295.2,1160.2 L1295.7,1161.0 L1296.3,1161.6 L1296.8,1161.8 L1297.3,1165.3 L1297.8,1163.8 L1298.3,1165.1 L1298.8,1165.6 L1299.3,1165.0 L1299.8,1166.5 L1300.3,1167.7 L1300.9,1169.0 L1301.4,1168.6 L1301.9,1169.9 L1302.4,1170.0 L1303.0,1171.4 L1303.5,1169.7 L1304.1,1172.8 L1304.6,1172.4 L1305.2,1173.1 L1305.8,1171.9 L1306.3,1173.8 L1306.9,1175.7 L1307.5,1177.5 L1308.0,1175.5 L1308.6,1175.9 L1309.2,1177.2 L1309.7,1177.3 L1310.3,1176.9 L1310.9,1177.6 L1311.4,1177.7 L1312.0,1178.9 L1312.6,1179.5 L1313.1,1180.7 L1313.7,1180.5 L1314.3,1180.9 L1314.8,1181.0 L1315.4,1182.3 L1316.0,1181.4 L1316.5,1184.5 L1317.1,1183.7 L1317.7,1185.2 L1318.2,1184.1 L1318.8,1186.1 L1319.4,1186.2 L1319.9,1186.4 L1320.5,1186.6 L1321.1,1187.0 L1321.6,1189.6 L1322.2,1189.8 L1322.8,1189.4 L1323.3,1190.1 L1323.9,1189.9 L1324.4,1189.7 L1325.0,1190.3 L1325.6,1191.9 L1326.1,1192.9 L1326.7,1192.7 L1327.3,1194.9 L1328.0,1195.1 L1328.7,1195.1 L1329.5,1193.9 L1330.2,1195.4 L1331.0,1195.8 L1331.8,1195.1 L1332.5,1194.6 L1333.3,1198.2 L1334.0,1197.4 L1334.8,1196.9 L1335.5,1198.9 L1336.3,1198.8 L1337.1,1198.7 L1337.8,1198.9 L1338.6,1199.7 L1339.3,1200.6 L1340.1,1199.8 L1340.9,1199.9 L1341.6,1200.7 L1342.4,1198.2 L1343.1,1200.7 L1343.8,1200.6 L1344.4,1201.1 L1345.1,1201.2 L1345.8,1201.8 L1346.5,1201.9 L1347.2,1202.3 L1347.9,1202.5 L1348.6,1203.5 L1349.2,1203.3 L1349.9,1205.1 L1350.6,1203.6 L1351.3,1205.7 L1352.0,1206.5 L1352.7,1205.6 L1353.4,1206.7 L1354.1,1208.5 L1354.7,1207.7 L1355.5,1207.3 L1356.3,1205.6 L1357.1,1208.3 L1357.9,1208.1 L1358.6,1208.5 L1359.4,1209.7 L1360.2,1208.2 L1361.0,1208.4 L1361.8,1207.8 L1362.6,1208.5 L1363.4,1208.7 L1364.2,1209.4 L1365.0,1209.4 L1365.7,1208.5 L1366.5,1208.9 L1367.3,1210.5 L1368.1,1208.8 L1368.9,1210.4 L1369.7,1211.2 L1370.5,1210.5 L1371.3,1210.0 L1372.0,1210.8 L1372.8,1209.9 L1373.6,1209.6 L1374.4,1209.3 L1375.2,1210.3 L1376.0,1209.9 L1376.8,1210.4 L1377.5,1208.8 L1378.3,1208.7 L1379.1,1208.4 L1379.9,1208.8 L1380.7,1207.9 L1381.5,1209.0 L1382.2,1208.3 L1383.0,1207.1 L1383.8,1205.3 L1384.6,1205.9 L1385.4,1208.3 L1386.2,1206.8 L1387.0,1206.7 L1387.7,1205.9 L1388.5,1206.2 L1389.3,1204.0 L1390.1,1203.7 L1390.9,1203.7 L1391.7,1204.9 L1392.4,1205.3 L1393.2,1205.0 L1394.0,1204.4 L1394.8,1203.4 L1395.6,1205.2 L1396.4,1204.6 L1397.1,1205.0 L1397.9,1205.2 L1398.7,1205.1 L1399.5,1205.1 L1400.3,1205.4 L1401.1,1205.1 L1401.9,1206.5 L1402.6,1206.4 L1403.4,1207.5 L1404.2,1205.5 L1405.0,1208.1 L1405.8,1207.3 L1406.6,1207.5 L1407.3,1207.2 L1408.1,1207.6 L1408.8,1207.4 L1409.5,1209.8 L1410.2,1209.3 L1410.9,1210.5 L1411.7,1210.9 L1412.4,1210.3 L1413.1,1210.8 L1413.8,1211.1 L1414.5,1212.6 L1415.2,1212.2 L1415.9,1212.6 L1416.7,1213.4 L1417.4,1213.1 L1418.1,1214.7 L1418.9,1212.2 L1419.7,1213.8 L1420.4,1213.7 L1421.2,1211.5 L1422.0,1212.9 L1422.7,1212.2 L1423.5,1212.4 L1424.3,1210.5 L1425.0,1211.3 L1425.8,1209.9 L1426.6,1210.1 L1427.3,1211.1 L1428.1,1209.5 L1428.9,1207.6 L1429.6,1208.0 L1430.4,1208.2 L1431.2,1209.9 L1432.0,1208.6 L1432.8,1208.0 L1433.6,1210.3 L1434.4,1209.7 L1435.2,1209.8 L1436.0,1209.0 L1436.7,1210.8 L1437.5,1209.5 L1438.3,1208.0 L1439.1,1208.7 L1439.9,1209.0 L1440.7,1209.6 L1441.5,1210.4 L1442.3,1209.2 L1443.1,1209.2 L1443.9,1211.3 L1444.7,1209.5 L1445.5,1208.7 L1446.3,1208.7 L1447.0,1207.1 L1447.8,1208.1 L1448.6,1207.9 L1449.3,1206.2 L1450.1,1207.1 L1450.9,1205.7 L1451.6,1205.8 L1452.4,1204.7 L1453.2,1204.4 L1454.0,1203.6 L1454.7,1204.7 L1455.5,1204.1 L1456.3,1204.0 L1457.0,1203.1 L1457.8,1202.8 L1458.6,1203.0 L1459.3,1203.6 L1460.1,1203.2 L1460.8,1202.0 L1461.5,1202.4 L1462.2,1203.3 L1462.9,1201.6 L1463.6,1202.9 L1464.3,1201.3 L1465.0,1201.8 L1465.7,1200.0 L1466.4,1201.1 L1467.1,1198.9 L1467.8,1199.8 L1468.5,1199.0 L1469.2,1197.3 L1469.9,1197.4 L1470.6,1199.0 L1471.3,1198.1 L1472.0,1198.3 L1472.7,1197.0 L1473.4,1194.0 L1474.1,1196.0 L1474.8,1194.8 L1475.6,1194.7 L1476.4,1194.8 L1477.1,1194.6 L1477.9,1194.6 L1478.7,1196.4 L1479.5,1196.0 L1480.3,1195.3 L1481.0,1195.7 L1481.8,1197.0 L1482.6,1196.8 L1483.4,1197.0 L1484.1,1196.1 L1484.9,1197.0 L1485.7,1196.7 L1486.5,1196.4 L1487.3,1198.8 L1488.0,1198.1 L1488.8,1198.2 L1489.6,1197.9 L1490.3,1199.0 L1491.0,1199.6 L1491.6,1197.9 L1492.3,1197.7 L1492.9,1195.5 L1493.5,1196.3 L1494.2,1196.0 L1494.8,1196.7 L1495.5,1195.3 L1496.1,1194.2 L1496.8,1194.7 L1497.4,1194.1 L1498.1,1195.3 L1498.7,1194.3 L1499.3,1193.6 L1500.0,1193.0 L1500.6,1193.1 L1501.3,1191.5 L1501.9,1190.6 L1502.6,1189.3 L1503.2,1191.1 L1503.9,1190.0 L1504.5,1189.5 L1505.2,1188.5 L1506.0,1189.4 L1506.7,1187.0 L1507.5,1188.5 L1508.3,1186.6 L1509.0,1186.6 L1509.8,1185.8 L1510.6,1186.7 L1511.3,1186.2 L1512.1,1186.5 L1512.9,1185.5 L1513.7,1184.6 L1514.4,1186.0 L1515.2,1186.3 L1516.0,1185.6 L1516.7,1184.7 L1517.5,1184.8 L1518.3,1182.8 L1519.0,1183.6 L1519.8,1184.5 L1520.6,1183.6 L1521.4,1182.3 L1522.1,1183.3 L1522.9,1182.2 L1523.7,1182.6 L1524.4,1180.6 L1525.2,1181.1 L1526.0,1181.5 L1526.8,1181.3 L1527.5,1181.3 L1528.3,1180.6 L1529.1,1180.3 L1529.8,1180.7 L1530.6,1180.8 L1531.3,1178.8 L1532.1,1179.6 L1532.9,1179.6 L1533.6,1179.8 L1534.4,1180.4 L1535.1,1178.4 L1535.9,1179.8 L1536.6,1177.9 L1537.4,1178.6 L1538.1,1178.6 L1538.9,1178.6 L1539.7,1178.1 L1540.3,1177.6 L1540.7,1177.0 L1541.2,1176.2 L1541.7,1174.1 L1542.1,1173.5 L1542.6,1173.4 L1543.1,1173.2 L1543.5,1172.7 L1544.0,1173.3 L1544.5,1170.4 L1545.0,1168.9 L1545.4,1169.0 L1545.9,1168.8 L1546.4,1167.9 L1546.8,1166.4 L1547.3,1166.7 L1547.8,1166.2 L1548.3,1164.5 L1548.7,1164.1 L1549.2,1165.4 L1549.7,1161.9 L1550.2,1163.1 L1550.8,1162.1 L1551.4,1162.8 L1552.0,1161.5 L1552.6,1159.8 L1553.1,1160.9 L1553.7,1159.0 L1554.3,1160.6 L1554.9,1159.9 L1555.5,1158.2 L1556.1,1158.6 L1556.7,1157.8 L1557.3,1156.6 L1557.9,1157.9 L1558.5,1157.1 L1559.1,1157.1 L1559.7,1156.9 L1560.3,1156.9 L1560.9,1156.2 L1561.5,1154.8 L1562.1,1154.4 L1562.7,1154.3 L1563.5,1154.1 L1564.2,1154.1 L1565.0,1155.8 L1565.7,1154.8 L1566.5,1156.0 L1567.2,1154.0 L1568.0,1154.7 L1568.7,1154.5 L1569.5,1154.8 L1570.3,1155.2 L1571.0,1155.7 L1571.8,1155.8 L1572.5,1158.1 L1573.1,1156.9 L1573.7,1155.6 L1574.3,1155.5 L1575.0,1156.3 L1575.6,1155.8 L1576.2,1154.6 L1576.8,1155.4 L1577.4,1153.0 L1578.0,1153.2 L1578.6,1154.3 L1579.2,1150.3 L1579.8,1151.5 L1580.4,1151.7 L1581.0,1150.0 L1581.7,1148.8 L1582.3,1147.9 L1582.8,1146.2 L1583.4,1146.0 L1583.9,1146.3 L1584.4,1145.0 L1584.9,1144.7 L1585.5,1143.9 L1586.0,1143.6 L1586.5,1141.4 L1587.0,1141.9 L1587.6,1141.2 L1588.1,1140.7 L1588.6,1139.6 L1589.1,1138.0 L1589.7,1139.7 L1590.2,1139.2 L1590.7,1139.9 L1591.2,1138.0 L1591.8,1138.2 L1592.3,1136.8 L1593.0,1135.8 L1593.8,1136.5 L1594.6,1135.3 L1595.4,1136.5 L1596.2,1136.3 L1597.0,1135.6 L1597.8,1137.5 L1598.6,1137.5 L1599.4,1137.0 L1600.2,1137.3 L1601.0,1138.0 L1601.8,1136.6 L1602.6,1135.6 L1603.4,1135.8 L1604.2,1137.1 L1605.0,1136.6 L1605.7,1135.3 L1606.5,1137.6 L1607.3,1136.8 L1608.1,1138.0 L1608.9,1137.8 L1609.7,1136.7 L1610.4,1137.3 L1611.2,1136.9 L1612.0,1137.0 L1612.8,1137.6 L1613.6,1138.5 L1614.4,1139.4 L1615.2,1137.8 L1615.9,1139.2 L1616.7,1138.9 L1617.5,1138.8 L1618.3,1140.0 L1619.1,1139.0 L1619.9,1140.6 L1620.6,1139.1 L1621.4,1138.5 L1622.2,1139.6 L1623.0,1137.7 L1623.8,1137.7 L1624.5,1138.3 L1625.3,1138.1 L1626.1,1137.6 L1626.9,1135.9 L1627.6,1136.0 L1628.4,1137.0 L1629.2,1136.6 L1630.0,1135.0 L1630.8,1135.6 L1631.5,1135.2 L1632.3,1135.5 L1633.0,1133.7 L1633.7,1135.0 L1634.3,1133.1 L1635.0,1134.1 L1635.6,1133.3 L1636.3,1131.5 L1636.9,1131.7 L1637.6,1131.9 L1638.2,1132.2 L1638.9,1130.0 L1639.5,1130.4 L1640.2,1131.0 L1640.9,1130.6 L1641.5,1129.1 L1642.2,1128.9 L1642.8,1130.0 L1643.5,1129.3 L1644.2,1130.8 L1644.9,1131.7 L1645.6,1131.4 L1646.3,1129.6 L1647.0,1133.1 L1647.7,1133.4 L1648.4,1133.9 L1649.1,1133.8 L1649.8,1132.1 L1650.5,1134.9 L1651.2,1134.4 L1651.9,1135.3 L1652.6,1134.7 L1653.3,1135.1 L1654.0,1135.5 L1654.7,1137.3 L1655.2,1136.9 L1655.6,1137.3 L1656.0,1137.2 L1656.4,1139.4 L1656.7,1139.9 L1657.1,1140.8 L1657.5,1142.3 L1657.9,1142.9 L1658.2,1143.1 L1658.6,1144.1 L1659.0,1144.8 L1659.4,1146.0 L1659.8,1146.8 L1660.1,1147.1 L1660.5,1147.0 L1660.9,1149.1 L1661.3,1149.8 L1661.6,1149.0 L1662.0,1150.8 L1662.4,1150.9 L1663.1,1149.9 L1663.8,1151.9 L1664.6,1153.0 L1665.3,1151.9 L1666.1,1152.3 L1666.9,1153.9 L1667.6,1152.5 L1668.4,1152.9 L1669.2,1153.6 L1669.9,1154.4 L1670.7,1154.5 L1671.4,1153.6 L1672.2,1153.8 L1673.0,1154.1 L1673.7,1153.8 L1674.5,1153.5 L1675.2,1153.5 L1675.8,1155.4 L1676.5,1155.2 L1677.1,1158.3 L1677.7,1157.1 L1678.3,1156.7 L1679.0,1158.0 L1679.6,1159.0 L1680.2,1159.7 L1680.8,1160.4 L1681.5,1160.9 L1682.1,1160.9 L1682.7,1161.9 L1683.3,1163.5 L1684.0,1161.7 L1684.6,1162.0 L1685.2,1163.1 L1685.8,1163.7 L1686.5,1163.6 L1687.1,1164.2 L1687.7,1163.5 L1688.5,1163.5 L1689.2,1164.4 L1689.9,1164.7 L1690.6,1165.8 L1691.3,1166.0 L1692.1,1163.6 L1692.8,1166.1 L1693.5,1165.3 L1694.2,1164.6 L1694.9,1167.0 L1695.7,1166.9 L1696.4,1167.2 L1697.1,1166.8 L1697.8,1167.4 L1698.6,1168.4 L1699.3,1167.7 L1700.0,1169.1 L1700.8,1169.4 L1701.6,1169.3 L1702.3,1169.8 L1703.1,1169.7 L1703.9,1169.0 L1704.7,1169.3 L1705.5,1170.4 L1706.3,1171.3 L1707.1,1170.9 L1707.8,1170.7 L1708.6,1171.5 L1709.4,1170.1 L1710.2,1171.0 L1711.0,1171.7 L1711.8,1172.1 L1712.5,1172.0 L1713.3,1172.3 L1714.0,1171.9 L1714.8,1172.6 L1715.5,1173.4 L1716.3,1172.0 L1717.0,1172.7 L1717.7,1173.6 L1718.5,1175.2 L1719.2,1174.8 L1720.0,1175.8 L1720.7,1175.9 L1721.5,1174.7 L1722.2,1175.3 L1722.9,1174.8 L1723.7,1177.0 L1724.4,1177.0 L1725.2,1177.1 L1725.9,1176.9 L1726.6,1176.4 L1727.3,1175.9 L1728.0,1175.7 L1728.7,1176.2 L1729.5,1174.4 L1730.2,1174.0 L1730.9,1174.6 L1731.6,1175.4 L1732.3,1174.4 L1733.0,1173.9 L1733.7,1174.4 L1734.5,1173.6 L1735.2,1171.6 L1735.9,1172.0 L1736.6,1170.7 L1737.3,1171.7 L1738.0,1171.0 L1738.8,1171.2 L1739.5,1172.0 L1740.2,1169.4 L1741.0,1170.0 L1741.7,1169.8 L1742.5,1168.0 L1743.2,1169.8 L1744.0,1170.1 L1744.8,1171.2 L1745.5,1170.7 L1746.3,1170.7 L1747.1,1172.6 L1747.8,1172.5 L1748.6,1172.3 L1749.3,1172.8 L1750.1,1173.5 L1750.9,1174.7 L1751.6,1175.5 L1752.4,1173.6 L1753.0,1176.0 L1753.7,1175.5 L1754.3,1176.1 L1754.9,1177.0 L1755.5,1175.8 L1756.2,1177.7 L1756.8,1176.3 L1757.4,1177.3 L1758.0,1177.4 L1758.7,1179.7 L1759.3,1180.1 L1759.9,1179.8 L1760.5,1180.1 L1761.2,1179.7 L1761.8,1182.0 L1762.4,1182.2 L1763.0,1182.4 L1763.7,1182.2 L1764.3,1182.6 L1764.9,1183.5 L1765.5,1185.3 L1766.2,1184.2 L1766.8,1185.7 L1767.4,1187.6 L1768.0,1187.7 L1768.7,1189.0 L1769.3,1188.6 L1769.9,1189.1 L1770.5,1190.3 L1771.2,1190.2 L1771.8,1190.3 L1772.4,1190.0 L1773.0,1189.6 L1773.7,1192.3 L1774.3,1191.2 L1774.9,1191.3 L1775.5,1193.0 L1776.1,1192.0 L1776.8,1192.0 L1777.4,1193.0 L1778.0,1193.8 L1778.6,1194.4 L1779.3,1194.9 L1779.9,1195.6 L1780.7,1194.8 L1781.5,1195.1 L1782.3,1194.7 L1783.0,1194.3 L1783.8,1195.1 L1784.6,1195.1 L1785.4,1196.3 L1786.2,1195.4 L1787.0,1194.4 L1787.8,1195.5 L1788.6,1194.9 L1789.4,1196.4 L1790.2,1193.9 L1791.0,1194.8 L1791.8,1195.0 L1792.6,1195.8 L1793.3,1196.1 L1794.0,1195.5 L1794.7,1195.8 L1795.4,1198.0 L1796.1,1199.6 L1796.9,1200.1 L1797.6,1199.2 L1798.3,1200.4 L1799.0,1199.8 L1799.7,1199.7 L1800.4,1202.2 L1801.1,1202.1 L1801.8,1201.7 L1802.5,1201.9 L1803.2,1203.3 L1804.0,1203.1 L1804.7,1202.9 L1805.4,1203.8 L1806.1,1203.9 L1806.8,1203.9 L1807.5,1204.1 L1808.2,1205.8 L1808.9,1205.1 L1809.6,1205.0 L1810.3,1207.8 L1811.0,1207.9 L1811.7,1207.8 L1812.4,1207.9 L1813.1,1208.6 L1813.8,1207.9 L1814.5,1209.5 L1815.2,1210.3 L1815.9,1210.4 L1816.6,1211.4 L1817.2,1210.8 L1818.0,1211.6 L1818.8,1210.1 L1819.6,1211.1 L1820.4,1210.5 L1821.1,1209.8 L1821.9,1210.4 L1822.7,1210.6 L1823.5,1210.0 L1824.3,1211.0 L1825.1,1209.6 L1825.8,1210.7 L1826.6,1210.4 L1827.4,1209.3 L1828.2,1210.9 L1829.0,1208.6 L1829.8,1210.0 L1830.6,1209.5 L1831.4,1209.9 L1832.2,1207.9 L1833.0,1208.0 L1833.8,1208.1 L1834.5,1208.7 L1835.3,1208.7 L1836.1,1208.6 L1836.8,1208.8 L1837.4,1209.0 L1838.0,1209.0 L1838.6,1210.4 L1839.2,1211.8 L1839.8,1212.8 L1840.4,1212.2 L1841.0,1214.1 L1841.6,1212.9 L1842.2,1215.2 L1842.8,1214.3 L1843.4,1216.0 L1844.0,1215.7 L1844.6,1216.2 L1845.2,1217.1 L1845.9,1219.2 L1846.6,1218.0 L1847.2,1219.3 L1847.9,1219.3 L1848.6,1219.8 L1849.3,1220.1 L1850.0,1220.6 L1850.7,1219.5 L1851.4,1220.8 L1852.0,1221.4 L1852.7,1221.0 L1853.4,1222.2 L1854.1,1221.5 L1854.8,1223.4 L1855.5,1222.8 L1856.2,1223.7 L1856.8,1225.1 L1857.5,1226.0 L1858.2,1225.3 L1858.9,1225.9 L1859.6,1227.8 L1860.3,1225.4 L1861.0,1229.3 L1861.7,1229.8 L1862.3,1228.4 L1863.0,1230.6 L1863.7,1230.4 L1864.4,1230.8 L1865.2,1228.9 L1865.9,1230.6 L1866.6,1231.1 L1867.4,1231.2 L1868.1,1231.5 L1868.9,1231.8 L1869.6,1230.1 L1870.3,1232.5 L1871.1,1232.3 L1871.8,1233.1 L1872.6,1233.0 L1873.3,1233.7 L1874.1,1234.0 L1874.9,1235.1 L1875.7,1233.1 L1876.5,1235.0 L1877.3,1233.5 L1878.1,1233.0 L1878.9,1232.6 L1879.7,1234.4 L1880.5,1232.6 L1881.3,1234.5 L1882.1,1234.1 L1882.9,1233.4 L1883.6,1233.6 L1884.4,1234.9 L1885.1,1234.9 L1885.9,1235.7 L1886.6,1235.4 L1887.4,1235.3 L1888.1,1236.4 L1888.8,1235.3 L1889.6,1237.1 L1890.3,1236.7 L1891.1,1235.9 L1891.8,1236.2 L1892.5,1236.9 L1893.2,1236.1 L1893.9,1238.9 L1894.5,1239.0 L1895.2,1237.8 L1895.8,1239.0 L1896.5,1240.9 L1897.1,1240.5 L1897.8,1240.1 L1898.4,1239.8 L1899.1,1241.0 L1899.8,1243.9 L1900.4,1243.9 L1901.1,1243.3 L1901.7,1245.5 L1902.5,1244.9 L1903.3,1244.9 L1904.1,1245.1 L1904.8,1245.3 L1905.6,1247.0 L1906.4,1245.0 L1907.2,1245.5 L1908.0,1246.9 L1908.8,1247.2 L1909.6,1245.3 L1910.3,1247.8 L1911.1,1247.2 L1911.9,1244.8 L1912.6,1247.1 L1913.4,1244.2 L1914.1,1245.5 L1914.9,1243.6 L1915.7,1242.7 L1916.4,1244.3 L1917.2,1243.6 L1917.9,1242.8 L1918.7,1242.6 L1919.4,1242.0 L1920.2,1241.6 L1920.9,1240.7 L1921.7,1241.7 L1922.4,1241.0 L1923.2,1240.6 L1923.9,1240.1 L1924.6,1240.1 L1925.4,1239.0 L1926.1,1239.8 L1926.9,1239.1 L1927.6,1240.8 L1928.3,1238.9 L1929.1,1239.2 L1929.8,1239.6 L1930.6,1240.5 L1931.4,1240.6 L1932.2,1240.6 L1933.0,1242.6 L1933.7,1241.1 L1934.5,1241.5 L1935.3,1243.5 L1936.1,1240.7 L1936.9,1242.1 L1937.7,1241.6 L1938.4,1240.1 L1939.2,1240.5 L1940.0,1241.7 L1940.7,1239.8 L1941.5,1240.8 L1942.2,1241.7 L1943.0,1240.8 L1943.7,1241.2 L1944.5,1240.6 L1945.2,1240.7 L1946.0,1240.8 L1946.8,1241.1 L1947.5,1241.9 L1948.3,1241.6 L1949.0,1243.2 L1949.7,1242.3 L1950.5,1242.3 L1951.2,1244.2 L1951.9,1242.7 L1952.7,1242.6 L1953.4,1243.8 L1954.1,1243.4 L1954.9,1245.2 L1955.6,1246.5 L1956.3,1246.5 L1957.1,1246.2 L1957.8,1246.9 L1958.6,1247.5 L1959.4,1247.9 L1960.1,1246.5 L1960.9,1246.3 L1961.7,1247.3 L1962.5,1246.3 L1963.3,1246.2 L1964.1,1246.1 L1964.8,1244.9 L1965.6,1245.2 L1966.4,1246.0 L1967.2,1244.9 L1968.0,1244.8 L1968.8,1245.1 L1969.6,1245.1 L1970.4,1246.7 L1971.1,1244.0 L1971.9,1244.7 L1972.7,1246.1 L1973.5,1244.5 L1974.3,1244.8 L1975.1,1243.3 L1975.9,1245.2 L1976.7,1245.2 L1977.3,1245.7 L1977.9,1245.6 L1978.6,1246.6 L1979.2,1246.9 L1979.8,1248.2 L1980.4,1248.1 L1981.1,1249.3 L1981.7,1248.2 L1982.3,1249.6 L1983.0,1248.1 L1983.6,1250.8 L1984.2,1252.0 L1984.8,1251.6 L1985.5,1254.1 L1986.1,1251.9 L1986.8,1252.7 L1987.5,1252.4 L1988.2,1253.0 L1988.9,1253.3 L1989.6,1252.7 L1990.4,1253.3 L1991.1,1256.0 L1991.8,1254.4 L1992.5,1255.6 L1993.2,1254.1 L1993.9,1255.4 L1994.6,1256.3 L1995.4,1256.1 L1996.1,1256.1 L1996.9,1256.6 L1997.7,1257.1 L1998.5,1258.0 L1999.2,1258.5 L2000.0,1256.7 L2000.8,1256.3 L2001.6,1258.0 L2002.4,1258.3 L2003.1,1259.0 L2003.9,1259.5 L2004.7,1258.3 L2005.4,1261.0 L2006.0,1260.2 L2006.6,1259.2 L2007.3,1262.0 L2007.9,1262.2 L2008.5,1262.9 L2009.2,1262.1 L2009.8,1263.8 L2010.5,1264.8 L2011.1,1265.1 L2011.7,1266.2 L2012.4,1267.1 L2013.0,1267.6 L2013.7,1267.7 L2014.3,1266.8 L2015.0,1268.4 L2015.6,1267.4 L2016.3,1268.0 L2017.0,1267.3 L2017.7,1266.6 L2018.3,1266.1 L2019.0,1268.3 L2019.7,1268.0 L2020.3,1268.8 L2021.0,1269.9 L2021.7,1268.4 L2022.4,1268.6 L2023.0,1270.6 L2023.7,1271.0 L2024.5,1270.6 L2025.3,1270.6 L2026.1,1269.9 L2026.9,1271.3 L2027.7,1271.0 L2028.5,1272.2 L2029.3,1272.9 L2030.1,1272.0 L2030.9,1273.1 L2031.6,1273.3 L2032.4,1274.1 L2033.2,1275.3 L2033.9,1275.3 L2034.6,1276.0 L2035.3,1276.7 L2036.1,1276.5 L2036.8,1277.5 L2037.5,1278.4 L2038.2,1279.6 L2038.9,1280.2 L2039.6,1281.4 L2040.4,1279.0 L2041.1,1280.0 L2041.8,1278.8 L2042.5,1279.9 L2043.2,1279.0 L2043.9,1281.3 L2044.6,1281.1 L2045.4,1279.7 L2046.1,1281.0 L2046.8,1281.5 L2047.5,1282.6 L2048.2,1282.2 L2048.9,1282.0 L2049.6,1282.3 L2050.4,1283.4 L2051.1,1283.6 L2051.8,1283.4 L2052.6,1283.1 L2053.4,1285.1 L2054.1,1283.8 L2054.9,1284.3 L2055.7,1285.2 L2056.5,1284.6 L2057.3,1285.6 L2058.1,1283.8 L2058.9,1285.3 L2059.6,1283.7 L2060.4,1283.6 L2061.2,1284.0 L2062.0,1285.1 L2062.8,1284.6 L2063.5,1284.2 L2064.3,1286.4 L2065.1,1284.9 L2065.9,1285.8 L2066.7,1286.3 L2067.4,1285.9 L2068.2,1286.8 L2069.0,1287.1 L2069.8,1286.7 L2070.6,1287.6 L2071.4,1286.2 L2072.2,1285.6 L2073.0,1286.5 L2073.8,1285.4 L2074.6,1286.3 L2075.4,1285.8 L2076.2,1285.5 L2077.0,1286.3 L2077.8,1286.4 L2078.6,1283.8 L2079.4,1286.0 L2080.1,1286.5 L2080.9,1286.9 L2081.7,1286.1 L2082.5,1285.7 L2083.3,1286.6 L2084.1,1287.0 L2084.9,1284.6 L2085.7,1284.8 L2086.5,1285.3 L2087.3,1283.4 L2088.0,1284.7 L2088.8,1285.6 L2089.6,1284.1 L2090.4,1285.3 L2091.1,1284.7 L2091.9,1286.1 L2092.6,1286.7 L2093.4,1287.6 L2094.1,1287.0 L2094.9,1288.2 L2095.6,1288.0 L2096.4,1287.5 L2097.2,1289.3 L2097.9,1287.8 L2098.7,1288.4 L2099.5,1290.0 L2100.3,1288.6 L2101.1,1287.0 L2101.9,1287.7 L2102.7,1287.0 L2103.5,1287.2 L2104.3,1286.1 L2105.1,1287.6 L2105.9,1286.3 L2106.7,1288.0 L2107.5,1288.2 L2108.2,1288.6 L2109.0,1289.6 L2109.7,1286.3 L2110.5,1286.5 L2111.2,1286.5 L2112.0,1286.6 L2112.7,1287.5 L2113.4,1286.2 L2114.2,1285.7 L2114.9,1285.0 L2115.7,1285.1 L2116.4,1285.0 L2117.2,1285.0 L2117.9,1284.2 L2118.7,1285.5 L2119.5,1286.2 L2120.3,1286.3 L2121.1,1285.3 L2121.8,1287.2 L2122.6,1287.4 L2123.4,1287.3 L2124.2,1286.3 L2125.0,1286.4 L2125.7,1287.8 L2126.5,1287.2 L2127.2,1287.5 L2127.8,1289.8 L2128.4,1290.3 L2129.1,1290.5 L2129.7,1291.4 L2130.3,1291.5 L2131.0,1290.2 L2131.6,1292.4 L2132.2,1292.0 L2132.9,1292.6 L2133.5,1293.9 L2134.1,1293.4 L2134.8,1294.8 L2135.4,1294.0 L2136.1,1294.1 L2136.9,1294.0 L2137.7,1294.5 L2138.5,1293.4 L2139.3,1294.9 L2140.1,1295.0 L2140.9,1294.8 L2141.7,1293.6 L2142.5,1293.7 L2143.3,1296.1 L2144.1,1294.8 L2144.9,1296.6 L2145.7,1294.8 L2146.5,1295.6 L2147.3,1294.0 L2148.1,1294.5 L2148.9,1294.7 L2149.7,1295.2 L2150.5,1296.0 L2151.3,1295.4 L2152.1,1293.5 L2152.9,1294.7 L2153.7,1294.6 L2154.5,1294.3 L2155.2,1295.3 L2156.0,1295.9 L2156.8,1294.2 L2157.6,1295.2 L2158.3,1295.2 L2159.1,1292.9 L2159.9,1294.8 L2160.7,1294.3 L2161.4,1292.8 L2162.2,1293.4 L2162.9,1292.4 L2163.5,1293.3 L2164.1,1293.2 L2164.8,1292.2 L2165.4,1293.5 L2166.1,1293.5 L2166.7,1293.7 L2167.3,1293.7 L2168.0,1294.6 L2168.6,1294.9 L2169.3,1297.4 L2169.9,1295.5 L2170.7,1297.6 L2171.4,1297.5 L2172.2,1297.4 L2172.9,1299.4 L2173.7,1298.5 L2174.4,1300.4 L2175.1,1299.6 L2175.9,1300.2 L2176.6,1300.1 L2177.4,1300.9 L2178.1,1301.4 L2178.9,1300.5 L2179.6,1301.2 L2180.3,1302.9 L2181.1,1301.4 L2181.8,1303.7 L2182.6,1302.4 L2183.3,1302.7 L2184.0,1302.2 L2184.8,1303.3 L2185.5,1303.0 L2186.3,1304.3 L2187.0,1305.6 L2187.8,1305.3 L2188.5,1305.1 L2189.3,1304.9 L2190.1,1305.3 L2190.9,1304.8 L2191.6,1305.1 L2192.4,1307.8 L2193.2,1306.6 L2194.0,1305.7 L2194.8,1307.1 L2195.6,1307.8 L2196.4,1306.2 L2197.2,1306.6 L2198.0,1305.7 L2198.8,1305.4" fill="none" stroke="#000000" stroke-width="11.5" stroke-linejoin="round" stroke-linecap="butt"/>
<path d="M335.6,1382.9 L336.4,1383.8 L337.2,1383.7 L338.0,1383.8 L338.8,1384.6 L339.6,1382.5 L340.4,1383.1 L341.2,1382.6 L342.0,1383.6 L342.8,1384.5 L343.6,1383.6 L344.4,1383.8 L345.2,1381.7 L346.0,1383.0 L346.8,1381.8 L347.6,1383.6 L348.4,1382.5 L349.2,1382.2 L350.0,1381.1 L350.8,1381.5 L351.6,1381.4 L352.3,1380.5 L353.1,1380.4 L353.9,1380.8 L354.7,1380.5 L355.5,1380.7 L356.3,1381.0 L357.1,1380.7 L357.9,1381.9 L358.7,1379.9 L359.5,1381.7 L360.3,1380.4 L361.1,1380.3 L361.9,1379.5 L362.7,1380.3 L363.5,1380.0 L364.3,1380.2 L365.1,1379.5 L365.9,1379.9 L366.7,1381.2 L367.5,1379.9 L368.3,1379.1 L369.1,1380.2 L369.9,1379.3 L370.7,1379.9 L371.5,1379.9 L372.3,1379.1 L373.1,1377.8 L373.9,1379.0 L374.7,1379.7 L375.4,1378.9 L376.2,1379.5 L377.0,1379.9 L377.8,1378.6 L378.6,1379.9 L379.4,1380.1 L380.2,1379.6 L381.0,1379.6 L381.8,1379.5 L382.6,1380.5 L383.4,1378.8 L384.2,1378.7 L385.0,1379.2 L385.8,1378.1 L386.6,1377.6 L387.4,1378.1 L388.2,1379.1 L389.0,1379.1 L389.8,1377.4 L390.6,1376.8 L391.3,1377.7 L392.1,1377.5 L392.8,1377.2 L393.6,1377.3 L394.3,1377.4 L395.1,1376.2 L395.8,1376.1 L396.6,1374.4 L397.3,1373.9 L398.1,1374.7 L398.8,1374.8 L399.6,1374.5 L400.3,1374.2 L401.1,1374.1 L401.8,1373.8 L402.6,1371.5 L403.4,1372.1 L404.1,1372.8 L404.9,1372.7 L405.6,1370.8 L406.4,1372.7 L407.1,1371.2 L407.9,1371.1 L408.6,1371.3 L409.4,1371.4 L410.1,1369.4 L410.9,1371.0 L411.6,1370.0 L412.4,1369.0 L413.1,1369.0 L413.9,1367.2 L414.6,1368.1 L415.4,1368.6 L416.2,1367.8 L417.0,1368.1 L417.8,1368.3 L418.6,1368.5 L419.4,1369.4 L420.2,1368.6 L421.0,1368.5 L421.8,1369.2 L422.5,1370.4 L423.3,1368.4 L424.1,1368.9 L424.9,1367.0 L425.7,1369.1 L426.5,1368.3 L427.3,1368.5 L428.1,1367.1 L428.9,1366.0 L429.7,1367.2 L430.5,1366.8 L431.3,1365.3 L432.1,1364.6 L432.8,1365.9 L433.6,1365.2 L434.4,1367.3 L435.2,1364.6 L436.0,1364.5 L436.8,1364.8 L437.6,1363.6 L438.4,1364.3 L439.2,1366.3 L440.0,1365.0 L440.8,1364.6 L441.5,1364.1 L442.3,1365.6 L443.1,1365.5 L443.9,1365.1 L444.7,1364.4 L445.5,1364.8 L446.3,1364.6 L447.0,1363.5 L447.8,1364.3 L448.6,1361.9 L449.4,1362.3 L450.2,1362.8 L451.0,1362.7 L451.7,1361.7 L452.5,1362.7 L453.3,1363.1 L454.1,1362.5 L454.9,1362.2 L455.7,1362.6 L456.5,1362.2 L457.2,1360.9 L458.0,1361.7 L458.8,1362.9 L459.6,1361.0 L460.4,1362.0 L461.2,1361.6 L461.9,1361.2 L462.7,1361.1 L463.5,1362.0 L464.3,1362.1 L465.1,1362.0 L465.9,1360.5 L466.6,1361.2 L467.4,1361.6 L468.2,1361.9 L468.9,1361.5 L469.7,1361.5 L470.5,1361.5 L471.3,1361.1 L472.0,1359.5 L472.8,1360.0 L473.6,1359.2 L474.4,1357.6 L475.1,1357.9 L475.9,1360.7 L476.7,1357.8 L477.5,1356.7 L478.2,1357.7 L479.0,1359.1 L479.8,1357.6 L480.6,1357.6 L481.3,1356.8 L482.1,1356.7 L482.9,1357.4 L483.7,1356.7 L484.4,1355.7 L485.2,1356.2 L486.0,1356.0 L486.8,1354.7 L487.5,1354.8 L488.3,1354.5 L489.1,1353.5 L489.9,1354.7 L490.6,1353.4 L491.4,1352.8 L492.1,1351.7 L492.9,1351.9 L493.6,1353.9 L494.4,1351.6 L495.2,1352.8 L495.9,1352.0 L496.7,1352.5 L497.4,1352.3 L498.2,1351.0 L498.9,1351.1 L499.7,1351.1 L500.5,1350.7 L501.2,1350.2 L502.0,1349.6 L502.7,1349.9 L503.5,1350.0 L504.2,1348.9 L505.0,1347.4 L505.8,1347.9 L506.5,1347.2 L507.3,1347.1 L508.0,1347.9 L508.8,1345.9 L509.6,1345.7 L510.3,1344.7 L511.1,1344.9 L511.8,1344.4 L512.6,1346.0 L513.3,1344.7 L514.1,1343.9 L514.9,1345.8 L515.6,1343.0 L516.3,1344.6 L517.0,1344.5 L517.7,1344.0 L518.4,1343.2 L519.1,1343.1 L519.8,1342.7 L520.5,1343.3 L521.2,1340.5 L521.9,1341.6 L522.6,1341.8 L523.3,1340.9 L524.0,1339.5 L524.7,1340.4 L525.4,1339.7 L526.1,1340.6 L526.8,1340.8 L527.5,1339.4 L528.2,1337.5 L528.9,1338.6 L529.6,1337.7 L530.3,1338.6 L531.1,1339.0 L531.8,1337.5 L532.5,1338.4 L533.2,1337.6 L533.9,1336.6 L534.6,1335.0 L535.3,1335.5 L536.0,1333.9 L536.7,1335.6 L537.4,1334.5 L538.1,1335.1 L538.8,1333.9 L539.5,1331.7 L540.2,1333.4 L541.0,1333.5 L541.8,1333.9 L542.6,1331.6 L543.4,1331.6 L544.2,1332.3 L544.9,1331.3 L545.7,1331.1 L546.5,1331.3 L547.3,1334.2 L548.1,1331.5 L548.9,1331.1 L549.6,1331.4 L550.4,1331.6 L551.2,1332.4 L552.0,1331.8 L552.8,1331.4 L553.6,1330.5 L554.3,1330.2 L555.1,1329.3 L555.9,1328.3 L556.7,1330.9 L557.5,1328.8 L558.3,1329.9 L559.1,1328.8 L559.8,1329.0 L560.5,1328.7 L561.1,1327.3 L561.7,1328.0 L562.3,1328.0 L562.9,1327.9 L563.5,1327.0 L564.1,1326.9 L564.7,1325.6 L565.3,1324.6 L565.9,1322.3 L566.5,1322.7 L567.1,1323.5 L567.7,1321.5 L568.3,1321.2 L568.9,1319.6 L569.5,1318.5 L570.1,1319.9 L570.7,1317.9 L571.3,1318.2 L571.9,1316.8 L572.5,1315.5 L573.1,1313.4 L573.7,1314.7 L574.3,1312.9 L574.8,1311.8 L575.4,1314.1 L576.0,1313.3 L576.6,1312.8 L577.2,1311.9 L577.9,1311.5 L578.5,1311.6 L579.1,1311.0 L579.7,1310.6 L580.4,1310.8 L581.0,1307.8 L581.6,1310.0 L582.2,1308.3 L582.9,1308.9 L583.5,1308.6 L584.1,1306.4 L584.7,1307.1 L585.4,1306.5 L586.0,1304.7 L586.6,1304.2 L587.2,1304.2 L587.9,1301.8 L588.5,1302.8 L589.1,1302.9 L589.7,1302.0 L590.4,1300.7 L591.0,1301.3 L591.7,1302.5 L592.4,1302.0 L593.0,1300.5 L593.7,1299.6 L594.4,1299.8 L595.1,1299.4 L595.7,1298.4 L596.4,1298.2 L597.1,1298.4 L597.7,1298.1 L598.4,1294.8 L599.1,1296.9 L599.7,1295.6 L600.4,1295.7 L601.1,1294.2 L601.7,1293.9 L602.4,1294.3 L603.1,1290.1 L603.7,1293.3 L604.4,1291.7 L605.1,1289.8 L605.7,1288.8 L606.4,1290.9 L607.1,1289.6 L607.7,1290.9 L608.4,1290.0 L609.1,1289.4 L609.7,1290.0 L610.4,1288.9 L611.1,1288.9 L611.7,1288.6 L612.4,1287.7 L613.1,1287.6 L613.7,1287.2 L614.4,1285.0 L615.1,1285.5 L615.6,1285.2 L616.0,1284.5 L616.5,1283.1 L617.0,1283.5 L617.5,1283.8 L618.0,1283.3 L618.5,1283.9 L619.0,1281.8 L619.5,1281.5 L620.0,1280.9 L620.5,1280.5 L621.0,1279.7 L621.5,1278.1 L622.0,1279.1 L622.4,1278.9 L622.9,1278.2 L623.4,1275.6 L623.9,1275.4 L624.4,1276.2 L624.9,1273.7 L625.4,1273.2 L625.9,1272.0 L626.4,1272.1 L626.9,1271.2 L627.4,1271.6 L627.9,1269.4 L628.4,1268.6 L628.9,1266.6 L629.3,1266.6 L629.8,1265.7 L630.3,1265.4 L630.8,1264.0 L631.3,1265.4 L631.8,1263.0 L632.3,1263.4 L632.8,1261.6 L633.3,1262.2 L633.8,1262.6 L634.3,1260.0 L634.8,1260.3 L635.3,1259.3 L635.7,1259.0 L636.2,1258.6 L636.7,1257.2 L637.2,1257.0 L637.7,1256.1 L638.2,1255.4 L638.7,1254.5 L639.2,1255.7 L639.7,1253.8 L640.2,1254.4 L640.7,1253.7 L641.2,1252.0 L641.8,1253.1 L642.3,1251.0 L642.8,1251.7 L643.3,1251.9 L643.9,1249.7 L644.4,1249.0 L644.9,1248.5 L645.4,1250.5 L646.0,1247.8 L646.5,1246.4 L647.0,1247.4 L647.5,1245.8 L648.1,1245.2 L648.6,1243.7 L649.1,1241.9 L649.6,1242.4 L650.2,1241.5 L650.7,1240.3 L651.2,1240.1 L651.7,1239.6 L652.3,1240.5 L652.8,1239.8 L653.3,1239.1 L653.8,1237.7 L654.4,1236.5 L654.9,1237.1 L655.4,1236.6 L655.9,1236.3 L656.5,1234.8 L657.0,1234.0 L657.5,1233.6 L658.0,1231.9 L658.6,1231.4 L659.1,1231.8 L659.6,1229.7 L660.1,1230.0 L660.6,1230.0 L661.1,1228.9 L661.5,1228.5 L662.0,1226.6 L662.4,1226.8 L662.9,1226.0 L663.4,1226.1 L663.8,1225.4 L664.3,1224.6 L664.8,1225.6 L665.2,1224.0 L665.7,1222.9 L666.2,1222.3 L666.6,1222.4 L667.1,1221.6 L667.6,1222.9 L668.0,1221.5 L668.5,1220.3 L669.0,1219.3 L669.4,1218.2 L669.9,1218.0 L670.4,1218.4 L670.8,1217.1 L671.3,1215.4 L671.7,1214.6 L672.2,1212.1 L672.7,1213.4 L673.1,1211.9 L673.6,1212.4 L674.1,1210.6 L674.5,1209.7 L675.0,1209.7 L675.2,1208.3 L675.4,1209.2 L675.7,1207.6 L675.9,1207.0 L676.1,1206.2 L676.3,1204.9 L676.5,1204.8 L676.8,1203.9 L677.0,1204.4 L677.2,1202.4 L677.4,1202.0 L677.6,1200.6 L677.9,1200.0 L678.1,1199.3 L678.3,1199.8 L678.5,1198.0 L678.7,1197.9 L679.0,1196.0 L679.2,1194.9 L679.4,1192.7 L679.6,1193.9 L679.8,1193.9 L680.1,1191.1 L680.4,1191.5 L680.7,1190.2 L681.0,1188.1 L681.3,1188.5 L681.6,1186.4 L682.0,1186.2 L682.3,1186.8 L682.6,1185.4 L682.9,1183.8 L683.2,1185.3 L683.5,1182.8 L683.8,1183.0 L684.2,1182.3 L684.5,1181.9 L684.8,1180.7 L685.1,1179.4 L685.4,1181.6 L685.7,1178.6 L686.0,1178.0 L686.3,1176.0 L686.7,1177.4 L687.0,1177.6 L687.3,1177.0 L687.6,1177.4 L687.9,1175.7 L688.2,1174.1 L688.5,1173.1 L688.9,1173.6 L689.2,1171.7 L689.5,1171.1 L689.8,1169.4 L690.1,1169.5 L690.5,1170.3 L690.8,1167.8 L691.2,1167.4 L691.5,1164.4 L691.9,1166.6 L692.3,1165.0 L692.6,1165.0 L693.0,1163.3 L693.3,1161.7 L693.7,1160.6 L694.1,1161.4 L694.4,1160.4 L694.8,1159.0 L695.1,1159.1 L695.5,1158.1 L695.8,1158.5 L696.2,1157.0 L696.6,1155.8 L696.9,1156.1 L697.3,1155.1 L697.6,1156.0 L697.8,1153.8 L698.0,1152.4 L698.2,1152.7 L698.5,1151.9 L698.7,1151.6 L698.9,1150.9 L699.1,1149.1 L699.3,1149.1 L699.5,1148.3 L699.8,1146.6 L700.0,1146.2 L700.2,1145.9 L700.4,1143.5 L700.6,1143.0 L700.8,1142.5 L701.1,1141.9 L701.3,1141.4 L701.5,1139.0 L701.7,1139.5 L701.9,1138.9 L702.2,1138.8 L702.4,1136.5 L702.6,1135.3 L702.8,1134.1 L703.0,1135.0 L703.2,1134.8 L703.5,1132.5 L703.7,1132.7 L703.9,1132.2 L704.1,1131.5 L704.3,1129.6 L704.6,1129.6 L704.8,1128.2 L705.0,1126.7 L705.2,1126.8 L705.5,1126.1 L705.7,1124.3 L706.0,1124.7 L706.2,1125.2 L706.5,1121.8 L706.8,1122.9 L707.0,1122.4 L707.3,1121.1 L707.5,1120.7 L707.8,1119.6 L708.0,1120.3 L708.3,1117.8 L708.5,1117.7 L708.8,1115.5 L709.0,1116.5 L709.3,1115.8 L709.5,1113.3 L709.8,1113.0 L710.0,1113.1 L710.3,1111.4 L710.6,1109.8 L710.8,1107.7 L711.1,1109.0 L711.3,1109.2 L711.6,1106.3 L711.8,1106.1 L712.1,1105.1 L712.3,1103.9 L712.6,1103.3 L712.8,1102.5 L713.0,1101.1 L713.2,1103.1 L713.5,1102.7 L713.7,1100.2 L713.9,1100.8 L714.1,1098.1 L714.3,1097.9 L714.6,1098.4 L714.8,1095.8 L715.0,1095.0 L715.2,1095.5 L715.4,1092.8 L715.7,1094.9 L715.9,1093.2 L716.1,1091.9 L716.3,1091.3 L716.6,1089.1 L716.8,1088.2 L717.0,1088.7 L717.2,1088.0 L717.4,1086.6 L717.7,1085.7 L717.9,1084.7 L718.1,1085.6 L718.3,1082.8 L718.6,1082.7 L718.8,1082.4 L719.0,1081.1 L719.2,1080.7 L719.4,1080.3 L719.7,1081.3 L719.9,1081.2 L720.3,1079.5 L720.8,1077.3 L721.4,1077.5 L722.0,1077.3 L722.5,1076.6 L723.1,1075.9 L723.7,1076.1 L724.2,1073.5 L724.8,1074.1 L725.4,1074.2 L725.9,1074.0 L726.5,1073.2 L727.1,1072.5 L727.6,1071.8 L728.2,1070.9 L728.8,1070.9 L729.3,1070.2 L729.9,1069.2 L730.6,1070.3 L731.3,1069.9 L732.0,1068.3 L732.7,1068.7 L733.4,1068.9 L734.1,1067.8 L734.9,1067.4 L735.6,1067.4 L736.3,1065.3 L737.0,1065.2 L737.7,1066.4 L738.4,1065.9 L739.2,1066.4 L739.9,1064.5 L740.6,1065.8 L741.4,1065.9 L742.2,1066.8 L743.0,1064.6 L743.8,1065.1 L744.6,1065.8 L745.3,1065.9 L746.1,1065.0 L746.9,1065.5 L747.7,1065.0 L748.5,1068.1 L749.3,1066.3 L750.0,1066.4 L750.5,1065.2 L750.9,1065.1 L751.3,1065.0 L751.7,1063.4 L752.1,1063.0 L752.6,1064.1 L753.0,1062.4 L753.4,1061.1 L753.8,1059.8 L754.3,1059.4 L754.7,1058.0 L755.1,1057.9 L755.5,1056.3 L756.0,1055.4 L756.4,1054.8 L756.8,1053.4 L757.2,1053.5 L757.7,1054.5 L758.1,1051.2 L758.5,1049.6 L758.9,1050.9 L759.4,1049.4 L759.8,1050.3 L760.1,1048.3 L760.4,1048.1 L760.7,1046.0 L761.0,1044.7 L761.2,1045.1 L761.5,1045.2 L761.8,1043.3 L762.0,1042.0 L762.3,1042.0 L762.6,1041.4 L762.9,1040.7 L763.1,1040.2 L763.4,1041.4 L763.7,1038.8 L764.0,1037.6 L764.2,1036.5 L764.5,1037.3 L764.8,1034.7 L765.1,1036.5 L765.3,1034.7 L765.6,1032.9 L765.9,1033.5 L766.1,1032.6 L766.4,1033.0 L766.7,1030.1 L767.0,1030.7 L767.2,1029.8 L767.5,1029.7 L767.8,1027.3 L768.1,1026.8 L768.3,1028.3 L768.6,1026.4 L768.9,1024.0 L769.2,1024.7 L769.4,1023.1 L769.7,1022.4 L770.0,1021.2 L770.5,1022.4 L771.1,1020.6 L771.6,1020.6 L772.2,1019.8 L772.8,1018.0 L773.3,1018.0 L773.9,1018.6 L774.5,1016.1 L775.0,1017.0 L775.6,1016.2 L776.2,1016.3 L776.7,1015.9 L777.3,1015.5 L777.9,1014.5 L778.4,1014.2 L779.0,1013.0 L779.6,1012.6 L780.1,1013.5 L780.7,1012.8 L781.4,1014.6 L782.0,1015.1 L782.6,1014.1 L783.2,1015.5 L783.8,1014.8 L784.4,1016.1 L785.0,1015.6 L785.6,1016.9 L786.2,1017.3 L786.8,1016.8 L787.5,1019.7 L788.1,1019.3 L788.7,1017.8 L789.3,1019.9 L789.9,1019.8 L790.5,1022.4 L791.1,1021.2 L791.7,1022.1 L792.3,1022.2 L792.9,1023.3 L793.5,1022.9 L794.1,1023.0 L794.7,1023.8 L795.2,1024.2 L795.8,1025.5 L796.4,1025.5 L797.0,1025.5 L797.6,1026.0 L798.2,1026.2 L798.8,1027.5 L799.4,1026.4 L800.0,1028.3 L800.7,1029.8 L801.5,1028.8 L802.2,1028.8 L803.0,1029.6 L803.7,1029.0 L804.5,1029.3 L805.2,1030.7 L805.9,1029.8 L806.7,1032.2 L807.4,1031.4 L808.2,1031.3 L808.9,1031.4 L809.7,1032.1 L810.4,1030.7 L811.1,1032.6 L811.8,1032.9 L812.5,1032.5 L813.3,1031.5 L814.0,1032.0 L814.7,1031.7 L815.4,1030.7 L816.1,1030.7 L816.8,1030.7 L817.5,1029.8 L818.3,1028.6 L819.0,1028.4 L819.7,1028.1 L820.3,1026.1 L820.8,1026.9 L821.3,1026.0 L821.8,1023.8 L822.2,1023.7 L822.7,1025.9 L823.2,1024.1 L823.7,1024.5 L824.2,1022.6 L824.7,1023.6 L825.2,1022.3 L825.7,1020.7 L826.2,1020.9 L826.7,1021.4 L827.2,1021.4 L827.6,1019.3 L828.1,1018.0 L828.6,1017.1 L829.1,1017.8 L829.6,1017.6 L830.1,1016.3 L830.6,1015.6 L831.1,1015.8 L831.8,1015.2 L832.5,1014.8 L833.2,1012.9 L834.0,1013.4 L834.7,1014.7 L835.5,1012.6 L836.2,1013.9 L836.9,1011.7 L837.7,1010.5 L838.4,1010.4 L839.1,1010.1 L839.9,1008.6 L840.7,1009.5 L841.5,1009.1 L842.2,1010.8 L843.0,1009.5 L843.8,1010.3 L844.6,1009.4 L845.4,1009.8 L846.2,1011.2 L846.9,1010.7 L847.4,1010.7 L847.8,1010.5 L848.2,1010.1 L848.7,1007.9 L849.1,1008.3 L849.6,1008.4 L850.0,1006.7 L850.4,1005.6 L850.9,1005.5 L851.3,1006.7 L851.7,1004.8 L852.2,1005.4 L852.6,1003.3 L853.1,1003.8 L853.5,1001.1 L853.9,1001.3 L854.6,1001.2 L855.4,1002.3 L856.1,1001.1 L856.9,1001.4 L857.7,999.9 L858.5,999.8 L859.2,1000.9 L860.0,1000.9 L860.8,1000.6 L861.6,1000.4 L862.3,998.9 L863.1,1000.9 L863.9,999.1 L864.6,999.8 L865.4,999.2 L866.2,997.0 L866.9,996.7 L867.7,996.8 L868.5,997.9 L869.2,998.7 L870.0,997.5 L870.8,998.2 L871.5,996.4 L872.3,996.8 L873.0,996.4 L873.8,996.9 L874.6,995.7 L875.3,996.3 L876.1,996.6 L876.9,995.4 L877.6,994.8 L878.4,994.8 L879.2,993.8 L880.0,993.6 L880.7,994.8 L881.4,993.8 L881.8,991.6 L882.2,991.7 L882.7,991.5 L883.1,991.0 L883.5,990.1 L884.0,989.6 L884.4,988.1 L884.9,987.5 L885.3,986.7 L885.6,987.2 L885.9,986.3 L886.2,986.4 L886.5,985.2 L886.7,983.0 L887.0,981.7 L887.3,981.0 L887.6,980.6 L887.8,981.0 L888.1,978.6 L888.4,977.3 L888.7,977.9 L888.9,977.9 L889.2,977.1 L889.5,977.1 L889.8,975.0 L890.0,973.9 L890.3,973.4 L890.6,972.0 L890.9,971.9 L891.1,972.9 L891.4,973.0 L891.7,971.7 L892.0,970.3 L892.2,969.2 L892.5,968.9 L892.8,966.4 L893.1,967.6 L893.3,967.0 L893.6,965.4 L893.9,964.7 L894.2,962.5 L894.4,963.7 L894.7,962.9 L895.0,959.3 L895.4,960.5 L895.9,960.6 L896.3,961.1 L896.7,958.5 L897.2,958.6 L897.6,959.3 L898.1,957.9 L898.5,956.7 L899.0,955.9 L899.4,955.6 L899.8,954.2 L900.3,955.0 L900.7,952.7 L901.2,953.1 L901.6,952.7 L902.1,952.1 L902.5,950.5 L903.0,949.7 L903.4,949.3 L903.8,948.4 L904.3,948.6 L904.7,947.0 L905.3,948.2 L905.9,948.5 L906.6,945.3 L907.2,945.7 L907.9,944.0 L908.5,945.0 L909.2,944.2 L909.8,943.2 L910.5,941.9 L911.2,942.2 L911.8,943.3 L912.5,942.5 L913.1,941.1 L913.8,939.8 L914.4,939.9 L915.1,938.8 L915.5,937.7 L915.9,937.3 L916.4,937.7 L916.8,936.7 L917.2,935.7 L917.7,933.8 L918.1,932.6 L918.6,933.7 L919.0,931.8 L919.4,932.2 L919.9,929.9 L920.3,930.6 L920.7,929.3 L921.2,928.1 L921.6,927.5 L922.1,928.8 L922.5,927.4 L922.9,925.9 L923.4,925.6 L923.8,923.7 L924.3,925.8 L924.7,925.0 L925.1,923.0 L925.6,923.1 L926.0,919.9 L926.5,922.4 L926.9,921.4 L927.4,920.6 L927.8,920.5 L928.3,919.5 L928.7,917.9 L929.1,917.5 L929.6,917.3 L930.0,917.6 L930.5,916.2 L930.9,915.0 L931.4,915.1 L931.8,913.1 L932.2,915.0 L932.7,912.9 L933.3,911.1 L933.8,911.2 L934.3,911.2 L934.8,910.0 L935.4,910.4 L935.9,906.9 L936.4,908.6 L936.9,906.6 L937.5,906.7 L938.0,906.8 L938.5,903.8 L939.0,903.1 L939.6,903.3 L940.1,901.7 L940.6,900.9 L941.1,901.9 L941.7,902.2 L942.2,900.3 L942.8,900.8 L943.4,903.8 L944.1,901.6 L944.8,901.6 L945.4,902.2 L946.1,903.2 L946.8,903.2 L947.4,904.5 L948.1,904.7 L948.7,905.8 L949.4,905.8 L950.0,906.2 L950.4,906.4 L950.7,906.9 L951.0,908.6 L951.4,909.4 L951.7,910.8 L952.0,911.3 L952.4,911.9 L952.7,914.8 L953.0,914.0 L953.3,915.4 L953.7,914.3 L954.0,916.5 L954.3,917.3 L954.7,917.2 L955.0,916.7 L955.3,918.9 L955.7,917.9 L956.0,917.7 L956.3,918.2 L956.7,920.2 L957.0,920.4 L957.3,922.1 L957.7,922.7 L958.0,924.0 L958.3,924.0 L958.6,924.7 L959.0,925.4 L959.3,925.6 L959.6,926.5 L960.0,927.4 L960.3,928.9 L960.6,928.8 L961.0,930.2 L961.3,931.8 L961.6,929.6 L962.0,931.3 L962.3,931.8 L962.6,933.1 L963.0,932.4 L963.3,933.6 L963.6,936.5 L963.9,934.1 L964.3,935.8 L964.6,936.6 L964.9,936.9 L965.2,936.9 L965.5,939.5 L965.7,937.9 L966.0,939.5 L966.2,940.9 L966.5,941.3 L966.7,943.6 L967.0,943.3 L967.2,945.9 L967.5,945.2 L967.7,947.3 L968.0,947.3 L968.2,947.7 L968.5,948.6 L968.7,950.7 L969.0,950.4 L969.3,951.8 L969.5,952.1 L969.8,952.1 L970.0,955.1 L970.8,955.4 L971.6,954.1 L972.4,955.6 L973.2,955.2 L974.0,953.9 L974.7,954.7 L975.5,955.9 L976.3,956.2 L977.1,955.7 L977.9,957.7 L978.7,955.8 L979.4,955.0 L980.2,954.7 L980.8,957.6 L981.4,956.5 L982.0,957.1 L982.6,957.2 L983.2,957.6 L983.8,958.4 L984.4,959.4 L985.0,959.9 L985.6,960.1 L986.2,960.9 L986.8,960.1 L987.4,960.1 L988.2,960.6 L989.0,958.8 L989.7,960.9 L990.5,960.4 L991.3,960.3 L992.0,958.8 L992.8,959.2 L993.6,959.5 L994.3,958.6 L995.1,958.4 L995.9,958.9 L996.7,959.0 L997.4,958.2 L998.2,959.3 L999.0,960.1 L999.7,958.6 L1000.5,957.8 L1001.3,957.4 L1002.0,958.8 L1002.8,957.6 L1003.6,957.7 L1004.3,957.2 L1005.1,956.5 L1005.9,958.0 L1006.6,956.5 L1007.4,956.7 L1008.2,954.8 L1008.9,958.2 L1009.7,957.1 L1010.4,956.2 L1011.1,955.4 L1011.7,955.2 L1012.4,953.9 L1013.0,955.2 L1013.7,953.7 L1014.3,954.1 L1015.0,953.5 L1015.6,954.0 L1016.3,951.9 L1017.0,951.2 L1017.6,950.7 L1018.3,949.0 L1018.9,948.7 L1019.6,948.5 L1020.3,948.7 L1021.0,948.1 L1021.8,947.0 L1022.5,947.9 L1023.3,946.4 L1024.0,945.3 L1024.8,947.6 L1025.6,946.1 L1026.3,945.5 L1027.1,944.6 L1027.8,944.9 L1028.6,946.3 L1029.3,944.6 L1030.1,946.0 L1030.6,943.5 L1031.1,943.6 L1031.6,941.9 L1032.2,940.7 L1032.7,939.9 L1033.2,939.2 L1033.7,937.7 L1034.3,937.0 L1034.8,937.6 L1035.3,937.8 L1035.8,936.5 L1036.4,936.0 L1036.9,935.0 L1037.4,936.5 L1037.9,936.4 L1038.5,934.6 L1039.0,935.5 L1039.5,935.2 L1040.0,934.1 L1040.5,936.4 L1041.0,935.8 L1041.5,934.7 L1041.9,935.0 L1042.4,932.9 L1042.9,932.8 L1043.4,932.8 L1043.9,930.7 L1044.3,930.3 L1044.8,928.4 L1045.3,928.8 L1045.8,928.4 L1046.3,925.9 L1046.7,925.4 L1047.2,925.3 L1047.7,925.9 L1048.3,923.8 L1048.8,923.0 L1049.3,923.1 L1049.9,923.6 L1050.4,921.0 L1050.9,921.6 L1051.5,922.2 L1052.0,920.6 L1052.5,919.8 L1053.1,920.1 L1053.6,917.7 L1054.2,920.5 L1054.8,919.6 L1055.3,919.3 L1055.9,920.0 L1056.5,920.2 L1057.1,920.4 L1057.7,920.0 L1058.3,921.1 L1058.9,920.3 L1059.5,923.2 L1060.1,921.6 L1060.7,922.4 L1061.3,922.9 L1061.8,924.6 L1062.4,924.5 L1062.7,926.6 L1063.0,926.0 L1063.3,927.3 L1063.5,928.1 L1063.8,928.8 L1064.1,930.9 L1064.3,932.0 L1064.6,932.9 L1064.8,931.7 L1065.1,933.9 L1065.4,933.5 L1065.6,934.2 L1065.9,934.4 L1066.2,935.7 L1066.4,937.6 L1066.7,938.8 L1067.0,939.7 L1067.2,938.3 L1067.5,939.2 L1067.8,940.5 L1068.0,941.2 L1068.3,942.0 L1068.6,941.2 L1068.8,943.3 L1069.1,944.7 L1069.4,945.3 L1069.6,945.9 L1069.9,946.2 L1070.2,947.6 L1070.4,949.8 L1070.5,949.8 L1070.7,951.0 L1070.8,952.3 L1070.9,950.8 L1071.1,952.9 L1071.2,953.5 L1071.3,954.8 L1071.5,954.2 L1071.6,954.9 L1071.7,955.3 L1071.8,956.7 L1072.0,957.1 L1072.1,957.9 L1072.2,959.1 L1072.4,959.3 L1072.5,959.7 L1072.6,960.9 L1072.8,961.6 L1072.9,963.2 L1073.0,964.7 L1073.1,964.2 L1073.3,963.3 L1073.4,966.6 L1073.5,966.9 L1073.7,967.0 L1073.8,968.4 L1073.9,971.0 L1074.1,969.2 L1074.2,970.3 L1074.3,972.0 L1074.4,970.4 L1074.6,973.3 L1074.7,975.3 L1074.8,975.7 L1075.0,976.3 L1075.1,976.4 L1075.2,977.3 L1075.4,980.3 L1075.5,978.9 L1075.6,980.4 L1075.6,979.0 L1075.7,980.8 L1075.8,981.5 L1075.9,981.9 L1076.0,980.7 L1076.0,982.8 L1076.1,985.0 L1076.2,985.1 L1076.3,984.9 L1076.3,987.1 L1076.4,985.9 L1076.5,988.9 L1076.6,989.8 L1076.6,990.2 L1076.7,991.1 L1076.8,991.8 L1076.9,994.2 L1076.9,996.9 L1077.0,997.3 L1077.1,997.9 L1077.2,999.3 L1077.2,998.9 L1077.3,1000.5 L1077.4,998.4 L1077.5,1000.9 L1077.5,1001.4 L1077.6,1002.2 L1077.7,1002.6 L1077.8,1003.8 L1077.8,1003.3 L1077.9,1005.1 L1078.0,1004.8 L1078.1,1006.3 L1078.2,1006.3 L1078.2,1007.5 L1078.3,1007.8 L1078.4,1007.6 L1078.5,1009.0 L1078.5,1008.5 L1078.6,1010.4 L1078.7,1011.5 L1078.8,1011.9 L1078.9,1012.9 L1079.1,1014.7 L1079.3,1015.7 L1079.4,1016.8 L1079.6,1016.0 L1079.8,1016.9 L1079.9,1018.7 L1080.1,1019.5 L1080.3,1018.0 L1080.4,1021.7 L1080.6,1021.7 L1080.8,1020.4 L1080.9,1023.0 L1081.1,1022.4 L1081.3,1023.3 L1081.5,1023.3 L1081.6,1024.2 L1081.8,1025.3 L1082.0,1026.4 L1082.1,1026.2 L1082.3,1027.9 L1082.5,1028.2 L1082.7,1029.2 L1083.0,1029.7 L1083.3,1030.8 L1083.6,1033.4 L1083.8,1031.7 L1084.1,1032.8 L1084.4,1034.7 L1084.7,1035.3 L1085.0,1035.7 L1085.2,1037.8 L1085.5,1037.4 L1085.8,1039.2 L1086.1,1040.9 L1086.4,1041.4 L1086.6,1041.6 L1086.9,1042.6 L1087.2,1043.5 L1087.5,1044.6 L1087.8,1044.1 L1088.0,1046.6 L1088.3,1047.0 L1088.6,1048.6 L1088.9,1048.5 L1089.2,1049.4 L1089.4,1047.0 L1089.7,1049.8 L1090.0,1052.5 L1090.3,1052.1 L1090.6,1052.2 L1091.0,1053.9 L1091.3,1054.2 L1091.6,1055.2 L1091.9,1055.1 L1092.2,1056.8 L1092.5,1058.4 L1092.8,1058.1 L1093.2,1059.0 L1093.5,1058.9 L1093.8,1060.6 L1094.1,1060.6 L1094.4,1060.7 L1094.7,1062.2 L1095.1,1063.1 L1095.4,1064.5 L1095.7,1065.5 L1096.0,1065.2 L1096.3,1065.8 L1096.6,1067.2 L1096.9,1066.5 L1097.3,1067.5 L1097.6,1068.1 L1098.1,1068.6 L1098.5,1068.7 L1098.9,1070.9 L1099.4,1070.8 L1099.8,1070.4 L1100.3,1070.0 L1100.7,1071.3 L1101.2,1072.7 L1101.6,1071.3 L1102.0,1075.5 L1102.5,1074.1 L1102.9,1074.8 L1103.4,1076.1 L1103.8,1075.2 L1104.3,1077.2 L1104.7,1077.9 L1105.2,1079.4 L1105.6,1078.9 L1106.0,1081.1 L1106.5,1082.5 L1106.9,1082.6 L1107.4,1082.7 L1107.8,1083.3 L1108.3,1083.2 L1108.7,1084.8 L1109.1,1086.3 L1109.6,1087.7 L1110.0,1087.8 L1110.5,1088.5 L1110.9,1087.7 L1111.4,1088.3 L1111.8,1088.0 L1112.3,1089.2 L1112.7,1089.5 L1113.1,1090.8 L1113.6,1092.2 L1114.0,1092.2 L1114.5,1092.7 L1114.9,1094.1 L1115.4,1095.5 L1115.8,1095.8 L1116.2,1094.3 L1116.7,1097.8 L1117.1,1096.8 L1117.6,1096.7 L1117.9,1098.4 L1118.2,1100.3 L1118.5,1098.2 L1118.8,1102.1 L1119.1,1101.9 L1119.4,1102.9 L1119.8,1102.0 L1120.1,1103.3 L1120.4,1103.4 L1120.7,1105.9 L1121.0,1105.0 L1121.3,1106.5 L1121.7,1106.3 L1122.0,1106.2 L1122.3,1108.9 L1122.6,1109.8 L1122.9,1110.7 L1123.2,1109.7 L1123.5,1110.9 L1123.9,1112.2 L1124.2,1112.7 L1124.5,1113.3 L1124.8,1115.8 L1125.1,1114.3 L1125.4,1116.0 L1125.7,1115.6 L1126.1,1117.8 L1126.4,1117.1 L1126.7,1117.1 L1127.0,1119.0 L1127.3,1119.1 L1127.6,1119.3 L1128.0,1120.1 L1128.3,1120.4 L1128.6,1122.0 L1128.9,1122.6 L1129.2,1124.5 L1129.5,1123.5 L1129.8,1126.0 L1130.2,1126.2 L1130.5,1125.5 L1130.8,1128.7 L1131.1,1126.9 L1131.4,1129.5 L1131.7,1128.3 L1132.1,1130.7 L1132.4,1130.8 L1132.8,1131.5 L1133.2,1130.8 L1133.6,1132.2 L1134.1,1134.4 L1134.5,1134.6 L1135.0,1134.8 L1135.4,1135.6 L1135.9,1136.0 L1136.3,1138.6 L1136.7,1138.4 L1137.2,1140.3 L1137.6,1139.2 L1138.1,1140.0 L1138.5,1143.2 L1139.0,1142.2 L1139.4,1143.5 L1139.9,1144.6 L1140.3,1145.6 L1140.7,1145.9 L1141.2,1146.3 L1141.6,1147.7 L1142.1,1147.1 L1142.5,1148.2 L1143.0,1148.0 L1143.5,1148.7 L1144.0,1150.6 L1144.5,1149.5 L1145.0,1148.3 L1145.5,1151.0 L1146.0,1151.7 L1146.5,1153.6 L1147.0,1152.4 L1147.5,1152.4 L1148.0,1154.0 L1148.5,1156.0 L1149.0,1154.8 L1149.5,1156.7 L1150.0,1156.8 L1150.5,1157.5 L1151.0,1157.0 L1151.5,1158.5 L1152.0,1158.4 L1152.5,1159.8 L1153.0,1159.9 L1153.4,1162.1 L1153.8,1161.4 L1154.3,1162.4 L1154.7,1161.4 L1155.2,1163.1 L1155.6,1166.6 L1156.1,1165.0 L1156.5,1164.7 L1157.0,1166.8 L1157.4,1167.4 L1157.8,1168.0 L1158.3,1169.0 L1158.7,1169.6 L1159.2,1171.6 L1159.6,1170.6 L1160.1,1172.5 L1160.5,1173.7 L1160.9,1173.0 L1161.4,1176.2 L1161.8,1175.1 L1162.3,1175.5 L1162.7,1175.8 L1163.1,1177.4 L1163.5,1176.1 L1163.9,1178.5 L1164.3,1180.4 L1164.7,1179.5 L1165.1,1180.5 L1165.5,1179.7 L1165.9,1181.6 L1166.3,1181.0 L1166.7,1181.9 L1167.1,1182.9 L1167.5,1185.1 L1167.9,1183.8 L1168.3,1183.5 L1168.7,1186.0 L1169.0,1187.3 L1169.4,1188.1 L1169.8,1188.6 L1170.2,1190.4 L1170.6,1190.8 L1171.0,1191.6 L1171.4,1191.3 L1171.8,1191.2 L1172.2,1194.3 L1172.6,1192.9 L1173.1,1195.1 L1173.5,1195.5 L1174.0,1194.0 L1174.4,1194.9 L1174.9,1196.2 L1175.3,1197.1 L1175.7,1196.1 L1176.2,1197.3 L1176.6,1197.3 L1177.1,1197.9 L1177.5,1199.6 L1178.0,1199.9 L1178.4,1199.5 L1178.8,1202.2 L1179.3,1202.4 L1179.7,1203.1 L1180.2,1203.1 L1180.6,1205.5 L1181.1,1205.8 L1181.5,1206.5 L1182.0,1206.8 L1182.4,1207.8 L1183.1,1209.1 L1183.8,1208.2 L1184.6,1208.5 L1185.3,1208.2 L1186.0,1209.3 L1186.8,1208.7 L1187.5,1208.5 L1188.3,1210.2 L1189.0,1209.3 L1189.8,1208.8 L1190.5,1209.1 L1191.2,1209.5 L1192.0,1209.2 L1192.7,1211.5 L1193.5,1211.1 L1194.2,1209.8 L1195.0,1212.2 L1195.7,1211.2 L1196.5,1212.0 L1197.3,1211.8 L1198.1,1212.7 L1198.8,1212.9 L1199.6,1213.5 L1200.4,1213.9 L1201.2,1211.4 L1201.9,1213.3 L1202.7,1213.9 L1203.5,1214.0 L1204.3,1213.2 L1205.0,1214.3 L1205.7,1214.9 L1206.3,1213.9 L1206.9,1215.3 L1207.5,1217.0 L1208.2,1216.2 L1208.8,1217.1 L1209.4,1217.7 L1210.0,1218.5 L1210.7,1219.2 L1211.3,1219.9 L1211.9,1219.7 L1212.5,1220.3 L1213.2,1220.6 L1213.8,1221.4 L1214.4,1221.7 L1215.0,1222.9 L1215.7,1223.4 L1216.3,1222.3 L1216.9,1222.0 L1217.5,1224.7 L1218.3,1224.1 L1219.1,1223.4 L1219.9,1225.5 L1220.7,1226.1 L1221.5,1224.2 L1222.2,1224.5 L1223.0,1224.9 L1223.8,1225.0 L1224.6,1225.8 L1225.4,1225.3 L1226.2,1226.4 L1226.9,1226.4 L1227.7,1227.9 L1228.5,1227.2 L1229.3,1228.3 L1230.1,1229.0 L1230.9,1228.1 L1231.7,1228.2 L1232.5,1227.2 L1233.2,1227.5 L1234.0,1229.3 L1234.8,1228.4 L1235.6,1227.2 L1236.4,1226.7 L1237.2,1226.8 L1238.0,1227.5 L1238.8,1224.8 L1239.6,1226.3 L1240.3,1224.8 L1241.1,1226.6 L1241.9,1224.0 L1242.7,1225.5 L1243.5,1224.2 L1244.3,1224.1 L1245.1,1225.2 L1245.7,1224.2 L1246.3,1225.1 L1247.0,1225.3 L1247.6,1224.6 L1248.3,1226.0 L1248.9,1227.4 L1249.5,1227.6 L1250.2,1228.1 L1250.8,1228.0 L1251.5,1230.5 L1252.1,1229.5 L1252.7,1232.0 L1253.4,1231.3 L1254.0,1232.3 L1254.7,1231.2 L1255.2,1233.1 L1255.7,1232.9 L1256.2,1234.4 L1256.7,1236.0 L1257.2,1236.0 L1257.7,1236.6 L1258.2,1237.8 L1258.7,1236.7 L1259.2,1238.4 L1259.7,1238.5 L1260.2,1240.6 L1260.7,1239.8 L1261.2,1242.3 L1261.7,1243.3 L1262.2,1240.6 L1262.7,1242.8 L1263.2,1242.2 L1263.7,1245.0 L1264.2,1243.8 L1264.7,1245.6 L1265.3,1245.7 L1266.0,1244.9 L1266.7,1244.7 L1267.4,1247.1 L1268.1,1246.0 L1268.7,1247.0 L1269.4,1248.3 L1270.1,1247.4 L1270.8,1247.6 L1271.5,1247.4 L1272.2,1249.0 L1272.9,1248.4 L1273.6,1248.2 L1274.2,1249.6 L1274.9,1250.1 L1275.6,1249.9 L1276.3,1251.6 L1277.0,1253.1 L1277.7,1253.4 L1278.5,1254.7 L1279.3,1254.0 L1280.0,1253.3 L1280.8,1251.5 L1281.6,1253.3 L1282.4,1254.1 L1283.2,1252.8 L1284.0,1254.0 L1284.8,1252.0 L1285.5,1252.7 L1286.3,1253.0 L1287.1,1253.5 L1287.9,1251.8 L1288.7,1253.2 L1289.5,1251.1 L1290.2,1249.9 L1291.0,1251.4 L1291.8,1252.8 L1292.6,1251.5 L1293.4,1253.3 L1294.2,1252.0 L1295.0,1253.8 L1295.8,1250.6 L1296.6,1254.3 L1297.3,1250.7 L1298.1,1252.3 L1298.9,1251.4 L1299.7,1252.6 L1300.5,1252.1 L1301.3,1252.1 L1302.1,1253.0 L1302.9,1253.4 L1303.7,1252.6 L1304.4,1254.1 L1305.2,1252.0 L1305.7,1253.2 L1306.3,1253.7 L1306.9,1255.8 L1307.4,1256.8 L1308.0,1256.3 L1308.6,1256.8 L1309.1,1256.9 L1309.7,1259.0 L1310.3,1260.0 L1310.8,1259.2 L1311.4,1260.1 L1312.0,1260.4 L1312.5,1261.3 L1313.1,1262.2 L1313.7,1260.5 L1314.2,1262.3 L1314.8,1263.9 L1315.4,1262.8 L1316.2,1264.8 L1316.9,1265.2 L1317.6,1263.5 L1318.3,1263.8 L1319.0,1265.9 L1319.7,1263.7 L1320.5,1264.5 L1321.2,1264.3 L1321.9,1266.0 L1322.6,1266.6 L1323.3,1267.0 L1324.0,1267.2 L1324.7,1266.2 L1325.5,1268.6 L1326.2,1267.9 L1326.9,1268.0 L1327.6,1270.0 L1328.3,1269.0 L1329.0,1269.5 L1329.8,1270.1 L1330.5,1271.3 L1331.3,1269.8 L1332.0,1270.5 L1332.8,1268.2 L1333.5,1269.6 L1334.3,1272.4 L1335.1,1272.7 L1335.8,1271.4 L1336.6,1271.2 L1337.3,1271.3 L1338.1,1271.9 L1338.8,1272.9 L1339.6,1272.5 L1340.4,1274.3 L1341.1,1274.6 L1341.9,1274.1 L1342.6,1274.4 L1343.4,1274.9 L1344.2,1275.7 L1344.9,1276.2 L1345.7,1277.1 L1346.5,1275.3 L1347.2,1276.7 L1348.0,1277.1 L1348.8,1277.5 L1349.6,1278.0 L1350.4,1277.0 L1351.1,1278.5 L1351.9,1279.4 L1352.7,1277.9 L1353.5,1278.9 L1354.2,1278.5 L1355.0,1278.1 L1355.8,1277.6 L1356.6,1278.0 L1357.3,1279.6 L1358.1,1278.1 L1358.9,1277.6 L1359.7,1278.0 L1360.4,1279.3 L1361.2,1278.4 L1362.0,1279.9 L1362.8,1280.0 L1363.6,1279.8 L1364.4,1281.2 L1365.2,1279.0 L1366.0,1279.8 L1366.8,1280.3 L1367.6,1280.8 L1368.3,1279.5 L1369.1,1280.2 L1369.9,1281.8 L1370.7,1280.4 L1371.5,1281.5 L1372.3,1280.6 L1373.1,1280.1 L1373.9,1281.2 L1374.7,1281.9 L1375.4,1280.7 L1376.2,1279.5 L1377.0,1279.8 L1377.8,1279.9 L1378.5,1280.0 L1379.3,1279.4 L1380.1,1280.7 L1380.9,1279.2 L1381.6,1280.8 L1382.4,1279.0 L1383.2,1278.9 L1384.0,1280.4 L1384.7,1279.8 L1385.5,1278.6 L1386.2,1278.0 L1387.0,1277.8 L1387.7,1277.6 L1388.5,1277.4 L1389.2,1277.7 L1390.0,1275.8 L1390.7,1276.2 L1391.4,1276.0 L1392.2,1274.6 L1392.9,1276.5 L1393.7,1276.7 L1394.4,1275.1 L1395.2,1273.4 L1395.9,1273.8 L1396.6,1274.9 L1397.4,1272.1 L1398.1,1272.3 L1398.9,1273.8 L1399.6,1274.8 L1400.3,1275.4 L1401.1,1275.8 L1401.8,1273.3 L1402.6,1275.0 L1403.3,1275.0 L1404.0,1275.3 L1404.8,1277.0 L1405.5,1277.1 L1406.2,1276.4 L1407.0,1277.6 L1407.7,1277.9 L1408.5,1279.0 L1409.2,1277.8 L1409.9,1279.0 L1410.7,1278.2 L1411.4,1279.3 L1412.2,1279.2 L1412.9,1279.5 L1413.7,1279.1 L1414.5,1280.2 L1415.3,1278.4 L1416.1,1278.1 L1416.9,1278.4 L1417.7,1279.2 L1418.5,1279.4 L1419.3,1278.7 L1420.1,1278.2 L1420.9,1278.4 L1421.7,1278.1 L1422.5,1279.0 L1423.3,1278.5 L1424.1,1278.6 L1424.9,1278.4 L1425.7,1278.4 L1426.5,1279.2 L1427.3,1277.8 L1428.1,1278.5 L1428.9,1278.5 L1429.7,1277.6 L1430.5,1279.4 L1431.3,1278.2 L1432.0,1277.1 L1432.8,1278.7 L1433.6,1278.3 L1434.4,1278.3 L1435.2,1277.5 L1436.0,1277.3 L1436.8,1277.6 L1437.6,1276.4 L1438.4,1277.5 L1439.2,1277.5 L1440.0,1278.2 L1440.8,1277.4 L1441.6,1278.2 L1442.4,1276.7 L1443.2,1277.3 L1444.0,1278.6 L1444.8,1279.2 L1445.6,1278.6 L1446.3,1276.5 L1447.1,1276.7 L1447.9,1276.7 L1448.6,1277.9 L1449.4,1276.1 L1450.1,1276.4 L1450.9,1276.1 L1451.6,1275.7 L1452.4,1274.8 L1453.2,1274.7 L1453.9,1274.7 L1454.7,1273.9 L1455.4,1273.4 L1456.2,1273.8 L1457.0,1274.2 L1457.7,1274.9 L1458.5,1271.9 L1459.2,1273.0 L1460.0,1272.7 L1460.8,1272.0 L1461.6,1272.8 L1462.4,1272.6 L1463.2,1272.4 L1464.0,1272.7 L1464.8,1273.7 L1465.6,1272.4 L1466.4,1272.8 L1467.2,1273.1 L1468.0,1272.5 L1468.8,1272.5 L1469.5,1272.3 L1470.3,1273.2 L1471.1,1275.1 L1471.9,1272.9 L1472.7,1275.2 L1473.5,1274.0 L1474.3,1274.2 L1475.1,1275.7 L1475.9,1275.5 L1476.7,1275.5 L1477.5,1274.9 L1478.3,1275.5 L1479.1,1274.3 L1479.9,1275.0 L1480.7,1275.5 L1481.5,1274.6 L1482.3,1273.9 L1483.1,1275.8 L1483.9,1274.2 L1484.7,1273.5 L1485.4,1274.7 L1486.2,1275.0 L1487.0,1274.2 L1487.8,1272.6 L1488.5,1273.0 L1489.2,1272.7 L1489.9,1272.5 L1490.7,1270.3 L1491.4,1269.9 L1492.1,1270.4 L1492.8,1269.7 L1493.5,1269.5 L1494.2,1269.5 L1495.0,1267.0 L1495.7,1266.6 L1496.4,1266.6 L1497.1,1267.9 L1497.8,1266.3 L1498.6,1267.2 L1499.4,1264.5 L1500.2,1266.6 L1501.0,1267.1 L1501.8,1267.5 L1502.6,1265.9 L1503.4,1268.0 L1504.2,1265.8 L1505.0,1267.6 L1505.8,1267.8 L1506.6,1266.3 L1507.4,1265.3 L1508.2,1268.0 L1509.0,1266.5 L1509.8,1265.1 L1510.5,1266.1 L1511.1,1264.4 L1511.7,1264.9 L1512.4,1263.4 L1513.0,1262.0 L1513.7,1263.9 L1514.3,1262.5 L1515.0,1262.6 L1515.6,1262.4 L1516.3,1261.9 L1516.9,1261.2 L1517.5,1261.7 L1518.2,1261.6 L1518.8,1261.0 L1519.5,1260.2 L1520.1,1260.1 L1520.8,1260.9 L1521.4,1260.2 L1522.1,1258.6 L1522.7,1258.7 L1523.4,1258.2 L1524.0,1257.7 L1524.6,1256.7 L1525.4,1256.8 L1526.1,1256.2 L1526.9,1257.1 L1527.7,1257.1 L1528.5,1257.3 L1529.3,1257.5 L1530.1,1257.6 L1530.9,1256.7 L1531.7,1256.6 L1532.5,1257.9 L1533.2,1257.6 L1534.0,1258.6 L1534.8,1257.7 L1535.6,1257.9 L1536.4,1257.2 L1537.2,1258.2 L1538.0,1258.0 L1538.8,1259.2 L1539.6,1258.4 L1540.3,1259.3 L1541.1,1257.2 L1541.9,1256.2 L1542.6,1258.0 L1543.4,1257.3 L1544.1,1257.8 L1544.9,1255.8 L1545.6,1254.7 L1546.4,1257.0 L1547.2,1255.7 L1547.9,1254.8 L1548.7,1256.6 L1549.4,1254.6 L1550.2,1253.6 L1551.0,1254.3 L1551.7,1253.2 L1552.5,1252.7 L1553.2,1253.4 L1554.0,1252.9 L1554.8,1252.5 L1555.4,1252.2 L1556.1,1250.8 L1556.7,1252.0 L1557.3,1252.6 L1558.0,1251.0 L1558.6,1251.5 L1559.2,1251.7 L1559.9,1249.6 L1560.5,1248.9 L1561.1,1248.2 L1561.8,1248.1 L1562.4,1248.6 L1563.0,1247.2 L1563.7,1247.6 L1564.3,1245.5 L1565.0,1246.6 L1565.6,1244.3 L1566.2,1243.8 L1566.9,1243.3 L1567.5,1242.4 L1568.1,1241.9 L1568.8,1241.9 L1569.4,1240.9 L1570.0,1240.9 L1570.8,1240.0 L1571.6,1240.0 L1572.4,1239.5 L1573.2,1241.2 L1574.0,1240.0 L1574.8,1241.0 L1575.6,1240.7 L1576.4,1240.6 L1577.2,1240.2 L1578.0,1240.6 L1578.8,1240.3 L1579.6,1241.1 L1580.3,1239.4 L1581.1,1239.1 L1581.9,1238.4 L1582.7,1240.9 L1583.5,1238.6 L1584.3,1239.8 L1585.1,1239.8 L1585.9,1238.4 L1586.7,1239.1 L1587.5,1240.3 L1588.3,1239.8 L1589.1,1238.9 L1589.9,1240.0 L1590.7,1241.0 L1591.5,1240.0 L1592.3,1240.1 L1593.1,1240.5 L1593.9,1241.0 L1594.7,1239.2 L1595.5,1238.6 L1596.3,1239.0 L1597.1,1238.7 L1597.9,1238.1 L1598.7,1239.2 L1599.5,1238.8 L1600.2,1240.6 L1600.9,1239.3 L1601.6,1237.0 L1602.3,1237.8 L1603.0,1238.5 L1603.7,1237.2 L1604.4,1236.4 L1605.0,1236.0 L1605.7,1235.2 L1606.4,1235.8 L1607.1,1234.3 L1607.8,1233.5 L1608.5,1234.4 L1609.2,1232.3 L1609.8,1233.0 L1610.5,1231.7 L1611.2,1231.8 L1611.9,1231.4 L1612.6,1230.7 L1613.3,1230.8 L1614.0,1232.2 L1614.6,1230.0 L1615.4,1232.4 L1616.2,1231.6 L1617.0,1232.3 L1617.8,1230.7 L1618.6,1232.0 L1619.4,1231.3 L1620.2,1232.7 L1621.0,1230.7 L1621.8,1231.9 L1622.6,1230.3 L1623.4,1231.7 L1624.2,1230.2 L1625.0,1229.5 L1625.8,1229.2 L1626.6,1229.8 L1627.4,1231.5 L1628.2,1229.3 L1628.9,1229.8 L1629.7,1230.5 L1630.5,1230.9 L1631.3,1231.5 L1632.0,1232.9 L1632.8,1231.8 L1633.6,1231.1 L1634.3,1233.1 L1635.1,1232.4 L1635.8,1232.7 L1636.6,1233.2 L1637.3,1234.5 L1638.1,1234.5 L1638.9,1233.8 L1639.6,1233.8 L1640.4,1234.8 L1641.1,1234.1 L1641.9,1233.7 L1642.7,1234.9 L1643.4,1236.5 L1644.2,1235.4 L1644.9,1235.8 L1645.7,1237.1 L1646.5,1236.8 L1647.3,1236.5 L1648.1,1234.3 L1648.9,1234.9 L1649.7,1235.2 L1650.5,1234.6 L1651.2,1233.1 L1652.0,1232.9 L1652.8,1232.3 L1653.6,1232.2 L1654.4,1232.8 L1655.2,1232.7 L1656.0,1231.7 L1656.8,1232.9 L1657.6,1232.5 L1658.4,1233.4 L1659.1,1231.9 L1659.9,1232.5 L1660.6,1231.1 L1661.2,1234.1 L1661.8,1234.4 L1662.4,1235.2 L1663.1,1235.0 L1663.7,1235.4 L1664.3,1235.7 L1664.9,1237.1 L1665.6,1235.7 L1666.2,1236.8 L1666.8,1237.8 L1667.4,1237.4 L1668.1,1237.4 L1668.7,1238.5 L1669.3,1239.6 L1669.9,1241.2 L1670.6,1240.2 L1671.2,1239.7 L1671.8,1242.9 L1672.4,1242.9 L1673.2,1243.7 L1674.0,1243.5 L1674.8,1243.9 L1675.6,1242.6 L1676.3,1244.8 L1677.1,1243.6 L1677.9,1245.2 L1678.7,1243.3 L1679.5,1245.9 L1680.3,1244.9 L1681.1,1243.4 L1681.8,1245.5 L1682.6,1245.7 L1683.4,1245.9 L1684.2,1245.2 L1685.0,1248.1 L1685.8,1245.9 L1686.6,1247.1 L1687.3,1244.3 L1688.1,1246.7 L1688.9,1246.5 L1689.7,1245.9 L1690.5,1246.7 L1691.3,1245.0 L1692.1,1245.5 L1692.9,1244.8 L1693.7,1244.7 L1694.4,1243.4 L1695.2,1244.4 L1696.0,1244.0 L1696.8,1243.5 L1697.6,1243.2 L1698.4,1242.4 L1699.2,1242.0 L1700.0,1242.1 L1700.6,1243.0 L1701.2,1242.2 L1701.8,1243.6 L1702.5,1245.5 L1703.1,1245.4 L1703.7,1244.7 L1704.3,1247.0 L1705.0,1245.3 L1705.6,1247.1 L1706.2,1248.7 L1706.8,1248.9 L1707.5,1249.1 L1708.1,1248.6 L1708.7,1248.6 L1709.3,1250.8 L1710.0,1251.0 L1710.6,1252.6 L1711.2,1251.3 L1711.8,1251.4 L1712.5,1252.3 L1713.2,1251.5 L1714.0,1252.7 L1714.8,1253.1 L1715.6,1253.2 L1716.4,1254.8 L1717.2,1255.0 L1718.0,1253.4 L1718.8,1253.2 L1719.6,1254.7 L1720.4,1254.6 L1721.1,1252.7 L1721.9,1253.1 L1722.7,1253.0 L1723.5,1252.6 L1724.3,1253.1 L1725.1,1252.5 L1725.9,1254.1 L1726.7,1253.9 L1727.5,1252.1 L1728.3,1252.9 L1729.1,1252.9 L1729.9,1254.4 L1730.7,1252.8 L1731.5,1254.0 L1732.3,1254.7 L1733.1,1252.8 L1733.9,1254.1 L1734.7,1253.9 L1735.5,1254.8 L1736.3,1253.2 L1737.1,1254.2 L1737.9,1253.3 L1738.7,1255.3 L1739.5,1253.3 L1740.3,1255.0 L1741.1,1253.8 L1741.9,1254.6 L1742.6,1254.7 L1743.4,1255.8 L1744.2,1256.6 L1744.9,1257.6 L1745.7,1258.3 L1746.4,1257.7 L1747.2,1257.3 L1748.0,1259.7 L1748.7,1258.1 L1749.5,1259.5 L1750.2,1259.2 L1751.0,1259.5 L1751.8,1260.4 L1752.5,1259.5 L1753.3,1260.4 L1754.0,1260.6 L1754.8,1261.6 L1755.5,1261.9 L1756.3,1261.8 L1757.1,1261.5 L1757.8,1263.1 L1758.6,1262.7 L1759.4,1261.1 L1760.2,1262.6 L1761.0,1263.0 L1761.8,1262.1 L1762.6,1263.2 L1763.4,1262.8 L1764.1,1262.4 L1764.9,1263.2 L1765.7,1262.6 L1766.5,1262.1 L1767.3,1263.0 L1768.1,1261.4 L1768.9,1263.7 L1769.7,1262.5 L1770.5,1262.8 L1771.3,1263.5 L1772.0,1263.5 L1772.8,1262.5 L1773.6,1262.9 L1774.4,1263.3 L1775.2,1263.5 L1776.0,1261.6 L1776.8,1262.3 L1777.6,1261.1 L1778.4,1261.1 L1779.2,1261.6 L1780.0,1261.4 L1780.8,1260.6 L1781.6,1260.7 L1782.4,1261.4 L1783.2,1260.3 L1784.0,1261.7 L1784.8,1260.7 L1785.6,1262.8 L1786.4,1262.0 L1787.2,1262.6 L1788.0,1261.9 L1788.8,1263.4 L1789.6,1263.2 L1790.4,1263.7 L1791.1,1263.4 L1791.9,1264.0 L1792.7,1263.6 L1793.5,1264.4 L1794.2,1263.8 L1795.0,1264.0 L1795.8,1264.6 L1796.6,1264.8 L1797.4,1264.9 L1798.1,1264.5 L1798.9,1265.2 L1799.7,1266.4 L1800.5,1265.9 L1801.3,1266.3 L1802.0,1265.7 L1802.8,1267.4 L1803.6,1266.2 L1804.4,1266.9 L1805.2,1266.6 L1806.0,1267.6 L1806.7,1265.5 L1807.5,1265.2 L1808.3,1266.7 L1809.1,1265.0 L1809.9,1266.5 L1810.7,1266.6 L1811.5,1267.1 L1812.2,1267.9 L1813.0,1266.4 L1813.8,1268.1 L1814.6,1268.9 L1815.4,1269.4 L1816.2,1267.4 L1816.9,1268.3 L1817.7,1270.4 L1818.5,1268.3 L1819.3,1270.4 L1820.1,1270.1 L1820.8,1270.6 L1821.6,1269.1 L1822.4,1269.6 L1823.2,1270.4 L1823.9,1272.0 L1824.7,1272.6 L1825.5,1271.6 L1826.3,1272.9 L1827.0,1273.1 L1827.8,1272.5 L1828.6,1272.6 L1829.4,1272.1 L1830.2,1272.8 L1830.9,1273.2 L1831.7,1274.8 L1832.5,1274.6 L1833.3,1273.8 L1834.0,1274.2 L1834.8,1273.3 L1835.6,1272.2 L1836.4,1274.5 L1837.1,1275.0 L1837.8,1274.3 L1838.5,1276.2 L1839.3,1276.5 L1840.0,1276.7 L1840.7,1274.9 L1841.5,1276.9 L1842.2,1277.7 L1842.9,1276.8 L1843.6,1277.5 L1844.4,1278.9 L1845.1,1280.1 L1845.8,1279.4 L1846.6,1279.2 L1847.3,1278.9 L1848.0,1278.7 L1848.7,1279.2 L1849.5,1280.5 L1850.2,1280.1 L1850.9,1281.8 L1851.7,1279.9 L1852.4,1280.3 L1853.1,1281.4 L1853.8,1281.9 L1854.6,1282.0 L1855.3,1281.2 L1856.1,1281.5 L1856.9,1282.8 L1857.7,1281.8 L1858.5,1281.7 L1859.3,1282.6 L1860.1,1282.5 L1860.9,1282.2 L1861.7,1283.6 L1862.5,1281.2 L1863.3,1282.7 L1864.1,1282.0 L1864.9,1283.4 L1865.6,1281.9 L1866.4,1283.4 L1867.2,1282.7 L1868.0,1285.3 L1868.8,1283.6 L1869.6,1285.4 L1870.3,1283.4 L1871.0,1283.9 L1871.7,1285.1 L1872.4,1283.8 L1873.1,1284.8 L1873.8,1287.2 L1874.5,1287.2 L1875.2,1286.5 L1875.9,1288.0 L1876.6,1287.9 L1877.3,1288.4 L1878.0,1287.7 L1878.7,1289.7 L1879.4,1289.0 L1880.1,1291.2 L1880.7,1289.6 L1881.5,1292.9 L1882.2,1290.7 L1882.9,1290.5 L1883.7,1291.1 L1884.4,1292.6 L1885.2,1292.9 L1885.9,1292.5 L1886.6,1294.0 L1887.4,1295.3 L1888.1,1294.1 L1888.9,1294.9 L1889.6,1295.2 L1890.3,1295.4 L1891.1,1293.2 L1891.9,1295.4 L1892.7,1293.9 L1893.5,1293.7 L1894.3,1294.2 L1895.1,1290.8 L1895.9,1293.3 L1896.6,1292.7 L1897.4,1293.6 L1898.2,1292.5 L1899.0,1293.3 L1899.8,1293.1 L1900.6,1291.3 L1901.4,1292.3 L1902.2,1291.8 L1902.9,1292.3 L1903.7,1291.6 L1904.5,1290.9 L1905.3,1291.8 L1906.1,1291.3 L1906.9,1291.6 L1907.7,1292.3 L1908.5,1290.5 L1909.3,1290.5 L1910.0,1291.6 L1910.8,1291.4 L1911.6,1289.4 L1912.4,1290.7 L1913.2,1289.7 L1914.0,1290.4 L1914.7,1291.0 L1915.5,1291.5 L1916.3,1291.7 L1917.1,1292.5 L1917.9,1293.0 L1918.7,1294.4 L1919.5,1294.1 L1920.2,1293.0 L1921.0,1295.4 L1921.8,1294.9 L1922.6,1293.9 L1923.4,1294.0 L1924.1,1294.7 L1924.9,1294.6 L1925.7,1294.5 L1926.5,1292.7 L1927.2,1293.3 L1928.0,1294.8 L1928.8,1291.3 L1929.6,1291.1 L1930.3,1291.8 L1931.1,1291.5 L1931.9,1290.4 L1932.7,1290.5 L1933.4,1290.0 L1934.2,1289.4 L1935.0,1290.1 L1935.8,1290.0 L1936.6,1290.7 L1937.4,1291.1 L1938.2,1290.0 L1938.9,1290.8 L1939.7,1290.3 L1940.5,1291.0 L1941.3,1291.7 L1942.1,1292.4 L1942.9,1291.5 L1943.7,1292.9 L1944.4,1292.7 L1945.2,1292.9 L1946.0,1293.4 L1946.8,1293.5 L1947.6,1294.7 L1948.4,1293.8 L1949.1,1295.6 L1949.9,1295.3 L1950.6,1297.4 L1951.4,1296.2 L1952.1,1297.1 L1952.8,1297.7 L1953.6,1298.0 L1954.3,1298.8 L1955.1,1299.1 L1955.8,1297.8 L1956.6,1297.7 L1957.3,1299.4 L1958.1,1298.9 L1958.8,1298.3 L1959.6,1298.2 L1960.4,1298.7 L1961.2,1298.6 L1962.0,1296.1 L1962.8,1297.0 L1963.5,1296.9 L1964.3,1296.3 L1965.1,1297.7 L1965.9,1297.5 L1966.7,1296.1 L1967.5,1297.1 L1968.2,1295.9 L1968.9,1297.4 L1969.7,1297.1 L1970.4,1296.8 L1971.2,1297.2 L1971.9,1296.6 L1972.6,1298.1 L1973.4,1297.2 L1974.1,1298.2 L1974.9,1297.4 L1975.6,1297.7 L1976.4,1298.8 L1977.1,1298.8 L1977.8,1299.5 L1978.6,1298.1 L1979.3,1298.2 L1980.1,1297.9 L1980.8,1298.9 L1981.5,1297.1 L1982.3,1295.8 L1983.0,1295.2 L1983.8,1295.7 L1984.5,1295.8 L1985.3,1294.4 L1986.0,1294.1 L1986.8,1294.2 L1987.6,1294.9 L1988.4,1295.3 L1989.2,1294.2 L1990.0,1294.1 L1990.8,1295.7 L1991.6,1296.1 L1992.4,1295.2 L1993.2,1294.3 L1994.0,1294.4 L1994.8,1295.5 L1995.6,1293.7 L1996.3,1294.2 L1997.1,1296.5 L1997.8,1295.0 L1998.5,1295.8 L1999.3,1298.4 L2000.0,1296.6 L2000.8,1298.4 L2001.5,1297.4 L2002.2,1297.0 L2003.0,1298.6 L2003.7,1298.5 L2004.5,1299.6 L2005.2,1298.2 L2006.0,1300.1 L2006.8,1300.2 L2007.5,1301.0 L2008.3,1301.0 L2009.1,1300.3 L2009.8,1302.5 L2010.6,1302.6 L2011.4,1303.0 L2012.2,1303.1 L2012.9,1303.3 L2013.7,1302.8 L2014.5,1302.2 L2015.2,1302.6 L2016.0,1303.9 L2016.7,1302.5 L2017.4,1304.1 L2018.1,1305.5 L2018.8,1304.3 L2019.5,1306.8 L2020.2,1304.2 L2020.9,1306.2 L2021.6,1304.3 L2022.3,1306.3 L2023.0,1307.6 L2023.7,1306.2 L2024.4,1305.7 L2025.2,1306.0 L2025.9,1307.6 L2026.6,1308.1 L2027.3,1308.1 L2028.0,1307.1 L2028.8,1306.5 L2029.5,1306.5 L2030.3,1306.2 L2031.1,1305.7 L2031.8,1307.7 L2032.6,1307.7 L2033.3,1307.5 L2034.1,1307.7 L2034.9,1305.5 L2035.6,1304.3 L2036.4,1305.6 L2037.1,1304.9 L2037.9,1303.9 L2038.7,1304.9 L2039.5,1304.1 L2040.3,1305.0 L2041.1,1304.7 L2041.9,1303.8 L2042.7,1304.5 L2043.5,1304.1 L2044.3,1305.0 L2045.1,1304.8 L2045.9,1304.3 L2046.7,1305.6 L2047.5,1305.4 L2048.3,1305.7 L2049.1,1306.1 L2049.9,1308.1 L2050.7,1306.8 L2051.5,1306.5 L2052.2,1306.6 L2052.9,1306.3 L2053.5,1308.1 L2054.2,1308.6 L2054.9,1308.5 L2055.6,1309.9 L2056.3,1310.0 L2057.0,1310.6 L2057.7,1310.2 L2058.4,1312.0 L2059.0,1311.6 L2059.7,1311.0 L2060.4,1311.9 L2061.1,1313.0 L2061.9,1311.9 L2062.7,1313.5 L2063.5,1312.2 L2064.3,1311.1 L2065.1,1313.2 L2065.9,1312.2 L2066.6,1312.6 L2067.4,1312.4 L2068.2,1313.4 L2069.0,1312.6 L2069.8,1313.3 L2070.6,1312.1 L2071.4,1313.1 L2072.2,1312.8 L2072.9,1313.7 L2073.7,1315.9 L2074.4,1314.1 L2075.2,1315.4 L2076.0,1315.2 L2076.7,1316.2 L2077.5,1315.4 L2078.2,1315.8 L2079.0,1314.9 L2079.8,1317.2 L2080.5,1316.2 L2081.3,1316.3 L2082.0,1315.0 L2082.8,1317.1 L2083.6,1316.7 L2084.4,1315.3 L2085.2,1315.7 L2086.0,1315.2 L2086.8,1316.2 L2087.6,1313.8 L2088.4,1315.7 L2089.2,1316.0 L2090.0,1316.6 L2090.8,1315.2 L2091.6,1315.6 L2092.4,1315.4 L2093.2,1317.1 L2094.0,1316.7 L2094.8,1317.1 L2095.5,1316.6 L2096.2,1316.1 L2097.0,1314.3 L2097.7,1314.7 L2098.4,1315.6 L2099.2,1314.6 L2099.9,1313.3 L2100.7,1313.2 L2101.4,1313.3 L2102.1,1313.2 L2102.9,1313.2 L2103.6,1312.9 L2104.3,1313.0 L2105.1,1313.2 L2105.8,1312.6 L2106.5,1310.9 L2107.3,1313.1 L2108.0,1311.1 L2108.8,1310.8 L2109.6,1312.3 L2110.4,1312.6 L2111.2,1312.0 L2112.0,1312.7 L2112.8,1311.6 L2113.6,1311.7 L2114.4,1311.0 L2115.2,1312.7 L2116.0,1312.0 L2116.8,1313.1 L2117.6,1311.5 L2118.4,1312.5 L2119.2,1311.6 L2120.0,1312.7 L2120.8,1311.3 L2121.6,1312.5 L2122.3,1310.8 L2123.1,1311.4 L2123.8,1311.5 L2124.5,1313.0 L2125.3,1310.8 L2126.0,1311.8 L2126.8,1313.2 L2127.5,1313.4 L2128.2,1313.8 L2129.0,1314.5 L2129.7,1314.4 L2130.5,1315.5 L2131.2,1316.5 L2131.9,1315.2 L2132.6,1317.3 L2133.3,1316.1 L2134.0,1316.1 L2134.8,1317.3 L2135.5,1317.6 L2136.2,1318.2 L2136.9,1317.4 L2137.6,1318.5 L2138.3,1318.4 L2139.1,1320.1 L2139.8,1319.6 L2140.5,1319.5 L2141.2,1319.5 L2141.9,1320.8 L2142.6,1322.9 L2143.3,1320.6 L2144.0,1322.0 L2144.7,1324.0 L2145.3,1324.4 L2146.0,1324.0 L2146.7,1324.6 L2147.4,1324.8 L2148.1,1324.9 L2148.8,1325.9 L2149.5,1326.9 L2150.1,1327.2 L2150.8,1326.2 L2151.6,1327.1 L2152.4,1326.5 L2153.2,1327.7 L2154.0,1325.4 L2154.8,1325.2 L2155.5,1324.6 L2156.3,1328.0 L2157.1,1326.1 L2157.9,1324.2 L2158.7,1324.7 L2159.5,1322.3 L2160.3,1323.1 L2161.1,1324.9 L2161.9,1322.8 L2162.6,1321.7 L2163.4,1322.2 L2164.2,1322.1 L2165.0,1322.3 L2165.8,1322.2 L2166.6,1321.8 L2167.4,1320.9 L2168.2,1321.9 L2169.0,1321.7 L2169.7,1320.3 L2170.5,1321.9 L2171.3,1321.1 L2172.1,1322.5 L2172.9,1321.5 L2173.7,1320.7 L2174.5,1320.8 L2175.3,1323.2 L2176.0,1323.1 L2176.8,1323.0 L2177.6,1323.6 L2178.4,1322.3 L2179.2,1324.6 L2180.0,1323.9 L2180.7,1324.3 L2181.5,1325.4 L2182.3,1325.2 L2183.1,1323.7 L2183.9,1325.5 L2184.7,1324.9 L2185.5,1326.0 L2186.2,1325.3 L2187.0,1325.7 L2187.8,1324.6 L2188.6,1324.8 L2189.4,1324.7 L2190.2,1326.0 L2191.0,1325.2 L2191.7,1325.9 L2192.5,1328.0 L2193.3,1327.2 L2194.1,1328.4 L2194.9,1325.9 L2195.7,1325.8 L2196.5,1326.1 L2197.3,1327.0 L2198.1,1325.8 L2198.9,1328.0" fill="none" stroke="#ff0000" stroke-width="11.5" stroke-linejoin="round" stroke-linecap="butt"/>
<path d="M335.6,1385.9 L336.4,1382.0 L337.2,1385.1 L338.0,1384.3 L338.8,1385.3 L339.6,1384.5 L340.4,1385.6 L341.2,1384.2 L342.0,1383.7 L342.8,1384.7 L343.6,1384.6 L344.4,1384.1 L345.2,1384.2 L346.0,1385.1 L346.8,1385.1 L347.6,1384.2 L348.4,1384.3 L349.2,1383.1 L350.0,1385.8 L350.8,1384.2 L351.6,1385.3 L352.4,1384.5 L353.2,1385.7 L354.0,1385.3 L354.8,1384.3 L355.6,1385.3 L356.3,1383.2 L357.1,1384.7 L357.8,1382.3 L358.5,1383.5 L359.3,1383.7 L360.0,1382.7 L360.7,1381.9 L361.4,1381.2 L362.2,1381.2 L362.9,1382.0 L363.4,1381.3 L363.9,1379.7 L364.3,1378.2 L364.8,1379.0 L365.3,1376.6 L365.8,1376.6 L366.2,1375.7 L366.7,1376.1 L367.2,1374.9 L367.6,1374.4 L368.1,1373.5 L368.6,1372.1 L369.0,1372.4 L369.6,1372.5 L370.2,1370.9 L370.9,1371.0 L371.5,1370.0 L372.2,1370.5 L372.9,1369.8 L373.5,1369.5 L374.2,1368.7 L374.8,1369.3 L375.5,1367.3 L376.1,1366.9 L376.8,1366.2 L377.5,1366.8 L378.3,1365.8 L379.1,1365.7 L379.9,1366.7 L380.7,1366.9 L381.5,1366.3 L382.3,1363.7 L383.1,1365.0 L383.9,1365.0 L384.7,1365.0 L385.5,1365.8 L386.3,1367.9 L387.1,1366.5 L387.9,1366.6 L388.7,1368.2 L389.5,1368.1 L390.2,1368.6 L391.0,1368.3 L391.8,1369.2 L392.6,1369.8 L393.4,1368.2 L394.2,1368.6 L395.0,1370.9 L395.8,1370.7 L396.6,1369.6 L397.3,1369.1 L398.1,1369.8 L398.9,1368.9 L399.7,1369.6 L400.5,1371.3 L401.2,1369.9 L401.8,1370.3 L402.4,1368.9 L403.1,1369.1 L403.7,1369.6 L404.3,1367.2 L404.9,1367.8 L405.5,1367.7 L406.2,1367.7 L406.8,1368.3 L407.4,1367.1 L408.0,1364.8 L408.7,1365.1 L409.2,1363.9 L409.8,1363.1 L410.4,1364.6 L410.9,1361.3 L411.5,1361.5 L412.1,1360.0 L412.6,1360.5 L413.2,1359.4 L413.8,1358.5 L414.3,1357.7 L414.9,1358.0 L415.5,1355.7 L416.0,1355.2 L416.6,1354.3 L417.3,1355.9 L418.1,1354.3 L418.8,1353.4 L419.6,1353.6 L420.3,1355.6 L421.1,1353.3 L421.8,1353.7 L422.6,1353.1 L423.3,1352.4 L424.1,1351.5 L424.8,1351.4 L425.5,1351.0 L426.3,1349.1 L427.0,1352.6 L427.8,1350.9 L428.5,1349.9 L429.3,1349.3 L430.0,1348.5 L430.8,1349.6 L431.6,1348.5 L432.4,1348.8 L433.2,1347.1 L433.9,1348.2 L434.7,1349.3 L435.5,1347.3 L436.3,1347.9 L437.0,1347.1 L437.8,1347.7 L438.6,1347.5 L439.4,1346.6 L440.2,1345.9 L440.9,1346.5 L441.7,1346.3 L442.5,1345.7 L443.3,1346.6 L444.1,1346.7 L444.8,1345.7 L445.5,1346.2 L446.2,1348.5 L446.9,1346.7 L447.6,1345.9 L448.3,1347.5 L449.0,1344.9 L449.7,1342.9 L450.3,1343.0 L451.0,1342.9 L451.7,1343.9 L452.4,1344.0 L453.1,1341.0 L453.8,1343.1 L454.5,1340.7 L455.1,1341.4 L455.8,1341.0 L456.5,1340.4 L457.2,1339.5 L457.9,1339.1 L458.6,1337.6 L459.3,1338.2 L459.9,1338.2 L460.7,1338.1 L461.5,1339.4 L462.3,1338.1 L463.1,1337.8 L463.9,1338.6 L464.7,1337.5 L465.5,1336.3 L466.3,1335.6 L467.1,1338.5 L467.9,1338.0 L468.7,1338.4 L469.5,1337.5 L470.3,1338.2 L471.1,1339.5 L471.9,1338.4 L472.7,1337.4 L473.5,1338.0 L474.3,1339.6 L475.1,1337.7 L475.8,1336.1 L476.4,1336.0 L477.1,1336.4 L477.8,1337.7 L478.4,1336.7 L479.1,1335.5 L479.8,1334.6 L480.4,1335.0 L481.1,1334.4 L481.8,1333.5 L482.4,1333.2 L483.1,1332.2 L483.8,1333.6 L484.4,1329.8 L485.1,1331.2 L485.8,1329.8 L486.4,1330.7 L487.1,1329.5 L487.8,1329.5 L488.4,1329.2 L489.1,1328.5 L489.8,1328.7 L490.4,1326.3 L490.9,1327.6 L491.5,1326.0 L492.1,1325.9 L492.6,1326.2 L493.2,1325.2 L493.8,1325.2 L494.3,1321.2 L494.9,1321.6 L495.4,1322.5 L496.0,1320.2 L496.6,1320.3 L497.1,1321.2 L497.7,1319.9 L498.3,1317.9 L498.8,1318.5 L499.4,1318.1 L500.0,1317.1 L500.5,1316.5 L501.1,1316.2 L501.7,1314.4 L502.2,1315.2 L502.8,1313.8 L503.4,1314.3 L503.9,1313.8 L504.5,1312.1 L505.1,1312.6 L505.7,1311.9 L506.3,1311.0 L507.0,1311.0 L507.6,1309.6 L508.2,1309.1 L508.9,1308.8 L509.5,1308.2 L510.2,1308.6 L510.8,1305.2 L511.4,1306.3 L512.1,1304.4 L512.7,1305.0 L513.3,1305.1 L514.0,1304.3 L514.6,1304.5 L515.2,1303.4 L515.9,1300.3 L516.5,1301.0 L517.1,1302.6 L517.8,1302.1 L518.4,1300.4 L519.0,1298.6 L519.7,1301.2 L520.2,1297.3 L520.7,1298.8 L521.2,1298.1 L521.7,1298.0 L522.2,1296.5 L522.7,1296.8 L523.2,1297.7 L523.7,1296.2 L524.2,1295.2 L524.7,1296.0 L525.2,1295.8 L525.7,1295.3 L526.2,1294.4 L526.6,1295.1 L527.1,1294.1 L527.6,1292.8 L528.1,1293.4 L528.6,1292.6 L529.1,1292.1 L529.6,1290.0 L530.1,1290.0 L530.6,1290.2 L531.1,1289.9 L531.6,1288.6 L532.1,1287.6 L532.5,1287.2 L532.8,1286.5 L533.1,1286.1 L533.3,1284.2 L533.6,1282.5 L533.9,1282.4 L534.1,1279.7 L534.4,1280.5 L534.7,1279.3 L535.0,1278.9 L535.2,1278.6 L535.5,1277.5 L535.8,1275.5 L536.0,1275.6 L536.3,1274.4 L536.6,1274.2 L536.8,1273.7 L537.1,1271.8 L537.4,1272.3 L537.6,1272.0 L537.9,1269.9 L538.2,1269.9 L538.4,1267.4 L538.7,1267.4 L539.0,1267.9 L539.3,1265.0 L539.5,1265.3 L539.8,1264.3 L540.1,1265.3 L540.7,1264.7 L541.3,1262.8 L541.8,1262.8 L542.4,1260.0 L543.0,1262.1 L543.5,1261.0 L544.1,1261.1 L544.7,1257.5 L545.2,1259.0 L545.8,1257.9 L546.4,1255.5 L546.9,1256.4 L547.5,1256.4 L548.1,1256.5 L548.6,1255.5 L549.2,1254.3 L549.7,1254.4 L550.3,1253.3 L550.8,1252.0 L551.3,1250.9 L551.9,1251.0 L552.4,1250.2 L552.9,1250.8 L553.4,1248.2 L554.0,1249.1 L554.5,1247.4 L555.0,1247.4 L555.5,1245.2 L556.1,1244.7 L556.6,1244.7 L557.1,1245.2 L557.6,1244.2 L558.2,1244.2 L558.7,1243.5 L559.2,1243.6 L559.7,1242.6 L560.2,1241.6 L560.6,1242.0 L561.0,1241.2 L561.4,1242.0 L561.8,1240.0 L562.2,1239.8 L562.6,1238.9 L563.0,1239.6 L563.4,1238.8 L563.8,1238.1 L564.2,1236.0 L564.6,1235.1 L565.0,1235.8 L565.4,1235.4 L565.8,1235.3 L566.2,1231.8 L566.6,1232.3 L566.9,1230.3 L567.3,1230.1 L567.7,1229.9 L568.1,1230.1 L568.5,1228.2 L568.9,1227.4 L569.3,1227.1 L569.7,1227.7 L570.1,1228.1 L570.5,1224.3 L570.8,1224.6 L571.2,1223.9 L571.5,1224.5 L571.9,1223.2 L572.3,1223.4 L572.6,1220.6 L573.0,1220.6 L573.3,1219.4 L573.7,1218.0 L574.0,1217.8 L574.4,1216.1 L574.8,1217.8 L575.1,1215.4 L575.5,1213.3 L575.8,1212.7 L576.2,1213.7 L576.6,1211.0 L576.9,1211.1 L577.3,1210.1 L577.6,1209.7 L578.0,1208.5 L578.3,1207.0 L578.7,1205.9 L579.1,1204.2 L579.4,1204.8 L579.8,1204.3 L580.2,1203.3 L580.6,1202.9 L581.1,1201.6 L581.6,1203.9 L582.0,1201.5 L582.5,1200.8 L583.0,1200.9 L583.4,1200.9 L583.9,1201.4 L584.4,1198.5 L584.8,1200.5 L585.3,1199.1 L585.7,1198.9 L586.2,1199.1 L586.7,1198.2 L587.1,1196.2 L587.6,1195.8 L588.1,1196.4 L588.5,1195.1 L589.0,1193.7 L589.5,1192.1 L589.9,1192.0 L590.3,1190.6 L590.6,1189.0 L591.0,1187.8 L591.3,1188.3 L591.7,1187.4 L592.0,1187.3 L592.4,1185.3 L592.7,1186.1 L593.0,1184.0 L593.4,1184.7 L593.7,1183.4 L594.1,1181.9 L594.4,1181.0 L594.8,1181.1 L595.1,1180.4 L595.5,1180.7 L595.8,1178.8 L596.1,1177.5 L596.5,1177.9 L596.8,1178.7 L597.2,1177.7 L597.5,1175.0 L597.9,1174.5 L598.2,1174.2 L598.5,1172.6 L598.9,1172.3 L599.2,1171.6 L599.6,1170.4 L599.9,1170.2 L600.2,1169.8 L600.5,1169.8 L600.7,1168.1 L601.0,1168.5 L601.2,1166.9 L601.5,1166.3 L601.7,1165.3 L602.0,1168.6 L602.2,1165.6 L602.5,1164.9 L602.7,1163.8 L603.0,1162.2 L603.2,1161.7 L603.5,1161.2 L603.7,1160.6 L604.0,1160.1 L604.2,1160.1 L604.5,1155.7 L604.8,1156.8 L605.0,1157.0 L605.3,1155.3 L605.5,1154.5 L605.8,1154.8 L606.0,1152.7 L606.3,1153.0 L606.5,1150.4 L606.8,1149.6 L607.0,1147.5 L607.3,1145.8 L607.5,1146.1 L607.8,1145.6 L608.0,1144.5 L608.3,1143.0 L608.5,1143.9 L608.8,1142.7 L609.1,1142.0 L609.3,1140.7 L609.6,1141.9 L609.8,1141.1 L610.1,1139.4 L610.3,1138.3 L610.6,1137.8 L610.9,1138.2 L611.1,1138.3 L611.4,1135.3 L611.7,1134.2 L612.0,1132.4 L612.2,1135.4 L612.5,1131.6 L612.8,1132.5 L613.0,1131.5 L613.3,1131.4 L613.6,1129.0 L613.8,1127.6 L614.1,1128.3 L614.4,1127.7 L614.6,1127.5 L614.9,1124.3 L615.2,1124.4 L615.4,1123.7 L615.7,1122.0 L616.0,1122.1 L616.3,1122.0 L616.5,1120.6 L616.8,1118.7 L617.1,1119.5 L617.3,1119.3 L617.6,1118.4 L617.9,1118.0 L618.2,1115.5 L618.5,1116.7 L618.8,1116.2 L619.2,1114.9 L619.5,1114.6 L619.8,1113.4 L620.1,1114.5 L620.4,1112.7 L620.7,1111.6 L621.0,1112.0 L621.3,1111.3 L621.6,1111.2 L621.9,1109.5 L622.2,1109.0 L622.5,1109.2 L622.8,1110.0 L623.2,1107.9 L623.5,1105.7 L623.8,1106.1 L624.1,1104.5 L624.4,1102.8 L624.7,1102.8 L625.0,1101.9 L625.3,1101.7 L625.6,1101.5 L625.9,1100.3 L626.3,1099.0 L626.6,1097.0 L626.9,1096.5 L627.2,1095.4 L627.5,1095.6 L627.8,1093.1 L628.1,1092.3 L628.4,1093.1 L628.8,1091.6 L629.1,1090.1 L629.4,1089.9 L629.7,1089.3 L630.0,1088.7 L630.3,1088.5 L630.6,1087.6 L631.0,1086.5 L631.3,1085.6 L631.6,1083.9 L631.9,1084.2 L632.2,1084.7 L632.5,1083.2 L632.8,1081.8 L633.1,1081.3 L633.5,1080.1 L633.8,1080.4 L634.1,1081.1 L634.4,1080.4 L634.7,1079.3 L635.0,1078.4 L635.3,1077.0 L635.5,1075.6 L635.7,1075.9 L636.0,1074.9 L636.2,1075.2 L636.5,1073.9 L636.7,1072.5 L637.0,1072.5 L637.2,1073.6 L637.4,1069.7 L637.7,1070.6 L637.9,1069.3 L638.2,1067.9 L638.4,1066.6 L638.7,1066.5 L638.9,1065.9 L639.1,1065.5 L639.4,1064.7 L639.6,1063.6 L639.9,1062.0 L640.1,1062.0 L640.3,1060.6 L640.6,1059.3 L640.8,1060.1 L641.1,1058.1 L641.3,1056.9 L641.6,1057.1 L641.8,1054.8 L642.0,1055.5 L642.3,1055.1 L642.5,1053.6 L642.8,1053.3 L643.0,1054.0 L643.2,1052.6 L643.5,1051.3 L643.7,1050.2 L644.0,1048.5 L644.2,1047.9 L644.5,1047.0 L644.7,1046.6 L644.9,1045.9 L645.2,1044.5 L645.4,1045.8 L645.6,1043.0 L645.8,1043.4 L646.1,1043.2 L646.3,1041.5 L646.5,1040.2 L646.7,1039.9 L646.9,1040.5 L647.2,1038.6 L647.4,1037.0 L647.6,1036.8 L647.8,1035.4 L648.1,1033.3 L648.3,1034.2 L648.5,1034.2 L648.7,1033.5 L648.9,1031.9 L649.2,1030.1 L649.4,1031.5 L649.6,1029.7 L649.8,1029.6 L650.0,1029.1 L650.3,1027.7 L650.5,1026.5 L650.7,1025.2 L650.9,1024.5 L651.2,1024.0 L651.4,1022.8 L651.6,1022.6 L651.8,1019.9 L652.0,1019.8 L652.3,1019.8 L652.5,1018.5 L652.7,1017.8 L652.9,1016.4 L653.1,1017.0 L653.3,1016.9 L653.5,1013.8 L653.7,1014.6 L653.8,1011.5 L654.0,1011.9 L654.2,1009.2 L654.4,1010.3 L654.6,1009.1 L654.8,1008.4 L655.0,1008.5 L655.2,1007.3 L655.4,1006.1 L655.6,1004.9 L655.8,1005.0 L656.0,1003.8 L656.2,1003.4 L656.4,1004.2 L656.6,1003.0 L656.8,1001.8 L657.0,1001.3 L657.1,998.9 L657.3,999.3 L657.5,997.1 L657.7,997.2 L657.9,997.3 L658.0,996.7 L658.2,996.3 L658.4,995.3 L658.5,994.6 L658.7,994.0 L658.9,994.5 L659.0,993.8 L659.2,990.9 L659.4,991.5 L659.5,991.7 L659.7,989.7 L659.9,989.3 L660.0,987.8 L660.2,986.5 L660.4,986.7 L660.5,985.4 L660.7,984.7 L660.9,982.8 L661.0,982.1 L661.2,982.0 L661.4,980.8 L661.5,980.7 L661.7,978.5 L661.9,978.9 L662.1,977.9 L662.4,976.6 L662.6,976.2 L662.9,974.8 L663.1,973.8 L663.3,973.2 L663.6,971.5 L663.8,971.7 L664.0,971.7 L664.3,969.2 L664.5,970.4 L664.8,968.8 L665.0,968.4 L665.2,968.2 L665.5,967.7 L665.7,967.9 L666.0,966.0 L666.2,966.8 L666.4,964.6 L666.7,964.2 L666.9,963.4 L667.1,961.5 L667.4,960.2 L667.6,960.3 L667.9,959.9 L668.1,959.3 L668.3,957.6 L668.5,958.5 L668.7,956.4 L668.9,955.3 L669.1,956.2 L669.2,955.7 L669.4,953.3 L669.6,954.1 L669.8,951.9 L670.0,952.3 L670.2,953.5 L670.4,952.1 L670.6,951.1 L670.8,950.5 L671.0,948.7 L671.2,949.0 L671.4,948.4 L671.6,946.5 L671.8,946.7 L672.0,946.1 L672.2,945.0 L672.4,944.2 L672.5,942.7 L672.7,941.1 L672.9,941.1 L673.1,938.7 L673.4,938.8 L673.6,939.4 L673.8,939.2 L674.0,937.3 L674.2,934.3 L674.5,936.5 L674.7,935.0 L674.9,933.6 L675.1,933.5 L675.4,932.5 L675.6,930.2 L675.8,929.2 L676.0,930.2 L676.2,926.7 L676.5,928.1 L676.7,927.1 L676.9,926.9 L677.1,926.8 L677.3,925.7 L677.6,925.3 L677.8,924.0 L678.0,923.2 L678.2,923.0 L678.4,921.5 L678.7,920.2 L678.9,920.2 L679.1,918.3 L679.3,918.4 L679.5,919.7 L679.7,917.7 L679.9,916.4 L680.2,915.2 L680.4,913.4 L680.6,913.5 L680.8,912.3 L681.0,912.0 L681.2,911.0 L681.4,909.9 L681.6,907.4 L681.9,909.1 L682.1,907.3 L682.3,905.9 L682.5,904.8 L682.7,904.5 L682.9,904.3 L683.1,903.0 L683.3,900.8 L683.6,900.0 L683.8,898.5 L684.0,899.7 L684.2,899.5 L684.4,899.2 L684.7,897.6 L684.9,897.5 L685.1,895.3 L685.4,895.7 L685.6,894.5 L685.9,893.3 L686.1,891.7 L686.3,893.2 L686.6,889.7 L686.8,891.3 L687.0,889.5 L687.3,890.0 L687.5,888.5 L687.8,889.0 L688.0,887.7 L688.2,886.5 L688.5,886.4 L688.7,885.0 L689.0,886.0 L689.2,886.1 L689.4,884.9 L689.7,884.0 L689.9,884.2 L690.1,881.5 L690.4,882.1 L690.6,880.8 L690.8,879.5 L691.0,879.5 L691.2,877.2 L691.4,877.2 L691.6,876.7 L691.8,874.6 L692.0,874.5 L692.2,874.2 L692.3,873.7 L692.5,871.3 L692.7,871.8 L692.9,870.0 L693.1,869.4 L693.3,868.0 L693.5,868.3 L693.7,866.3 L693.9,866.3 L694.1,865.6 L694.3,865.2 L694.5,863.1 L694.7,863.9 L694.9,862.6 L695.1,863.1 L695.3,861.0 L695.5,860.2 L695.7,860.0 L696.0,859.2 L696.3,858.6 L696.6,857.1 L696.9,855.7 L697.3,855.5 L697.6,855.4 L697.9,855.4 L698.2,854.0 L698.5,852.7 L698.8,852.5 L699.1,851.9 L699.4,853.2 L699.7,851.2 L700.0,849.6 L700.3,847.5 L700.6,847.7 L700.9,846.9 L701.2,846.8 L701.5,847.3 L701.8,844.8 L702.1,842.6 L702.4,843.4 L702.7,841.4 L703.1,842.7 L703.4,842.2 L703.7,840.9 L704.0,838.7 L704.3,838.9 L704.6,839.2 L704.9,836.5 L705.3,836.0 L705.6,835.7 L705.9,835.0 L706.2,833.7 L706.5,833.0 L706.9,832.0 L707.2,830.5 L707.5,830.0 L707.8,829.5 L708.1,827.7 L708.5,828.0 L708.8,827.3 L709.1,826.9 L709.4,826.2 L709.7,824.4 L710.1,823.6 L710.4,824.2 L710.7,823.2 L711.0,822.8 L711.4,821.5 L711.7,820.3 L712.0,820.8 L712.3,819.8 L712.7,819.7 L713.0,819.4 L713.4,818.8 L713.8,818.1 L714.1,816.0 L714.5,814.5 L714.9,815.1 L715.3,814.0 L715.6,813.3 L716.0,814.3 L716.4,811.8 L716.7,813.2 L717.1,812.7 L717.5,813.3 L717.9,811.3 L718.2,811.4 L718.6,808.6 L719.0,807.8 L719.4,808.4 L719.7,805.9 L720.1,807.1 L720.5,805.2 L720.8,803.2 L721.2,805.5 L721.6,802.4 L722.0,804.5 L722.3,800.6 L722.7,800.4 L723.1,800.5 L723.4,799.6 L723.7,797.5 L724.0,798.1 L724.3,797.4 L724.6,796.8 L724.9,794.3 L725.2,794.4 L725.5,794.0 L725.8,794.0 L726.1,792.8 L726.4,791.7 L726.7,790.9 L727.0,791.7 L727.3,789.2 L727.6,789.4 L727.9,786.7 L728.2,789.0 L728.5,787.2 L728.9,784.7 L729.2,785.8 L729.5,785.6 L729.8,784.4 L730.1,782.9 L730.4,782.7 L730.7,780.7 L731.0,780.3 L731.3,779.4 L731.6,779.0 L732.0,777.4 L732.3,778.7 L732.6,776.9 L733.0,775.5 L733.3,775.6 L733.6,775.4 L734.0,774.6 L734.3,774.9 L734.7,773.1 L735.0,772.2 L735.3,772.7 L735.7,772.7 L736.0,770.4 L736.3,769.3 L736.7,769.4 L737.0,769.2 L737.3,767.7 L737.7,768.0 L738.0,766.4 L738.3,767.0 L738.7,764.6 L739.0,764.0 L739.4,764.0 L739.7,763.7 L740.0,763.1 L740.4,760.9 L740.7,760.7 L741.1,760.2 L741.5,760.1 L741.9,757.4 L742.2,756.2 L742.6,756.8 L743.0,755.3 L743.4,755.7 L743.8,753.8 L744.1,753.2 L744.5,751.5 L744.9,751.5 L745.3,751.5 L745.6,749.7 L746.0,748.3 L746.4,749.4 L746.8,747.9 L747.2,747.6 L747.5,746.5 L747.9,747.4 L748.3,745.5 L748.7,745.2 L749.1,745.1 L749.4,744.4 L749.8,742.1 L750.2,743.7 L750.6,741.7 L751.0,742.2 L751.3,741.0 L751.6,740.5 L751.9,739.3 L752.2,738.3 L752.5,738.5 L752.8,737.8 L753.1,737.7 L753.4,736.5 L753.7,734.6 L754.0,735.3 L754.3,735.2 L754.6,733.0 L754.9,731.3 L755.2,729.7 L755.5,729.5 L755.8,727.3 L756.1,728.1 L756.4,726.2 L756.7,725.2 L757.0,724.9 L757.3,722.9 L757.6,721.7 L757.9,721.9 L758.1,722.5 L758.4,720.1 L758.7,720.7 L759.0,717.8 L759.3,718.6 L759.6,718.4 L759.8,718.7 L760.0,715.3 L760.3,716.0 L760.5,714.7 L760.8,715.1 L761.0,713.8 L761.2,713.7 L761.5,712.4 L761.7,711.9 L761.9,712.0 L762.2,712.2 L762.4,710.5 L762.7,709.7 L762.9,708.5 L763.1,709.4 L763.4,705.8 L763.6,705.1 L763.9,705.3 L764.1,705.6 L764.3,705.4 L764.6,704.4 L764.8,704.0 L765.0,702.8 L765.3,701.7 L765.5,700.5 L765.8,700.9 L766.1,699.0 L766.3,699.3 L766.6,698.7 L766.8,696.7 L767.1,696.0 L767.4,695.0 L767.6,695.1 L767.9,693.8 L768.2,692.2 L768.4,692.1 L768.7,692.3 L768.9,690.6 L769.2,689.7 L769.5,688.6 L769.7,687.5 L770.0,687.6 L770.3,687.0 L770.5,686.1 L770.8,686.7 L771.0,684.9 L771.3,684.4 L771.6,684.0 L771.8,683.5 L772.1,681.0 L772.4,681.8 L772.6,681.8 L772.9,679.2 L773.1,679.6 L773.4,678.0 L773.7,676.8 L773.9,677.0 L774.2,675.9 L774.5,673.6 L775.2,674.4 L775.9,675.1 L776.6,673.6 L777.3,673.1 L778.0,673.0 L778.7,672.5 L779.3,673.1 L780.0,671.5 L780.7,670.8 L781.4,671.7 L782.1,671.7 L782.8,671.0 L783.5,670.7 L784.1,669.1 L784.8,668.0 L785.4,668.1 L786.1,668.1 L786.7,666.3 L787.3,666.9 L788.0,667.0 L788.6,665.4 L789.3,666.9 L789.9,665.2 L790.5,662.9 L791.2,662.1 L791.8,661.6 L792.2,661.8 L792.6,660.5 L793.0,658.7 L793.3,658.4 L793.7,658.1 L794.0,657.2 L794.4,654.9 L794.8,654.9 L795.1,654.6 L795.5,653.6 L795.8,655.3 L796.2,653.8 L796.6,653.4 L796.9,652.9 L797.3,653.3 L797.6,652.9 L798.0,652.3 L798.4,652.0 L798.7,649.5 L799.1,650.7 L799.4,650.6 L799.8,647.4 L800.3,646.8 L800.8,646.9 L801.3,646.7 L801.8,644.8 L802.3,643.7 L802.8,645.3 L803.3,642.6 L803.8,640.2 L804.3,642.1 L804.8,641.8 L805.3,641.7 L805.8,641.1 L806.3,641.4 L806.8,637.8 L807.3,636.8 L807.8,635.8 L808.6,638.4 L809.4,636.9 L810.1,636.1 L810.9,636.1 L811.7,638.1 L812.5,638.0 L813.3,638.9 L814.1,638.4 L814.9,638.8 L815.6,640.1 L816.4,639.8 L817.2,640.7 L817.8,639.8 L818.3,638.9 L818.7,638.5 L819.2,637.0 L819.6,636.4 L820.0,635.5 L820.5,633.7 L820.9,633.0 L821.4,632.2 L821.8,631.7 L822.3,630.5 L822.7,629.6 L823.2,629.1 L823.6,627.7 L824.0,627.6 L824.5,626.1 L824.9,624.7 L825.4,625.9 L825.7,623.5 L825.9,624.4 L826.2,625.3 L826.5,624.2 L826.8,622.4 L827.1,623.4 L827.4,622.6 L827.6,621.3 L827.9,621.5 L828.2,620.7 L828.5,620.4 L828.8,620.3 L829.0,618.1 L829.3,619.3 L829.6,619.3 L829.9,616.6 L830.2,615.0 L830.4,614.4 L830.7,614.7 L831.0,612.3 L831.3,612.1 L831.6,612.6 L831.9,609.4 L832.2,609.4 L832.5,608.1 L832.9,607.7 L833.2,607.4 L833.5,606.1 L833.8,606.5 L834.1,605.6 L834.4,605.7 L834.7,604.6 L835.1,603.7 L835.4,603.8 L835.7,601.8 L836.0,601.7 L836.3,600.0 L836.6,601.0 L837.0,598.6 L837.3,599.2 L837.8,597.3 L838.3,597.4 L838.8,595.8 L839.3,595.3 L839.8,594.5 L840.3,594.9 L840.8,594.3 L841.3,593.7 L841.8,592.7 L842.3,591.5 L842.8,591.4 L843.3,591.4 L843.8,589.2 L844.3,588.2 L844.8,588.6 L845.4,589.5 L846.2,587.8 L847.0,587.7 L847.8,587.3 L848.6,587.7 L849.4,587.7 L850.2,587.9 L851.0,589.7 L851.8,590.1 L852.6,589.4 L853.3,589.8 L854.0,590.9 L854.6,590.7 L855.2,591.1 L855.9,591.8 L856.5,591.6 L857.2,592.8 L857.8,594.5 L858.4,592.1 L859.1,592.5 L859.7,591.9 L860.4,592.4 L861.1,592.8 L861.8,592.8 L862.6,592.1 L863.4,591.1 L864.2,592.2 L865.0,591.4 L865.8,592.2 L866.6,591.7 L867.3,591.8 L868.1,591.9 L868.9,590.3 L869.7,593.0 L870.5,591.2 L871.1,591.7 L871.6,591.2 L872.2,589.7 L872.8,588.4 L873.3,589.3 L873.9,587.4 L874.5,587.5 L875.0,587.5 L875.6,586.3 L876.1,584.9 L876.7,585.3 L877.3,585.9 L877.8,584.6 L878.4,585.6 L879.2,583.7 L879.9,584.2 L880.7,583.6 L881.5,584.1 L882.3,586.0 L883.0,585.1 L883.8,584.2 L884.6,583.6 L885.4,584.7 L886.1,583.3 L886.8,582.0 L887.4,583.3 L888.1,580.4 L888.7,580.9 L889.4,580.6 L890.0,580.3 L890.7,580.6 L891.3,579.1 L891.9,577.4 L892.6,578.4 L893.2,577.2 L893.9,575.4 L894.5,575.0 L895.2,574.6 L895.9,573.0 L896.6,574.4 L897.2,573.9 L897.9,573.3 L898.6,571.7 L899.2,571.8 L899.9,572.3 L900.6,571.3 L901.3,570.5 L901.9,569.8 L902.6,571.0 L903.3,572.7 L904.0,572.3 L904.6,574.8 L905.3,575.5 L906.0,574.7 L906.7,573.3 L907.3,574.9 L908.0,576.5 L908.7,575.4 L909.4,575.7 L910.0,576.7 L910.6,579.3 L911.1,577.3 L911.7,576.7 L912.3,579.1 L912.8,579.8 L913.4,580.8 L914.0,580.9 L914.5,581.7 L915.1,581.7 L915.7,583.4 L916.2,583.2 L916.8,584.1 L917.4,583.6 L918.0,585.7 L918.7,585.1 L919.5,584.8 L920.2,585.5 L920.9,584.9 L921.6,585.6 L922.3,587.1 L923.0,587.2 L923.8,587.7 L924.5,587.8 L925.2,587.3 L925.8,588.0 L926.3,589.9 L926.8,588.9 L927.3,588.3 L927.8,590.1 L928.3,590.4 L928.8,591.3 L929.3,592.1 L929.8,592.1 L930.3,594.0 L930.8,594.4 L931.3,595.9 L931.8,595.7 L932.3,596.4 L932.8,597.7 L933.3,600.1 L933.9,597.1 L934.4,598.9 L935.0,597.4 L935.6,597.6 L936.1,595.7 L936.7,595.5 L937.3,594.7 L937.8,595.2 L938.4,592.6 L939.0,592.1 L939.4,591.3 L939.7,592.7 L940.0,592.4 L940.3,593.5 L940.6,594.5 L941.0,595.3 L941.3,594.7 L941.6,595.4 L941.9,597.7 L942.2,597.0 L942.5,598.2 L942.9,598.5 L943.2,598.1 L943.5,600.0 L943.8,600.7 L944.1,602.9 L944.4,600.7 L944.8,602.5 L945.1,604.1 L945.4,604.0 L945.7,603.5 L946.1,606.5 L946.4,607.0 L946.7,607.1 L947.0,607.9 L947.4,609.1 L947.7,610.8 L948.0,611.4 L948.3,611.9 L948.7,613.6 L949.0,614.9 L949.3,614.4 L949.6,616.8 L950.0,616.3 L950.3,617.4 L950.6,617.9 L950.9,618.7 L951.3,619.1 L951.6,617.9 L951.9,619.6 L952.3,621.8 L952.6,621.1 L952.9,622.7 L953.3,622.1 L953.6,623.6 L954.0,626.0 L954.3,625.6 L954.7,625.4 L955.1,626.3 L955.4,626.1 L955.8,628.5 L956.1,628.7 L956.5,630.2 L956.9,631.0 L957.2,630.9 L957.6,631.2 L957.9,631.7 L958.3,633.1 L958.7,634.2 L959.0,636.0 L959.3,634.9 L959.6,636.7 L959.8,636.2 L960.1,637.3 L960.4,639.1 L960.7,639.6 L961.0,639.5 L961.2,640.1 L961.5,642.2 L961.8,641.9 L962.1,642.5 L962.4,642.6 L962.7,646.1 L962.9,646.3 L963.2,645.8 L963.5,647.8 L963.8,647.0 L964.1,647.0 L964.3,648.3 L964.6,649.6 L965.0,648.2 L965.6,650.5 L966.3,651.0 L966.9,651.9 L967.5,651.7 L968.1,652.9 L968.8,651.4 L969.4,653.5 L970.0,655.2 L970.6,655.6 L971.3,656.2 L971.9,655.8 L972.5,657.3 L973.1,656.7 L973.7,658.5 L974.4,659.4 L974.8,659.3 L975.1,660.7 L975.3,660.8 L975.6,662.0 L975.9,661.5 L976.2,661.0 L976.5,661.8 L976.7,662.9 L977.0,664.2 L977.3,665.0 L977.6,665.2 L977.9,666.7 L978.2,667.0 L978.4,668.9 L978.7,668.2 L979.0,671.0 L979.3,671.1 L979.6,671.4 L979.8,671.5 L980.1,673.5 L980.4,673.3 L980.8,675.0 L981.2,676.6 L981.6,676.0 L982.1,676.7 L982.5,677.8 L982.9,677.7 L983.3,680.6 L983.8,679.8 L984.2,681.4 L984.6,682.0 L985.0,682.1 L985.5,684.5 L985.9,684.5 L986.3,684.4 L986.7,685.0 L987.2,684.6 L987.6,685.9 L988.0,687.9 L988.4,688.4 L988.9,687.4 L989.3,689.1 L989.7,689.8 L990.1,690.2 L990.7,691.0 L991.2,689.0 L991.8,691.2 L992.3,690.8 L992.9,692.7 L993.4,692.3 L994.0,693.7 L994.6,695.0 L995.1,693.9 L995.7,695.3 L996.2,696.0 L996.8,697.3 L997.3,696.8 L997.9,699.3 L998.5,700.8 L999.0,699.6 L999.6,700.8 L1000.1,698.7 L1000.6,700.4 L1001.0,702.4 L1001.3,702.7 L1001.7,703.5 L1002.0,704.6 L1002.4,704.1 L1002.7,704.4 L1003.1,704.8 L1003.4,705.9 L1003.8,704.7 L1004.2,708.3 L1004.5,706.0 L1004.9,707.2 L1005.2,709.2 L1005.6,710.7 L1005.9,711.1 L1006.3,712.7 L1006.6,712.0 L1007.0,712.6 L1007.3,714.4 L1007.7,714.0 L1008.0,715.9 L1008.4,716.9 L1008.8,717.5 L1009.1,716.5 L1009.5,718.6 L1009.8,717.9 L1010.2,721.0 L1010.5,720.6 L1010.8,722.5 L1011.0,723.5 L1011.2,722.2 L1011.4,724.8 L1011.6,725.1 L1011.8,726.8 L1012.0,725.3 L1012.1,726.1 L1012.3,727.3 L1012.5,727.3 L1012.7,729.7 L1012.9,729.8 L1013.1,731.3 L1013.3,732.2 L1013.5,733.4 L1013.7,732.4 L1013.9,734.8 L1014.1,735.5 L1014.3,734.9 L1014.5,735.9 L1014.7,735.9 L1014.9,738.8 L1015.0,739.7 L1015.2,738.8 L1015.4,740.2 L1015.6,741.5 L1015.8,742.6 L1016.0,742.8 L1016.2,745.0 L1016.4,743.8 L1016.5,746.1 L1016.7,746.3 L1016.9,747.2 L1017.1,747.2 L1017.3,747.3 L1017.4,749.1 L1017.6,750.8 L1017.8,750.7 L1018.0,751.0 L1018.2,753.2 L1018.4,754.3 L1018.5,754.4 L1018.7,756.0 L1018.9,757.3 L1019.1,757.9 L1019.3,759.2 L1019.4,760.0 L1019.6,759.7 L1019.8,759.6 L1020.0,759.4 L1020.2,762.2 L1020.4,762.2 L1020.5,763.3 L1020.8,762.4 L1021.0,763.7 L1021.3,763.6 L1021.6,764.2 L1021.8,764.4 L1022.1,766.1 L1022.4,767.4 L1022.6,768.4 L1022.9,768.7 L1023.1,769.1 L1023.4,771.7 L1023.7,772.2 L1023.9,772.5 L1024.2,772.6 L1024.5,774.2 L1024.7,773.3 L1025.0,773.6 L1025.3,775.7 L1025.5,776.0 L1025.8,777.3 L1026.0,776.5 L1026.3,778.0 L1026.6,777.7 L1026.8,779.0 L1027.1,780.5 L1027.4,781.0 L1027.6,781.3 L1027.9,781.8 L1028.4,783.6 L1028.8,784.0 L1029.2,784.5 L1029.6,786.6 L1030.0,786.6 L1030.4,789.1 L1030.8,790.4 L1031.2,790.3 L1031.6,792.2 L1032.0,789.6 L1032.4,789.8 L1032.8,791.5 L1033.2,790.8 L1033.6,792.8 L1034.0,793.9 L1034.4,794.3 L1034.8,795.0 L1035.2,794.6 L1035.6,795.3 L1036.1,796.2 L1036.5,796.6 L1036.9,798.1 L1037.3,797.8 L1037.7,798.9 L1038.1,799.2 L1038.6,801.3 L1039.0,801.5 L1039.4,802.3 L1039.8,802.6 L1040.2,802.4 L1040.6,804.3 L1041.0,803.7 L1041.5,806.2 L1041.9,806.0 L1042.3,808.7 L1042.7,807.9 L1043.1,809.0 L1043.5,809.3 L1044.0,809.5 L1044.4,809.8 L1044.8,809.6 L1045.2,811.7 L1045.6,811.2 L1046.0,814.3 L1046.4,813.0 L1046.8,814.2 L1047.2,815.3 L1047.6,815.8 L1048.0,817.5 L1048.4,817.1 L1048.8,817.3 L1049.2,818.2 L1049.6,820.1 L1050.0,820.1 L1050.4,818.6 L1050.8,820.7 L1051.2,820.9 L1051.6,822.4 L1052.0,823.6 L1052.4,823.9 L1052.8,825.2 L1053.2,826.8 L1053.5,824.8 L1053.9,826.9 L1054.3,827.6 L1054.7,828.6 L1055.1,828.9 L1055.5,830.2 L1055.9,830.0 L1056.3,830.9 L1056.7,830.0 L1057.1,832.0 L1057.5,831.5 L1057.9,833.5 L1058.3,835.1 L1058.6,834.3 L1059.0,835.4 L1059.3,836.4 L1059.7,837.6 L1060.1,837.9 L1060.4,839.0 L1060.8,838.3 L1061.1,839.5 L1061.5,839.2 L1061.9,842.9 L1062.2,841.0 L1062.6,843.5 L1062.9,843.7 L1063.3,844.4 L1063.7,844.2 L1064.0,845.9 L1064.4,846.7 L1064.7,847.8 L1065.1,848.0 L1065.4,849.2 L1065.8,849.1 L1066.2,851.6 L1066.5,850.9 L1066.9,855.1 L1067.2,852.8 L1067.6,853.3 L1068.0,854.7 L1068.3,855.3 L1068.6,857.1 L1068.8,858.1 L1069.1,857.6 L1069.3,858.5 L1069.6,859.4 L1069.8,861.3 L1070.1,862.7 L1070.3,863.5 L1070.6,863.8 L1070.8,864.9 L1071.1,866.2 L1071.3,867.5 L1071.6,867.2 L1071.8,868.9 L1072.1,868.3 L1072.3,869.4 L1072.6,870.7 L1072.8,869.7 L1073.1,869.6 L1073.3,870.7 L1073.6,872.1 L1073.8,872.1 L1074.1,873.5 L1074.3,875.4 L1074.6,874.8 L1074.8,876.8 L1075.1,877.2 L1075.3,876.4 L1075.5,878.8 L1075.7,879.5 L1075.9,880.3 L1076.1,880.5 L1076.3,881.3 L1076.6,881.4 L1076.8,881.9 L1077.0,883.3 L1077.2,884.7 L1077.4,884.3 L1077.6,886.8 L1077.8,885.9 L1078.0,887.2 L1078.2,886.6 L1078.4,889.6 L1078.7,889.6 L1078.9,890.8 L1079.1,889.5 L1079.3,892.3 L1079.5,892.4 L1079.7,892.3 L1079.9,893.3 L1080.1,893.3 L1080.3,895.2 L1080.5,896.9 L1080.8,896.4 L1081.0,898.2 L1081.2,897.7 L1081.4,897.3 L1081.7,900.0 L1081.9,902.1 L1082.1,902.6 L1082.3,901.8 L1082.6,904.0 L1082.8,904.6 L1083.0,904.8 L1083.3,904.9 L1083.5,906.7 L1083.7,906.6 L1083.9,907.1 L1084.2,909.0 L1084.4,908.3 L1084.6,910.2 L1084.8,911.5 L1085.1,910.5 L1085.3,911.9 L1085.5,912.9 L1085.8,911.7 L1086.0,913.4 L1086.2,914.1 L1086.4,914.8 L1086.7,915.3 L1086.9,917.8 L1087.1,916.8 L1087.4,918.3 L1087.6,919.7 L1087.8,921.4 L1088.0,919.7 L1088.3,920.8 L1088.5,921.9 L1088.7,923.4 L1089.0,925.2 L1089.2,925.2 L1089.4,926.2 L1089.7,928.1 L1089.9,927.4 L1090.1,928.6 L1090.4,930.8 L1090.6,930.6 L1090.8,930.3 L1091.0,931.0 L1091.3,933.2 L1091.5,932.1 L1091.7,933.0 L1092.0,935.1 L1092.2,936.2 L1092.4,937.1 L1092.7,935.7 L1092.9,937.5 L1093.2,935.1 L1093.5,937.7 L1093.8,941.4 L1094.1,940.9 L1094.4,940.8 L1094.8,940.1 L1095.1,940.4 L1095.4,942.9 L1095.7,942.4 L1096.0,942.4 L1096.3,944.2 L1096.7,944.8 L1097.0,944.4 L1097.3,945.3 L1097.6,948.2 L1097.9,946.5 L1098.3,949.0 L1098.6,948.5 L1098.9,949.3 L1099.2,950.1 L1099.5,951.7 L1099.9,952.6 L1100.2,954.1 L1100.5,953.7 L1100.8,955.4 L1101.1,955.4 L1101.4,956.0 L1101.8,957.8 L1102.1,958.4 L1102.4,957.6 L1102.7,959.7 L1103.0,958.8 L1103.3,960.1 L1103.6,962.9 L1103.9,963.4 L1104.2,962.9 L1104.5,964.2 L1104.9,965.5 L1105.2,966.7 L1105.5,967.5 L1105.8,966.4 L1106.1,967.8 L1106.4,968.9 L1106.7,967.7 L1107.0,970.0 L1107.3,971.7 L1107.6,972.1 L1107.9,972.5 L1108.2,972.8 L1108.5,974.0 L1108.9,975.1 L1109.2,975.5 L1109.5,977.3 L1109.8,977.7 L1110.1,976.7 L1110.4,979.2 L1110.7,979.3 L1111.0,980.6 L1111.3,980.3 L1111.6,982.4 L1111.9,981.9 L1112.2,984.1 L1112.5,984.0 L1112.8,984.6 L1113.1,984.4 L1113.4,984.9 L1113.7,987.5 L1114.0,986.5 L1114.3,987.1 L1114.6,988.9 L1114.9,989.3 L1115.2,990.4 L1115.5,989.6 L1115.8,989.7 L1116.1,991.4 L1116.4,993.8 L1116.7,993.7 L1117.0,994.9 L1117.3,995.8 L1117.6,996.4 L1117.9,997.2 L1118.2,997.7 L1118.5,998.8 L1118.8,999.6 L1119.1,999.5 L1119.4,1001.2 L1119.7,1001.3 L1120.0,1001.9 L1120.3,1002.4 L1120.6,1003.8 L1120.9,1003.6 L1121.2,1005.2 L1121.5,1004.1 L1121.9,1006.0 L1122.3,1005.0 L1122.6,1007.1 L1123.0,1007.4 L1123.3,1008.3 L1123.7,1008.7 L1124.0,1010.4 L1124.4,1011.7 L1124.8,1010.6 L1125.1,1012.7 L1125.5,1013.6 L1125.8,1014.5 L1126.2,1014.9 L1126.5,1014.2 L1126.9,1016.4 L1127.3,1015.4 L1127.6,1017.0 L1128.0,1017.4 L1128.3,1017.4 L1128.7,1017.9 L1129.1,1019.2 L1129.4,1021.4 L1129.8,1021.7 L1130.1,1021.7 L1130.3,1023.8 L1130.6,1025.5 L1130.8,1026.9 L1131.1,1024.7 L1131.4,1027.6 L1131.6,1028.5 L1131.9,1027.9 L1132.1,1027.8 L1132.4,1031.1 L1132.6,1030.4 L1132.9,1030.2 L1133.1,1031.3 L1133.4,1033.5 L1133.6,1035.3 L1133.9,1035.0 L1134.1,1034.2 L1134.4,1036.5 L1134.6,1034.6 L1134.9,1037.5 L1135.1,1038.1 L1135.4,1039.4 L1135.7,1039.4 L1135.9,1040.3 L1136.2,1040.2 L1136.4,1040.6 L1136.7,1041.6 L1136.9,1044.0 L1137.2,1042.8 L1137.4,1044.1 L1137.7,1044.6 L1138.0,1046.4 L1138.4,1047.1 L1138.7,1049.1 L1139.0,1050.0 L1139.3,1050.0 L1139.6,1050.5 L1139.9,1050.3 L1140.2,1049.9 L1140.6,1051.9 L1140.9,1052.4 L1141.2,1052.1 L1141.5,1053.9 L1141.8,1055.2 L1142.1,1054.4 L1142.4,1056.6 L1142.8,1057.0 L1143.1,1057.0 L1143.4,1058.3 L1143.7,1059.6 L1144.0,1059.6 L1144.3,1060.5 L1144.7,1062.3 L1145.0,1062.4 L1145.5,1063.0 L1146.0,1062.8 L1146.5,1064.4 L1147.0,1065.6 L1147.5,1064.4 L1148.0,1064.5 L1148.5,1065.9 L1148.9,1067.3 L1149.4,1067.4 L1149.9,1067.7 L1150.4,1071.2 L1150.9,1070.3 L1151.4,1070.7 L1151.9,1069.7 L1152.4,1073.3 L1152.9,1071.8 L1153.4,1074.5 L1153.9,1074.3 L1154.4,1074.3 L1154.9,1074.2 L1155.5,1075.4 L1156.1,1074.4 L1156.6,1075.4 L1157.2,1075.0 L1157.8,1075.6 L1158.3,1077.6 L1158.9,1077.8 L1159.5,1076.8 L1160.0,1077.6 L1160.6,1079.0 L1161.2,1079.7 L1161.7,1080.9 L1162.3,1080.9 L1162.9,1081.1 L1163.4,1083.2 L1164.0,1083.0 L1164.6,1084.2 L1165.1,1083.5 L1165.7,1085.9 L1166.3,1085.4 L1166.8,1085.8 L1167.4,1086.4 L1168.0,1085.3 L1168.5,1087.6 L1169.1,1087.1 L1169.6,1087.1 L1170.2,1088.8 L1170.8,1090.4 L1171.3,1089.0 L1171.9,1091.4 L1172.5,1089.0 L1173.0,1091.7 L1173.6,1091.7 L1174.2,1093.1 L1174.7,1095.4 L1175.3,1095.0 L1175.9,1094.0 L1176.4,1097.2 L1177.0,1095.9 L1177.6,1097.1 L1178.0,1097.7 L1178.4,1099.4 L1178.9,1100.0 L1179.3,1102.3 L1179.8,1102.1 L1180.2,1103.2 L1180.7,1103.3 L1181.1,1105.1 L1181.5,1104.0 L1182.0,1104.3 L1182.4,1106.7 L1182.9,1107.1 L1183.3,1106.9 L1183.8,1109.1 L1184.2,1106.9 L1184.7,1109.1 L1185.1,1109.5 L1185.5,1107.7 L1186.0,1109.7 L1186.4,1110.4 L1186.9,1110.4 L1187.3,1111.1 L1187.7,1112.0 L1188.0,1112.3 L1188.3,1112.8 L1188.6,1115.5 L1188.9,1115.9 L1189.3,1116.7 L1189.6,1117.9 L1189.9,1117.5 L1190.2,1118.4 L1190.5,1120.2 L1190.8,1120.1 L1191.2,1121.1 L1191.5,1122.1 L1191.8,1123.2 L1192.1,1121.6 L1192.4,1122.4 L1192.7,1122.4 L1193.0,1123.6 L1193.4,1125.3 L1193.7,1125.2 L1194.0,1128.1 L1194.3,1126.7 L1194.6,1126.4 L1194.9,1127.9 L1195.2,1131.1 L1195.4,1129.5 L1195.6,1131.0 L1195.8,1131.2 L1196.1,1131.9 L1196.3,1134.5 L1196.5,1133.5 L1196.7,1133.9 L1196.9,1135.6 L1197.2,1136.5 L1197.4,1138.2 L1197.6,1138.8 L1197.8,1140.5 L1198.0,1140.1 L1198.2,1141.4 L1198.5,1142.2 L1198.7,1143.3 L1198.9,1142.2 L1199.1,1143.6 L1199.3,1142.3 L1199.6,1144.6 L1199.8,1144.9 L1200.0,1145.8 L1200.7,1148.1 L1201.3,1148.0 L1201.9,1146.3 L1202.6,1149.3 L1203.2,1149.3 L1203.9,1148.8 L1204.5,1149.0 L1205.1,1149.4 L1205.8,1150.0 L1206.4,1151.0 L1207.1,1150.8 L1207.7,1152.3 L1208.3,1151.8 L1209.0,1152.0 L1209.6,1153.0 L1210.3,1154.0 L1210.9,1154.6 L1211.5,1154.8 L1212.1,1154.2 L1212.8,1154.9 L1213.4,1155.3 L1214.0,1157.1 L1214.6,1158.5 L1215.3,1158.7 L1215.9,1159.3 L1216.5,1159.6 L1217.1,1160.4 L1217.8,1160.8 L1218.4,1162.9 L1219.0,1161.6 L1219.6,1162.5 L1220.3,1164.3 L1220.9,1164.2 L1221.5,1165.6 L1222.1,1165.4 L1222.7,1166.7 L1223.2,1167.2 L1223.7,1166.7 L1224.2,1168.7 L1224.8,1169.8 L1225.3,1168.7 L1225.8,1169.5 L1226.3,1170.5 L1226.8,1171.6 L1227.3,1171.0 L1227.8,1172.9 L1228.3,1171.1 L1228.9,1173.5 L1229.4,1171.9 L1229.9,1173.1 L1230.4,1173.0 L1230.9,1175.3 L1231.4,1175.7 L1231.9,1174.6 L1232.4,1174.7 L1232.9,1179.3 L1233.5,1178.0 L1234.0,1177.6 L1234.5,1178.9 L1235.0,1179.9 L1235.6,1182.1 L1236.1,1181.8 L1236.7,1182.1 L1237.3,1181.8 L1237.8,1183.7 L1238.4,1182.3 L1239.0,1185.2 L1239.5,1185.6 L1240.1,1185.0 L1240.7,1184.7 L1241.2,1185.9 L1241.8,1186.7 L1242.3,1188.9 L1242.9,1189.2 L1243.5,1187.8 L1244.0,1188.2 L1244.6,1188.2 L1245.2,1190.1 L1245.7,1189.9 L1246.3,1191.5 L1246.9,1191.5 L1247.4,1191.6 L1248.1,1191.7 L1248.7,1191.7 L1249.3,1194.0 L1249.9,1193.0 L1250.6,1195.2 L1251.2,1193.9 L1251.8,1193.7 L1252.4,1196.3 L1253.1,1196.4 L1253.7,1198.1 L1254.3,1197.9 L1254.9,1198.4 L1255.6,1199.6 L1256.2,1198.9 L1256.8,1200.5 L1257.4,1202.4 L1258.1,1201.2 L1258.7,1200.8 L1259.3,1202.0 L1259.9,1201.9 L1260.6,1202.9 L1261.2,1205.0 L1261.8,1203.5 L1262.4,1203.9 L1263.1,1205.9 L1263.7,1205.7 L1264.3,1206.5 L1264.9,1206.7 L1265.6,1207.9 L1266.2,1209.4 L1266.8,1209.2 L1267.4,1208.8 L1268.0,1209.3 L1268.7,1209.2 L1269.3,1209.6 L1269.9,1211.5 L1270.5,1211.6 L1271.2,1212.0 L1271.8,1212.6 L1272.4,1212.3 L1273.1,1213.3 L1273.8,1214.3 L1274.5,1215.7 L1275.2,1215.2 L1275.8,1215.6 L1276.5,1215.4 L1277.2,1217.3 L1277.9,1216.8 L1278.6,1217.6 L1279.3,1218.2 L1280.0,1217.7 L1280.6,1218.9 L1281.3,1219.9 L1282.0,1218.7 L1282.7,1219.3 L1283.4,1219.3 L1284.1,1220.3 L1284.8,1222.2 L1285.4,1221.1 L1286.1,1222.2 L1286.8,1221.8 L1287.4,1221.7 L1288.1,1222.5 L1288.8,1223.1 L1289.4,1223.2 L1290.1,1223.7 L1290.8,1224.2 L1291.4,1224.0 L1292.1,1226.0 L1292.8,1225.5 L1293.4,1225.3 L1294.1,1225.2 L1294.8,1226.3 L1295.4,1225.7 L1296.1,1225.7 L1296.8,1226.8 L1297.4,1228.6 L1298.1,1227.9 L1298.7,1228.7 L1299.4,1228.4 L1300.1,1230.1 L1300.7,1229.8 L1301.3,1230.3 L1301.9,1230.7 L1302.6,1231.7 L1303.2,1231.4 L1303.8,1232.3 L1304.4,1232.8 L1305.1,1232.6 L1305.7,1232.2 L1306.3,1234.4 L1306.9,1233.4 L1307.6,1233.3 L1308.2,1235.2 L1308.8,1235.6 L1309.4,1237.0 L1310.1,1237.6 L1310.7,1235.4 L1311.3,1237.2 L1311.9,1238.5 L1312.6,1237.8 L1313.3,1240.1 L1314.1,1239.9 L1314.9,1239.5 L1315.6,1240.0 L1316.4,1241.1 L1317.1,1242.9 L1317.9,1243.1 L1318.7,1240.7 L1319.4,1242.6 L1320.2,1241.3 L1320.9,1242.6 L1321.7,1242.1 L1322.4,1242.9 L1323.2,1243.0 L1324.0,1243.9 L1324.7,1243.2 L1325.5,1244.7 L1326.2,1244.3 L1327.0,1244.0 L1327.8,1246.2 L1328.5,1245.7 L1329.3,1245.6 L1330.0,1246.1 L1330.8,1246.9 L1331.6,1246.5 L1332.3,1246.5 L1333.1,1247.1 L1333.8,1247.0 L1334.6,1247.3 L1335.4,1249.2 L1336.1,1248.8 L1336.9,1249.4 L1337.6,1248.1 L1338.4,1247.3 L1339.1,1248.6 L1339.9,1249.6 L1340.7,1249.1 L1341.4,1249.9 L1342.2,1249.4 L1343.0,1251.0 L1343.7,1250.7 L1344.5,1251.6 L1345.3,1252.6 L1346.1,1252.0 L1346.8,1252.1 L1347.6,1252.7 L1348.4,1254.2 L1349.2,1253.7 L1349.9,1254.9 L1350.7,1254.6 L1351.5,1255.1 L1352.3,1254.3 L1353.0,1255.0 L1353.8,1254.5 L1354.6,1252.2 L1355.4,1254.7 L1356.1,1254.1 L1356.9,1252.9 L1357.7,1252.3 L1358.5,1251.8 L1359.2,1253.4 L1360.0,1252.8 L1360.8,1252.7 L1361.6,1253.1 L1362.4,1252.8 L1363.1,1255.2 L1363.9,1254.0 L1364.7,1254.9 L1365.5,1255.2 L1366.2,1255.6 L1367.0,1255.3 L1367.8,1256.3 L1368.6,1255.3 L1369.3,1257.6 L1370.1,1254.9 L1370.9,1256.9 L1371.7,1258.4 L1372.4,1256.1 L1373.1,1258.5 L1373.8,1259.5 L1374.4,1258.0 L1375.1,1260.0 L1375.8,1258.7 L1376.4,1259.8 L1377.1,1259.7 L1377.8,1259.4 L1378.4,1259.7 L1379.1,1260.4 L1379.8,1260.0 L1380.5,1261.3 L1381.2,1260.9 L1381.9,1261.3 L1382.6,1260.5 L1383.3,1259.9 L1384.1,1259.5 L1384.8,1261.6 L1385.5,1258.1 L1386.2,1258.1 L1386.9,1260.6 L1387.6,1259.4 L1388.3,1258.3 L1389.1,1258.1 L1389.8,1258.0 L1390.5,1255.6 L1391.2,1256.0 L1391.9,1256.4 L1392.7,1255.9 L1393.4,1256.1 L1394.2,1255.3 L1395.0,1254.7 L1395.8,1254.3 L1396.6,1255.2 L1397.4,1254.5 L1398.2,1254.8 L1399.0,1255.4 L1399.8,1255.1 L1400.6,1253.0 L1401.4,1254.7 L1402.2,1252.9 L1402.8,1252.6 L1403.4,1256.1 L1404.0,1255.1 L1404.5,1254.9 L1405.1,1255.5 L1405.7,1257.0 L1406.2,1258.4 L1406.8,1258.4 L1407.4,1257.8 L1407.9,1257.6 L1408.5,1259.0 L1409.1,1260.6 L1409.6,1260.9 L1410.2,1260.1 L1410.8,1262.0 L1411.3,1263.1 L1411.9,1262.6 L1412.5,1264.9 L1413.2,1265.8 L1413.9,1265.8 L1414.7,1264.9 L1415.4,1265.7 L1416.2,1266.3 L1416.9,1266.4 L1417.7,1267.6 L1418.4,1267.2 L1419.2,1267.3 L1419.9,1267.6 L1420.7,1267.1 L1421.4,1266.4 L1422.2,1267.6 L1422.9,1267.0 L1423.6,1267.4 L1424.3,1266.7 L1425.1,1266.0 L1425.8,1266.9 L1426.5,1265.9 L1427.2,1264.8 L1427.9,1267.0 L1428.6,1266.7 L1429.3,1265.7 L1430.1,1264.4 L1430.8,1264.7 L1431.5,1266.1 L1432.2,1265.0 L1432.9,1264.5 L1433.6,1264.8 L1434.4,1263.6 L1435.1,1263.3 L1435.8,1264.2 L1436.5,1263.2 L1437.2,1262.9 L1438.0,1262.7 L1438.7,1263.1 L1439.5,1263.0 L1440.3,1261.9 L1441.1,1262.4 L1441.9,1264.0 L1442.6,1263.0 L1443.4,1264.4 L1444.2,1262.9 L1445.0,1262.3 L1445.8,1263.3 L1446.6,1262.7 L1447.4,1262.5 L1448.2,1262.3 L1448.9,1261.2 L1449.7,1263.2 L1450.5,1262.5 L1451.3,1261.8 L1452.1,1261.1 L1452.9,1262.8 L1453.7,1262.2 L1454.5,1262.6 L1455.3,1262.2 L1456.1,1262.4 L1456.9,1261.7 L1457.7,1260.4 L1458.5,1261.6 L1459.3,1262.1 L1460.0,1260.2 L1460.8,1261.0 L1461.6,1262.6 L1462.4,1260.6 L1463.2,1262.7 L1464.0,1261.0 L1464.8,1260.5 L1465.6,1261.5 L1466.4,1261.6 L1467.2,1262.9 L1468.0,1260.6 L1468.8,1261.6 L1469.6,1261.7 L1470.4,1261.6 L1471.2,1262.6 L1472.0,1262.1 L1472.8,1262.6 L1473.6,1262.5 L1474.4,1263.7 L1475.1,1262.3 L1475.7,1262.4 L1476.3,1262.7 L1476.9,1262.0 L1477.5,1261.2 L1478.1,1261.4 L1478.7,1260.7 L1479.3,1260.3 L1479.9,1259.5 L1480.5,1259.7 L1481.1,1259.2 L1481.7,1257.2 L1482.3,1257.5 L1482.9,1256.7 L1483.5,1256.1 L1484.0,1254.3 L1484.6,1253.2 L1485.2,1253.2 L1485.8,1253.6 L1486.4,1251.3 L1487.0,1252.3 L1487.6,1251.0 L1488.2,1250.5 L1488.8,1250.0 L1489.4,1249.1 L1490.0,1248.6 L1490.8,1249.4 L1491.6,1250.2 L1492.3,1249.2 L1493.1,1249.4 L1493.9,1248.5 L1494.7,1249.0 L1495.5,1249.9 L1496.3,1250.0 L1497.1,1248.9 L1497.8,1249.1 L1498.6,1248.9 L1499.4,1248.7 L1500.2,1249.9 L1501.0,1249.4 L1501.8,1251.2 L1502.5,1248.6 L1503.3,1249.2 L1504.1,1249.9 L1504.9,1251.2 L1505.5,1250.8 L1506.2,1250.0 L1506.8,1247.7 L1507.4,1250.0 L1508.0,1248.2 L1508.7,1250.2 L1509.3,1248.8 L1509.9,1247.7 L1510.5,1247.7 L1511.2,1248.8 L1511.8,1246.8 L1512.4,1245.8 L1513.0,1244.2 L1513.7,1245.6 L1514.3,1244.7 L1514.9,1245.6 L1515.5,1244.2 L1516.0,1244.2 L1516.6,1242.3 L1517.1,1241.3 L1517.6,1242.1 L1518.2,1240.5 L1518.7,1239.4 L1519.3,1239.3 L1519.8,1239.5 L1520.4,1237.6 L1520.9,1239.0 L1521.4,1237.3 L1522.0,1235.3 L1522.5,1234.8 L1523.1,1235.1 L1523.6,1234.3 L1524.2,1233.7 L1524.7,1233.3 L1525.3,1233.1 L1525.8,1232.2 L1526.3,1231.4 L1526.9,1229.8 L1527.4,1232.0 L1528.1,1230.5 L1528.9,1230.6 L1529.7,1230.0 L1530.4,1230.7 L1531.2,1229.4 L1531.9,1230.2 L1532.7,1228.5 L1533.4,1228.5 L1534.2,1228.8 L1534.9,1228.5 L1535.7,1228.6 L1536.4,1226.8 L1537.2,1227.2 L1537.9,1225.9 L1538.7,1224.7 L1539.4,1226.1 L1540.2,1224.9 L1540.9,1223.7 L1541.7,1223.5 L1542.4,1224.1 L1543.2,1223.5 L1544.0,1223.3 L1544.8,1223.8 L1545.6,1223.2 L1546.4,1221.8 L1547.2,1223.8 L1548.0,1222.8 L1548.8,1222.9 L1549.6,1221.4 L1550.4,1220.8 L1551.2,1223.5 L1552.0,1223.2 L1552.8,1223.7 L1553.6,1224.0 L1554.4,1224.6 L1555.2,1225.0 L1556.0,1225.0 L1556.8,1223.4 L1557.6,1223.6 L1558.3,1224.2 L1559.1,1225.1 L1559.9,1224.8 L1560.6,1223.3 L1561.4,1222.6 L1562.1,1223.6 L1562.9,1223.0 L1563.6,1223.4 L1564.4,1223.3 L1565.2,1222.6 L1565.9,1221.4 L1566.7,1220.8 L1567.4,1221.3 L1568.2,1221.5 L1569.0,1220.7 L1569.7,1221.0 L1570.5,1219.7 L1571.2,1220.5 L1572.0,1219.6 L1572.7,1218.6 L1573.3,1217.7 L1574.0,1217.6 L1574.6,1217.3 L1575.2,1218.0 L1575.8,1216.4 L1576.5,1216.5 L1577.1,1214.0 L1577.7,1216.1 L1578.3,1214.9 L1579.0,1213.9 L1579.6,1212.5 L1580.2,1213.2 L1580.8,1214.6 L1581.5,1213.4 L1582.1,1212.8 L1582.7,1211.2 L1583.3,1211.4 L1584.0,1210.7 L1584.6,1209.8 L1585.2,1208.5 L1586.0,1209.0 L1586.7,1209.5 L1587.4,1212.4 L1588.1,1208.7 L1588.8,1211.9 L1589.6,1212.0 L1590.3,1211.4 L1591.0,1212.2 L1591.7,1212.1 L1592.4,1212.6 L1593.2,1212.0 L1593.9,1211.3 L1594.6,1215.3 L1595.3,1214.9 L1596.0,1212.8 L1596.7,1215.2 L1597.5,1214.3 L1598.2,1215.4 L1598.9,1214.6 L1599.6,1215.0 L1600.3,1217.7 L1601.1,1216.2 L1601.8,1216.9 L1602.5,1217.9 L1603.2,1218.3 L1604.0,1216.4 L1604.7,1217.0 L1605.5,1216.7 L1606.2,1215.3 L1607.0,1214.9 L1607.7,1215.4 L1608.4,1214.4 L1609.2,1215.3 L1609.9,1212.1 L1610.7,1213.5 L1611.4,1212.5 L1612.2,1211.1 L1612.9,1211.6 L1613.6,1210.1 L1614.4,1210.6 L1615.1,1211.3 L1615.8,1209.5 L1616.6,1210.2 L1617.3,1209.6 L1618.0,1208.7 L1618.7,1208.7 L1619.4,1208.9 L1620.1,1208.9 L1620.9,1208.2 L1621.6,1208.4 L1622.3,1209.1 L1623.0,1207.7 L1623.7,1207.4 L1624.4,1208.5 L1625.1,1208.5 L1625.8,1206.8 L1626.5,1209.1 L1627.2,1210.5 L1627.9,1210.4 L1628.6,1209.8 L1629.3,1210.7 L1629.9,1209.5 L1630.6,1211.6 L1631.3,1211.8 L1632.0,1212.6 L1632.7,1212.2 L1633.4,1213.3 L1634.1,1212.9 L1634.7,1214.5 L1635.4,1214.5 L1636.1,1213.2 L1636.8,1213.7 L1637.5,1215.9 L1638.3,1216.3 L1639.1,1216.7 L1639.9,1215.3 L1640.7,1215.9 L1641.4,1215.4 L1642.2,1215.1 L1643.0,1215.4 L1643.8,1216.5 L1644.6,1215.1 L1645.4,1216.9 L1646.2,1214.4 L1647.0,1215.2 L1647.8,1216.0 L1648.6,1216.1 L1649.4,1215.9 L1650.2,1214.7 L1650.9,1216.0 L1651.7,1217.6 L1652.5,1217.3 L1653.3,1217.5 L1654.1,1217.8 L1654.9,1217.8 L1655.7,1218.3 L1656.4,1218.3 L1657.2,1220.3 L1657.9,1219.9 L1658.7,1220.1 L1659.5,1220.1 L1660.2,1219.9 L1661.0,1219.0 L1661.7,1220.2 L1662.5,1219.7 L1663.3,1219.9 L1664.0,1220.7 L1664.8,1221.8 L1665.5,1220.2 L1666.3,1221.4 L1667.1,1223.0 L1667.8,1221.1 L1668.6,1222.9 L1669.3,1222.6 L1670.1,1223.9 L1670.9,1224.8 L1671.7,1223.7 L1672.5,1224.8 L1673.3,1224.4 L1674.0,1225.9 L1674.8,1221.9 L1675.6,1224.1 L1676.4,1224.8 L1677.2,1225.1 L1678.0,1226.5 L1678.8,1226.2 L1679.6,1225.0 L1680.4,1224.3 L1681.1,1226.4 L1681.9,1225.8 L1682.7,1225.5 L1683.5,1226.5 L1684.3,1227.4 L1685.1,1226.4 L1685.9,1227.5 L1686.7,1225.1 L1687.5,1227.4 L1688.2,1228.8 L1689.0,1228.1 L1689.8,1226.8 L1690.6,1226.5 L1691.4,1227.8 L1692.2,1226.9 L1693.0,1227.3 L1693.8,1226.3 L1694.6,1227.0 L1695.3,1228.3 L1696.1,1227.2 L1696.9,1227.2 L1697.7,1226.9 L1698.5,1227.9 L1699.3,1228.4 L1700.1,1228.3 L1700.7,1226.5 L1701.3,1229.3 L1701.9,1229.1 L1702.5,1230.2 L1703.1,1230.0 L1703.8,1232.2 L1704.4,1233.3 L1705.0,1233.0 L1705.6,1234.1 L1706.2,1233.3 L1706.8,1233.4 L1707.4,1232.4 L1708.1,1234.0 L1708.7,1234.7 L1709.3,1236.8 L1709.9,1235.3 L1710.5,1236.6 L1711.1,1237.5 L1711.7,1237.5 L1712.4,1237.9 L1713.0,1239.2 L1713.6,1238.0 L1714.2,1239.2 L1714.8,1239.8 L1715.5,1241.1 L1716.3,1241.2 L1717.0,1240.8 L1717.8,1241.2 L1718.6,1239.1 L1719.3,1241.3 L1720.1,1240.8 L1720.8,1240.2 L1721.6,1242.2 L1722.4,1241.6 L1723.1,1241.6 L1723.9,1241.0 L1724.6,1242.9 L1725.4,1244.1 L1726.2,1243.5 L1726.9,1244.4 L1727.7,1244.9 L1728.4,1244.4 L1729.2,1244.4 L1729.9,1244.5 L1730.7,1244.7 L1731.5,1244.5 L1732.3,1245.1 L1733.1,1244.7 L1733.9,1246.0 L1734.7,1244.5 L1735.5,1246.6 L1736.3,1245.1 L1737.1,1245.2 L1737.9,1246.2 L1738.7,1245.1 L1739.5,1244.2 L1740.3,1246.3 L1741.1,1246.7 L1741.9,1243.9 L1742.7,1245.7 L1743.5,1244.6 L1744.3,1244.6 L1745.1,1245.9 L1745.9,1243.6 L1746.7,1244.3 L1747.4,1245.8 L1748.2,1245.2 L1748.9,1245.6 L1749.7,1244.9 L1750.5,1245.2 L1751.2,1245.6 L1752.0,1246.7 L1752.8,1246.6 L1753.5,1247.7 L1754.3,1249.8 L1755.0,1246.7 L1755.8,1248.7 L1756.6,1248.7 L1757.3,1248.3 L1757.9,1249.8 L1758.5,1249.5 L1759.1,1249.8 L1759.7,1251.4 L1760.3,1253.3 L1760.8,1252.4 L1761.4,1253.5 L1762.0,1253.2 L1762.6,1253.7 L1763.1,1253.7 L1763.7,1255.4 L1764.3,1256.3 L1764.9,1255.1 L1765.5,1255.5 L1766.0,1258.0 L1766.6,1257.6 L1767.2,1257.4 L1767.8,1259.7 L1768.3,1259.5 L1768.9,1259.8 L1769.5,1260.6 L1770.1,1260.5 L1770.8,1263.5 L1771.5,1259.8 L1772.2,1261.3 L1772.9,1262.4 L1773.6,1262.5 L1774.3,1261.5 L1775.1,1262.5 L1775.8,1263.0 L1776.5,1264.5 L1777.2,1265.1 L1777.9,1265.5 L1778.6,1264.7 L1779.3,1266.0 L1780.0,1265.8 L1780.7,1265.6 L1781.4,1265.9 L1782.1,1267.2 L1782.9,1267.2 L1783.7,1266.9 L1784.4,1266.9 L1785.2,1267.3 L1786.0,1269.5 L1786.7,1268.6 L1787.5,1269.3 L1788.3,1270.7 L1789.1,1271.1 L1789.8,1270.9 L1790.6,1270.8 L1791.4,1270.4 L1792.1,1271.2 L1792.8,1271.7 L1793.5,1272.4 L1794.2,1271.7 L1794.9,1273.2 L1795.7,1273.7 L1796.4,1273.4 L1797.1,1272.3 L1797.8,1272.1 L1798.5,1274.4 L1799.2,1272.7 L1799.9,1274.5 L1800.7,1276.8 L1801.4,1274.8 L1802.1,1274.1 L1802.8,1276.3 L1803.5,1275.6 L1804.2,1276.4 L1805.0,1275.5 L1805.7,1276.8 L1806.4,1278.7 L1807.2,1277.5 L1808.0,1277.3 L1808.8,1277.9 L1809.6,1278.2 L1810.4,1278.9 L1811.1,1278.8 L1811.9,1279.1 L1812.7,1277.4 L1813.5,1278.3 L1814.3,1277.1 L1815.1,1280.0 L1815.9,1278.4 L1816.7,1278.7 L1817.5,1280.5 L1818.1,1280.2 L1818.7,1279.7 L1819.4,1280.2 L1820.0,1280.6 L1820.7,1282.1 L1821.3,1284.4 L1821.9,1281.4 L1822.6,1284.2 L1823.2,1284.6 L1823.9,1283.7 L1824.5,1284.9 L1825.1,1285.3 L1825.8,1284.9 L1826.4,1285.4 L1827.1,1287.4 L1827.7,1286.9 L1828.3,1286.6 L1829.0,1286.5 L1829.8,1287.2 L1830.6,1287.4 L1831.4,1288.1 L1832.2,1288.8 L1833.0,1287.8 L1833.7,1287.2 L1834.5,1288.3 L1835.3,1288.3 L1836.1,1288.0 L1836.9,1289.2 L1837.6,1288.8 L1838.4,1289.4 L1839.2,1289.4 L1840.0,1290.1 L1840.8,1290.5 L1841.6,1289.5 L1842.3,1291.4 L1843.1,1291.0 L1843.9,1290.0 L1844.6,1291.3 L1845.4,1292.9 L1846.2,1293.4 L1846.9,1292.0 L1847.7,1293.1 L1848.5,1292.2 L1849.2,1293.9 L1850.0,1292.1 L1850.8,1292.8 L1851.6,1294.7 L1852.3,1295.0 L1853.1,1294.2 L1853.9,1295.2 L1854.6,1296.0 L1855.3,1294.8 L1856.0,1295.6 L1856.7,1294.6 L1857.3,1294.3 L1858.0,1296.9 L1858.7,1295.8 L1859.3,1295.5 L1860.0,1295.0 L1860.7,1297.2 L1861.4,1297.9 L1862.0,1298.9 L1862.7,1298.3 L1863.4,1299.9 L1864.0,1299.9 L1864.7,1299.8 L1865.4,1301.2 L1866.0,1301.4 L1866.8,1301.7 L1867.5,1302.3 L1868.3,1303.9 L1869.0,1303.5 L1869.8,1303.2 L1870.5,1303.9 L1871.3,1304.2 L1872.0,1304.5 L1872.8,1305.0 L1873.5,1304.5 L1874.3,1306.4 L1875.1,1304.7 L1875.8,1305.3 L1876.6,1305.0 L1877.3,1306.0 L1878.1,1306.1 L1878.8,1306.9 L1879.6,1305.8 L1880.3,1307.3 L1881.1,1306.0 L1881.9,1308.5 L1882.7,1307.2 L1883.4,1308.7 L1884.2,1309.1 L1885.0,1307.1 L1885.7,1309.7 L1886.5,1308.3 L1887.3,1306.6 L1888.0,1308.8 L1888.8,1309.0 L1889.6,1310.4 L1890.3,1307.8 L1891.1,1307.2 L1891.9,1309.9 L1892.6,1309.9 L1893.4,1309.9 L1894.1,1311.1 L1894.8,1312.9 L1895.6,1311.8 L1896.3,1313.0 L1897.0,1312.0 L1897.8,1311.8 L1898.5,1312.8 L1899.2,1314.9 L1900.0,1314.8 L1900.7,1314.5 L1901.4,1313.9 L1902.2,1314.7 L1902.9,1315.2 L1903.6,1313.8 L1904.4,1315.2 L1905.1,1317.3 L1905.8,1315.0 L1906.6,1316.7 L1907.3,1316.5 L1908.1,1316.8 L1908.9,1318.0 L1909.7,1316.6 L1910.5,1318.0 L1911.3,1317.5 L1912.1,1318.5 L1912.9,1317.0 L1913.7,1318.8 L1914.4,1318.0 L1915.2,1317.7 L1916.0,1317.7 L1916.8,1316.8 L1917.6,1319.3 L1918.4,1318.0 L1919.2,1319.6 L1920.0,1320.6 L1920.8,1317.3 L1921.6,1318.9 L1922.4,1318.0 L1923.2,1318.7 L1924.0,1318.9 L1924.8,1317.6 L1925.5,1319.5 L1926.3,1318.6 L1927.1,1320.2 L1927.9,1319.1 L1928.7,1319.5 L1929.5,1319.5 L1930.3,1322.0 L1931.1,1319.5 L1931.9,1318.1 L1932.7,1320.9 L1933.5,1320.2 L1934.3,1320.9 L1935.1,1321.1 L1935.8,1321.3 L1936.6,1320.1 L1937.4,1320.0 L1938.2,1320.4 L1939.0,1320.6 L1939.8,1318.3 L1940.5,1320.9 L1941.3,1318.5 L1942.1,1319.6 L1942.9,1320.4 L1943.7,1319.0 L1944.5,1319.0 L1945.2,1320.6 L1946.0,1320.4 L1946.8,1317.9 L1947.6,1318.8 L1948.4,1318.8 L1949.2,1319.4 L1950.0,1318.2 L1950.7,1318.3 L1951.5,1317.5 L1952.3,1317.4 L1953.1,1318.5 L1953.9,1316.6 L1954.6,1316.4 L1955.4,1315.0 L1956.1,1315.6 L1956.8,1315.6 L1957.6,1316.9 L1958.3,1317.1 L1959.0,1317.1 L1959.8,1318.6 L1960.5,1317.2 L1961.2,1319.0 L1962.0,1319.2 L1962.7,1319.1 L1963.5,1319.4 L1964.2,1320.2 L1964.9,1321.6 L1965.7,1322.2 L1966.4,1320.6 L1967.1,1322.4 L1967.8,1322.3 L1968.5,1324.1 L1969.1,1324.9 L1969.8,1325.1 L1970.5,1325.3 L1971.1,1325.9 L1971.8,1324.3 L1972.5,1326.5 L1973.1,1326.8 L1973.8,1326.8 L1974.5,1326.7 L1975.1,1326.8 L1975.8,1327.6 L1976.5,1328.3 L1977.1,1327.1 L1977.8,1329.7 L1978.5,1330.5 L1979.2,1332.1 L1979.9,1332.5 L1980.7,1332.0 L1981.4,1332.0 L1982.1,1332.4 L1982.9,1333.4 L1983.6,1333.9 L1984.3,1332.2 L1985.1,1334.4 L1985.8,1333.7 L1986.5,1334.4 L1987.3,1334.4 L1988.0,1335.3 L1988.7,1334.4 L1989.5,1335.5 L1990.2,1334.5 L1990.9,1336.7 L1991.7,1336.7 L1992.4,1335.8 L1993.2,1336.1 L1994.0,1335.7 L1994.8,1336.9 L1995.6,1336.8 L1996.4,1336.2 L1997.1,1336.5 L1997.9,1337.0 L1998.7,1336.3 L1999.5,1337.3 L2000.3,1337.6 L2001.0,1339.4 L2001.8,1338.0 L2002.6,1337.4 L2003.4,1339.2 L2004.2,1338.7 L2005.0,1338.4 L2005.7,1339.6 L2006.5,1338.7 L2007.3,1340.6 L2008.1,1340.2 L2008.9,1339.4 L2009.7,1339.6 L2010.4,1341.1 L2011.2,1339.1 L2012.0,1338.9 L2012.8,1339.6 L2013.6,1339.1 L2014.4,1338.6 L2015.2,1339.1 L2016.0,1336.8 L2016.8,1338.3 L2017.6,1339.2 L2018.4,1339.0 L2019.2,1337.1 L2020.0,1337.5 L2020.8,1338.0 L2021.6,1337.0 L2022.4,1337.5 L2023.1,1337.3 L2023.9,1335.5 L2024.7,1337.5 L2025.5,1336.9 L2026.3,1336.7 L2027.1,1336.6 L2027.9,1335.1 L2028.7,1336.7 L2029.5,1337.6 L2030.3,1337.8 L2031.1,1336.9 L2031.9,1336.6 L2032.7,1336.3 L2033.5,1337.6 L2034.3,1338.2 L2035.1,1336.5 L2035.9,1334.3 L2036.7,1336.6 L2037.5,1337.6 L2038.3,1335.2 L2039.1,1335.6 L2039.9,1335.0 L2040.7,1336.4 L2041.5,1338.0 L2042.3,1336.9 L2043.1,1335.0 L2043.8,1335.5 L2044.6,1337.1 L2045.3,1336.6 L2046.1,1335.7 L2046.8,1337.5 L2047.6,1336.7 L2048.3,1337.9 L2049.1,1338.2 L2049.9,1338.2 L2050.6,1337.3 L2051.4,1337.7 L2052.1,1338.4 L2052.9,1338.3 L2053.6,1339.9 L2054.4,1340.3 L2055.1,1339.8 L2055.9,1340.7 L2056.6,1341.6 L2057.3,1340.1 L2058.1,1340.9 L2058.8,1343.2 L2059.5,1342.0 L2060.3,1342.1 L2061.0,1343.0 L2061.8,1343.7 L2062.5,1342.6 L2063.2,1344.2 L2064.0,1345.4 L2064.7,1344.7 L2065.4,1345.1 L2066.2,1346.6 L2066.9,1345.6 L2067.6,1345.6 L2068.4,1346.8 L2069.2,1347.5 L2069.9,1346.5 L2070.7,1344.5 L2071.5,1345.8 L2072.3,1346.6 L2073.1,1347.5 L2073.9,1345.9 L2074.7,1347.9 L2075.5,1344.9 L2076.2,1345.2 L2077.0,1345.6 L2077.8,1346.1 L2078.6,1345.1 L2079.4,1345.7 L2080.2,1345.1 L2081.0,1345.9 L2081.7,1346.1 L2082.5,1346.0 L2083.3,1346.2 L2084.1,1346.0 L2084.8,1345.7 L2085.6,1348.8 L2086.4,1345.8 L2087.2,1347.7 L2087.9,1347.6 L2088.7,1346.9 L2089.5,1346.9 L2090.3,1346.5 L2091.0,1347.5 L2091.8,1346.6 L2092.6,1347.7 L2093.4,1349.6 L2094.1,1349.2 L2094.9,1347.5 L2095.6,1349.1 L2096.4,1349.2 L2097.1,1348.9 L2097.8,1351.4 L2098.6,1349.5 L2099.3,1351.8 L2100.1,1353.3 L2100.8,1353.5 L2101.5,1351.6 L2102.3,1352.7 L2103.0,1353.0 L2103.7,1353.3 L2104.5,1354.4 L2105.2,1354.5 L2105.9,1355.8 L2106.7,1354.2 L2107.4,1355.4 L2108.1,1356.4 L2108.9,1356.2 L2109.6,1354.6 L2110.4,1356.5 L2111.1,1356.9 L2111.8,1356.9 L2112.6,1356.3 L2113.3,1357.8 L2114.0,1357.4 L2114.8,1356.9 L2115.5,1358.1 L2116.2,1357.8 L2117.0,1357.7 L2117.7,1357.9 L2118.5,1358.0 L2119.2,1359.3 L2119.9,1359.2 L2120.7,1360.9 L2121.4,1360.4 L2122.2,1361.5 L2122.9,1360.7 L2123.7,1361.4 L2124.4,1362.2 L2125.2,1363.2 L2125.9,1363.7 L2126.7,1363.4 L2127.4,1363.9 L2128.2,1364.4 L2128.9,1364.9 L2129.6,1365.4 L2130.4,1363.4 L2131.1,1365.7 L2131.9,1365.1 L2132.6,1365.4 L2133.4,1364.9 L2134.1,1366.3 L2134.9,1366.8 L2135.6,1366.9 L2136.4,1365.4 L2137.2,1364.4 L2138.0,1366.4 L2138.8,1364.7 L2139.6,1363.4 L2140.4,1365.3 L2141.2,1362.6 L2142.0,1364.9 L2142.8,1363.6 L2143.6,1365.4 L2144.3,1363.9 L2145.1,1363.3 L2145.9,1363.9 L2146.7,1363.2 L2147.5,1363.4 L2148.3,1364.3 L2149.1,1364.1 L2149.8,1362.9 L2150.5,1363.4 L2151.2,1365.0 L2152.0,1362.3 L2152.7,1363.6 L2153.4,1364.9 L2154.1,1362.1 L2154.8,1363.2 L2155.5,1362.4 L2156.2,1361.4 L2156.9,1362.5 L2157.7,1362.2 L2158.4,1361.3 L2159.1,1360.3 L2159.8,1361.2 L2160.5,1360.6 L2161.2,1360.0 L2162.0,1359.6 L2162.7,1360.2 L2163.4,1360.0 L2164.2,1360.0 L2164.9,1361.5 L2165.6,1360.4 L2166.4,1361.8 L2167.1,1361.7 L2167.8,1361.7 L2168.6,1361.5 L2169.3,1361.2 L2170.1,1361.5 L2170.8,1363.4 L2171.5,1363.1 L2172.3,1362.3 L2173.0,1363.6 L2173.7,1363.0 L2174.4,1363.9 L2175.1,1363.6 L2175.9,1364.1 L2176.6,1364.5 L2177.3,1366.1 L2178.0,1367.2 L2178.7,1366.7 L2179.4,1367.4 L2180.2,1367.2 L2180.9,1367.3 L2181.6,1368.3 L2182.3,1367.5 L2183.0,1369.5 L2183.7,1369.6 L2184.5,1369.6 L2185.2,1369.5 L2186.0,1369.1 L2186.8,1371.0 L2187.6,1369.7 L2188.4,1369.5 L2189.2,1369.4 L2190.0,1369.7 L2190.8,1370.3 L2191.6,1370.3 L2192.3,1371.2 L2193.1,1370.4 L2193.9,1370.1 L2194.7,1371.1 L2195.5,1370.0 L2196.3,1372.1 L2197.1,1369.6 L2197.9,1370.5 L2198.7,1370.0" fill="none" stroke="#00ff00" stroke-width="11.5" stroke-linejoin="round" stroke-linecap="butt"/>
<path d="M335.6,1389.1 L336.4,1387.7 L337.2,1387.1 L338.0,1385.9 L338.8,1387.9 L339.6,1389.2 L340.4,1388.3 L341.2,1388.7 L342.0,1389.2 L342.8,1387.8 L343.6,1390.7 L344.4,1388.0 L345.2,1389.1 L346.0,1391.1 L346.8,1389.0 L347.6,1389.2 L348.4,1388.8 L349.2,1389.6 L349.9,1387.7 L350.7,1389.0 L351.5,1391.0 L352.3,1389.9 L353.1,1389.7 L353.9,1390.3 L354.7,1390.5 L355.5,1390.3 L356.3,1390.5 L357.1,1388.5 L357.8,1390.1 L358.6,1388.9 L359.4,1389.9 L360.2,1389.0 L361.0,1388.0 L361.8,1388.5 L362.6,1387.5 L363.4,1388.9 L364.2,1387.8 L365.0,1388.3 L365.7,1386.6 L366.5,1388.7 L367.3,1387.0 L368.1,1388.3 L368.9,1387.8 L369.7,1386.2 L370.5,1387.4 L371.3,1386.8 L372.1,1387.7 L372.9,1388.6 L373.7,1388.1 L374.5,1388.5 L375.3,1386.7 L376.1,1387.9 L376.8,1388.1 L377.6,1388.8 L378.4,1387.6 L379.2,1388.7 L380.0,1388.7 L380.8,1387.3 L381.6,1387.9 L382.4,1389.3 L383.2,1388.2 L384.0,1388.3 L384.8,1390.2 L385.6,1389.8 L386.4,1389.5 L387.2,1389.8 L388.0,1389.5 L388.8,1389.5 L389.6,1389.7 L390.4,1390.3 L391.1,1390.8 L391.9,1389.2 L392.6,1389.3 L393.4,1389.0 L394.2,1388.0 L394.9,1389.1 L395.7,1389.4 L396.4,1387.9 L397.2,1389.1 L398.0,1387.8 L398.7,1389.0 L399.5,1388.9 L400.2,1387.4 L401.0,1385.8 L401.7,1386.9 L402.5,1385.8 L403.3,1385.6 L404.0,1386.2 L404.8,1387.3 L405.6,1386.1 L406.4,1386.0 L407.2,1384.7 L408.0,1385.7 L408.8,1385.1 L409.6,1386.6 L410.4,1385.6 L411.2,1385.9 L412.0,1385.8 L412.8,1385.4 L413.6,1386.1 L414.4,1385.5 L415.2,1384.7 L416.0,1384.8 L416.8,1384.9 L417.6,1385.3 L418.4,1384.1 L419.2,1385.0 L420.0,1383.2 L420.8,1383.3 L421.5,1382.2 L422.3,1384.0 L423.1,1382.5 L423.9,1382.5 L424.7,1384.1 L425.5,1383.0 L426.3,1382.8 L427.1,1384.2 L427.8,1383.3 L428.6,1384.2 L429.4,1383.1 L430.1,1383.9 L430.9,1384.1 L431.7,1383.1 L432.4,1384.2 L433.2,1382.1 L434.0,1381.9 L434.7,1381.8 L435.5,1382.1 L436.2,1380.6 L437.0,1380.0 L437.8,1380.1 L438.5,1380.5 L439.3,1378.7 L440.1,1377.6 L440.8,1378.1 L441.6,1378.4 L442.4,1377.1 L443.1,1377.4 L443.9,1375.6 L444.7,1376.9 L445.3,1376.7 L445.9,1376.8 L446.5,1376.2 L447.1,1376.3 L447.7,1374.6 L448.3,1375.6 L448.9,1373.5 L449.5,1374.0 L450.1,1374.9 L450.7,1374.3 L451.3,1371.7 L451.9,1373.1 L452.5,1371.8 L453.1,1370.9 L453.7,1371.1 L454.3,1370.5 L454.9,1370.8 L455.5,1368.6 L456.2,1369.7 L456.9,1370.2 L457.6,1369.1 L458.3,1371.7 L459.0,1372.4 L459.6,1370.8 L460.3,1371.9 L461.0,1371.7 L461.7,1372.6 L462.4,1372.3 L463.1,1374.1 L463.8,1373.1 L464.4,1375.8 L465.1,1375.5 L465.8,1376.9 L466.4,1373.4 L467.1,1374.4 L467.7,1373.1 L468.3,1373.6 L469.0,1373.6 L469.6,1372.0 L470.3,1371.0 L470.9,1370.2 L471.6,1371.2 L472.2,1371.5 L472.9,1370.9 L473.5,1369.6 L474.2,1368.3 L474.8,1368.4 L475.4,1367.2 L476.1,1366.7 L476.7,1368.5 L477.4,1367.0 L478.0,1367.1 L478.7,1366.1 L479.3,1366.9 L480.0,1366.5 L480.7,1364.4 L481.4,1364.3 L482.2,1363.7 L482.9,1364.9 L483.7,1364.5 L484.4,1362.9 L485.2,1364.6 L485.9,1362.3 L486.6,1360.9 L487.4,1359.8 L488.1,1360.9 L488.9,1360.7 L489.6,1359.5 L490.4,1359.8 L491.1,1360.0 L491.8,1358.5 L492.6,1358.8 L493.3,1359.1 L494.1,1357.9 L494.8,1356.8 L495.6,1357.4 L496.3,1357.4 L497.0,1358.6 L497.8,1356.4 L498.5,1355.4 L499.3,1356.8 L500.0,1356.7 L500.8,1356.1 L501.6,1356.8 L502.4,1356.5 L503.2,1357.1 L504.0,1355.3 L504.8,1355.2 L505.6,1355.5 L506.4,1354.8 L507.2,1356.0 L508.0,1355.2 L508.8,1354.5 L509.6,1355.5 L510.4,1354.6 L511.2,1354.8 L511.9,1354.6 L512.7,1353.8 L513.5,1353.8 L514.3,1354.0 L515.1,1353.2 L515.9,1353.9 L516.7,1355.0 L517.5,1354.7 L518.3,1353.8 L519.1,1356.5 L519.9,1353.9 L520.5,1354.9 L521.1,1354.6 L521.7,1354.5 L522.3,1352.2 L523.0,1352.3 L523.6,1351.5 L524.2,1351.8 L524.8,1350.4 L525.4,1349.7 L526.0,1349.0 L526.6,1349.5 L527.2,1347.8 L527.8,1347.5 L528.4,1345.5 L529.0,1346.5 L529.6,1344.6 L530.2,1346.1 L530.8,1345.2 L531.4,1344.1 L532.0,1343.5 L532.6,1344.0 L533.2,1343.8 L533.8,1342.7 L534.4,1342.4 L535.0,1341.8 L535.7,1341.1 L536.4,1340.9 L537.0,1340.7 L537.7,1341.0 L538.3,1340.0 L539.0,1338.6 L539.6,1339.9 L540.3,1339.1 L540.9,1337.5 L541.6,1338.1 L542.3,1336.4 L542.9,1335.8 L543.6,1335.4 L544.2,1336.9 L544.9,1335.2 L545.5,1335.0 L546.2,1334.3 L546.8,1333.5 L547.5,1333.8 L548.2,1333.5 L548.8,1334.0 L549.5,1331.3 L550.1,1332.8 L550.9,1332.0 L551.7,1330.0 L552.5,1332.1 L553.3,1332.6 L554.1,1332.1 L554.9,1331.4 L555.7,1331.2 L556.5,1329.4 L557.3,1331.1 L558.1,1330.8 L558.9,1329.8 L559.7,1330.5 L560.4,1329.2 L560.9,1330.8 L561.4,1327.2 L562.0,1326.7 L562.5,1325.0 L563.1,1325.7 L563.6,1325.4 L564.1,1324.7 L564.7,1323.5 L565.2,1324.1 L565.7,1323.1 L566.3,1323.3 L566.8,1321.7 L567.4,1319.8 L567.9,1320.6 L568.4,1319.4 L569.0,1320.4 L569.5,1318.8 L570.0,1318.6 L570.5,1318.2 L571.0,1316.5 L571.5,1316.9 L572.0,1317.3 L572.5,1315.6 L573.0,1315.4 L573.5,1315.0 L573.9,1313.7 L574.4,1313.3 L574.9,1313.1 L575.4,1311.7 L575.9,1311.2 L576.4,1310.3 L576.9,1308.8 L577.4,1307.9 L577.8,1309.8 L578.3,1308.6 L578.8,1306.8 L579.3,1307.0 L579.8,1306.5 L580.4,1305.9 L581.0,1304.3 L581.6,1303.0 L582.2,1302.7 L582.8,1303.1 L583.4,1303.9 L584.0,1303.7 L584.6,1301.9 L585.2,1301.4 L585.8,1302.2 L586.5,1302.5 L587.1,1299.7 L587.7,1300.4 L588.3,1299.7 L588.9,1298.8 L589.5,1298.2 L590.1,1297.7 L590.8,1297.4 L591.4,1295.6 L592.0,1296.3 L592.7,1296.3 L593.3,1295.7 L594.0,1295.1 L594.6,1294.2 L595.2,1293.5 L595.9,1294.3 L596.5,1292.0 L597.2,1291.8 L597.8,1292.1 L598.4,1290.6 L599.1,1289.0 L599.7,1289.1 L600.2,1288.6 L600.5,1288.2 L600.8,1287.3 L601.2,1287.8 L601.5,1286.9 L601.8,1286.1 L602.2,1284.8 L602.5,1285.3 L602.8,1284.6 L603.2,1284.9 L603.5,1282.0 L603.8,1281.6 L604.2,1282.0 L604.5,1279.2 L604.8,1279.4 L605.2,1278.5 L605.7,1277.6 L606.2,1276.0 L606.7,1276.0 L607.2,1274.0 L607.7,1275.4 L608.1,1273.3 L608.6,1273.1 L609.1,1272.3 L609.6,1271.8 L610.1,1271.1 L610.6,1270.7 L611.1,1269.4 L611.6,1269.1 L612.0,1267.6 L612.5,1267.2 L613.0,1266.8 L613.5,1266.2 L614.0,1265.6 L614.5,1265.8 L615.0,1266.5 L615.7,1266.2 L616.3,1265.4 L617.0,1265.8 L617.7,1265.7 L618.4,1267.3 L619.1,1263.6 L619.8,1264.8 L620.5,1263.2 L621.1,1264.8 L621.8,1263.3 L622.5,1263.4 L623.2,1262.8 L623.9,1262.8 L624.6,1259.6 L625.1,1260.5 L625.4,1260.8 L625.8,1259.0 L626.1,1259.7 L626.4,1259.6 L626.7,1256.8 L627.1,1256.7 L627.4,1256.7 L627.7,1256.8 L628.0,1255.3 L628.4,1254.3 L628.7,1252.1 L629.0,1252.0 L629.3,1251.2 L629.7,1249.8 L630.0,1249.8 L630.3,1248.4 L630.6,1247.5 L631.0,1248.8 L631.3,1246.2 L631.6,1247.0 L631.9,1244.4 L632.3,1243.8 L632.6,1242.1 L632.9,1241.8 L633.2,1242.7 L633.6,1240.7 L633.9,1238.3 L634.2,1240.3 L634.5,1237.7 L634.9,1237.3 L635.5,1237.3 L636.3,1235.8 L637.1,1238.5 L637.8,1238.3 L638.6,1237.0 L639.4,1237.6 L640.2,1237.2 L641.0,1237.0 L641.8,1237.3 L642.6,1236.3 L643.4,1237.0 L644.2,1236.8 L645.0,1238.6 L645.3,1235.1 L645.6,1236.4 L645.9,1235.1 L646.2,1233.8 L646.5,1232.3 L646.8,1233.4 L647.1,1232.3 L647.4,1230.4 L647.7,1229.5 L648.0,1229.0 L648.3,1229.6 L648.6,1226.6 L648.9,1226.6 L649.2,1226.6 L649.5,1223.7 L649.8,1223.8 L650.1,1223.8 L650.4,1221.6 L650.7,1220.9 L651.0,1218.8 L651.3,1219.5 L651.6,1217.4 L651.9,1217.3 L652.2,1217.1 L652.5,1215.8 L653.1,1216.5 L653.7,1216.0 L654.3,1215.4 L654.9,1215.4 L655.4,1214.1 L656.0,1212.0 L656.6,1214.0 L657.2,1213.5 L657.8,1212.0 L658.4,1211.2 L659.0,1212.3 L659.6,1210.5 L660.2,1210.0 L660.7,1209.4 L661.3,1211.2 L661.9,1208.2 L662.5,1206.2 L663.1,1207.7 L663.7,1206.5 L664.3,1205.5 L664.9,1206.5 L665.3,1205.4 L665.6,1205.9 L665.9,1204.3 L666.2,1204.8 L666.6,1204.0 L666.9,1202.6 L667.2,1202.5 L667.6,1202.6 L667.9,1201.0 L668.2,1198.5 L668.6,1198.9 L668.9,1198.2 L669.2,1198.2 L669.6,1196.3 L669.9,1196.4 L670.2,1194.6 L670.6,1193.8 L670.9,1192.8 L671.2,1192.1 L671.5,1191.2 L671.9,1190.9 L672.2,1189.3 L672.5,1188.4 L672.9,1188.5 L673.2,1188.0 L673.5,1187.0 L673.9,1187.0 L674.2,1186.4 L674.5,1186.8 L674.9,1183.6 L675.3,1185.7 L675.8,1181.7 L676.2,1181.5 L676.7,1182.5 L677.2,1180.8 L677.7,1180.6 L678.2,1179.8 L678.7,1178.5 L679.2,1177.7 L679.7,1177.8 L680.2,1177.7 L680.6,1177.3 L681.1,1176.2 L681.6,1175.2 L682.1,1175.7 L682.6,1172.4 L683.1,1173.5 L683.6,1173.9 L684.1,1173.5 L684.5,1172.6 L685.0,1172.1 L685.6,1171.4 L686.3,1170.2 L686.9,1167.8 L687.5,1168.6 L688.1,1168.2 L688.7,1169.1 L689.3,1166.9 L689.9,1166.3 L690.5,1166.5 L691.1,1164.6 L691.7,1164.8 L692.4,1164.7 L693.0,1163.4 L693.6,1163.2 L694.2,1161.4 L694.8,1161.3 L695.3,1161.6 L695.7,1162.2 L696.2,1160.2 L696.6,1159.4 L697.1,1158.9 L697.5,1159.4 L698.0,1157.1 L698.4,1157.7 L698.8,1156.6 L699.3,1156.3 L699.7,1154.9 L700.2,1154.9 L700.6,1155.2 L701.1,1153.2 L701.5,1152.4 L701.9,1150.1 L702.4,1151.8 L702.8,1150.3 L703.3,1150.5 L703.7,1149.6 L704.2,1148.2 L704.6,1147.6 L705.1,1146.3 L705.6,1148.4 L706.1,1146.9 L706.6,1146.2 L707.2,1145.9 L707.7,1145.5 L708.2,1144.6 L708.8,1144.2 L709.3,1144.9 L709.8,1141.1 L710.3,1142.2 L710.9,1141.0 L711.4,1141.1 L711.9,1138.5 L712.4,1139.1 L713.0,1140.0 L713.5,1137.8 L714.0,1138.6 L714.6,1137.0 L715.3,1137.0 L715.9,1135.4 L716.5,1135.6 L717.1,1134.4 L717.8,1135.5 L718.4,1133.2 L719.0,1134.3 L719.7,1133.0 L720.3,1132.7 L720.9,1133.4 L721.6,1131.4 L722.2,1130.4 L722.8,1130.3 L723.5,1130.2 L724.1,1128.6 L724.5,1129.6 L724.8,1127.5 L725.1,1126.3 L725.4,1125.3 L725.7,1125.0 L726.0,1124.9 L726.4,1124.6 L726.7,1123.2 L727.0,1122.0 L727.3,1121.8 L727.6,1119.5 L727.9,1121.4 L728.3,1120.4 L728.6,1118.9 L728.9,1118.8 L729.2,1116.7 L729.5,1118.2 L729.8,1115.9 L730.2,1115.0 L730.5,1116.3 L730.8,1113.2 L731.1,1113.6 L731.6,1112.1 L732.3,1112.1 L733.0,1112.0 L733.8,1111.6 L734.5,1112.9 L735.2,1112.4 L736.0,1110.8 L736.7,1112.8 L737.4,1111.0 L738.0,1111.3 L738.7,1112.1 L739.4,1111.2 L740.0,1113.4 L740.7,1111.9 L741.3,1111.9 L742.0,1114.1 L742.6,1112.9 L743.3,1113.8 L744.0,1113.6 L744.6,1114.1 L745.2,1114.2 L745.7,1111.9 L746.3,1113.4 L746.9,1112.6 L747.5,1114.0 L748.1,1114.2 L748.7,1112.6 L749.3,1112.2 L749.9,1112.1 L750.5,1111.5 L751.1,1108.9 L751.7,1108.9 L752.3,1109.9 L753.0,1109.4 L753.7,1110.5 L754.3,1111.0 L755.0,1110.5 L755.6,1111.8 L756.3,1112.8 L756.9,1112.0 L757.6,1112.6 L758.2,1112.7 L758.7,1112.3 L759.2,1111.3 L759.6,1110.3 L760.1,1111.2 L760.5,1111.1 L761.0,1109.8 L761.4,1109.6 L761.9,1108.0 L762.3,1108.5 L762.7,1108.5 L763.2,1107.7 L763.6,1107.3 L764.1,1105.9 L764.5,1105.1 L765.0,1105.3 L765.4,1105.9 L765.9,1103.7 L766.3,1102.0 L766.8,1101.9 L767.3,1102.0 L767.8,1103.5 L768.3,1103.8 L768.9,1102.8 L769.4,1103.0 L770.0,1104.0 L770.5,1104.6 L771.1,1104.3 L771.6,1106.3 L772.2,1105.7 L772.7,1106.7 L773.1,1105.6 L773.4,1105.4 L773.8,1104.2 L774.1,1103.8 L774.5,1104.0 L774.9,1102.5 L775.2,1102.8 L775.6,1100.0 L775.9,1100.2 L776.3,1098.9 L776.6,1098.0 L777.0,1098.5 L777.4,1099.4 L777.7,1097.5 L778.1,1097.5 L778.4,1094.6 L778.8,1095.7 L779.1,1094.0 L779.5,1094.5 L779.9,1094.6 L780.5,1092.9 L781.1,1093.7 L781.7,1091.8 L782.3,1092.0 L782.8,1090.9 L783.4,1090.9 L784.0,1090.1 L784.6,1087.9 L785.2,1088.8 L785.8,1088.1 L786.4,1089.2 L786.9,1085.3 L787.5,1086.8 L788.1,1086.9 L788.7,1087.2 L789.3,1086.2 L789.9,1084.7 L790.6,1085.6 L791.4,1084.2 L792.1,1084.0 L792.9,1083.7 L793.6,1083.5 L794.4,1084.9 L795.2,1082.2 L795.9,1082.1 L796.7,1083.9 L797.4,1083.3 L798.2,1083.4 L798.9,1082.2 L799.7,1082.6 L800.4,1081.4 L801.0,1080.7 L801.7,1080.2 L802.4,1080.1 L803.1,1079.4 L803.7,1078.5 L804.4,1079.5 L805.1,1078.0 L805.7,1076.8 L806.4,1075.5 L807.1,1075.9 L807.8,1074.2 L808.4,1074.2 L809.1,1073.5 L809.8,1073.1 L810.5,1074.2 L811.3,1071.7 L812.0,1075.6 L812.7,1075.0 L813.5,1074.6 L814.2,1074.7 L815.0,1076.1 L815.7,1075.7 L816.4,1077.5 L817.2,1076.4 L817.9,1076.1 L818.6,1075.7 L819.1,1076.2 L819.6,1076.4 L820.1,1074.0 L820.6,1075.4 L821.1,1074.4 L821.6,1072.9 L822.1,1073.5 L822.6,1070.6 L823.2,1069.7 L823.7,1071.1 L824.2,1070.7 L824.7,1070.1 L825.2,1069.3 L825.7,1067.7 L826.3,1068.7 L826.9,1067.5 L827.4,1067.8 L828.0,1066.6 L828.6,1064.9 L829.1,1065.5 L829.7,1064.9 L830.2,1064.2 L830.8,1062.3 L831.4,1061.4 L831.9,1062.3 L832.5,1061.1 L833.1,1060.7 L833.6,1061.2 L834.2,1061.0 L834.7,1060.3 L835.2,1059.6 L835.8,1060.7 L836.3,1058.4 L836.8,1059.0 L837.3,1058.8 L837.8,1057.0 L838.3,1057.0 L838.9,1057.6 L839.4,1056.1 L839.9,1054.4 L840.4,1055.7 L840.9,1053.6 L841.5,1052.6 L842.0,1053.0 L842.5,1049.4 L843.1,1050.0 L843.7,1049.9 L844.3,1052.0 L844.9,1050.6 L845.5,1053.5 L846.1,1052.4 L846.8,1052.8 L847.4,1053.8 L848.0,1053.5 L848.6,1053.6 L849.2,1054.5 L849.8,1055.8 L850.4,1055.7 L851.1,1057.3 L851.5,1057.5 L851.9,1058.7 L852.3,1059.6 L852.7,1061.7 L853.1,1063.0 L853.6,1063.3 L854.0,1062.4 L854.4,1062.6 L854.8,1064.6 L855.2,1065.5 L855.6,1065.9 L856.0,1065.4 L856.4,1066.9 L856.8,1067.2 L857.2,1069.1 L857.6,1069.8 L858.1,1070.0 L858.5,1070.1 L858.9,1071.2 L859.3,1069.3 L859.7,1069.1 L860.1,1068.2 L860.5,1067.6 L860.9,1067.2 L861.3,1065.1 L861.7,1064.2 L862.1,1064.3 L862.6,1060.4 L863.0,1062.1 L863.4,1061.0 L863.8,1061.2 L864.2,1060.1 L864.6,1059.0 L865.0,1057.5 L865.4,1057.7 L865.8,1056.9 L866.2,1056.6 L866.6,1056.1 L867.2,1055.2 L867.9,1056.7 L868.5,1056.3 L869.2,1057.5 L869.9,1057.8 L870.6,1059.1 L871.3,1058.5 L872.0,1060.2 L872.7,1059.0 L873.4,1059.0 L874.1,1060.6 L874.8,1059.4 L875.5,1061.0 L876.2,1061.4 L876.9,1061.5 L877.6,1061.9 L878.3,1061.9 L879.0,1063.0 L879.7,1062.0 L880.5,1060.8 L881.2,1062.2 L881.9,1063.5 L882.6,1063.9 L883.3,1064.0 L884.0,1063.9 L884.8,1063.6 L885.5,1066.1 L886.2,1064.9 L886.9,1065.0 L887.4,1063.5 L888.0,1066.5 L888.5,1064.4 L889.1,1062.3 L889.6,1063.7 L890.2,1062.7 L890.7,1060.0 L891.3,1061.1 L891.8,1059.5 L892.4,1059.2 L892.9,1058.8 L893.5,1056.6 L894.0,1057.9 L894.6,1055.4 L895.1,1054.4 L895.6,1055.3 L896.2,1053.3 L896.7,1053.0 L897.3,1054.3 L897.9,1053.5 L898.6,1053.8 L899.2,1055.8 L899.8,1056.2 L900.4,1056.4 L901.0,1058.3 L901.6,1057.2 L902.2,1059.4 L902.8,1058.6 L903.5,1060.4 L904.1,1059.7 L904.7,1061.8 L905.3,1061.8 L906.0,1062.0 L906.7,1062.8 L907.4,1063.0 L908.1,1064.1 L908.8,1063.2 L909.6,1064.4 L910.3,1064.1 L911.0,1064.1 L911.7,1064.5 L912.4,1064.3 L913.1,1065.7 L913.8,1065.9 L914.4,1066.5 L915.0,1065.5 L915.6,1066.9 L916.1,1068.9 L916.7,1069.1 L917.2,1068.5 L917.8,1069.1 L918.4,1069.7 L918.9,1070.9 L919.5,1071.8 L920.1,1071.6 L920.6,1072.3 L921.2,1072.8 L921.7,1074.0 L922.3,1076.0 L923.0,1074.6 L923.8,1076.0 L924.6,1074.9 L925.4,1075.3 L926.2,1075.1 L927.0,1076.2 L927.8,1077.9 L928.6,1078.1 L929.4,1077.5 L930.2,1076.8 L931.0,1077.5 L931.8,1075.7 L932.6,1075.2 L933.4,1075.5 L934.2,1075.8 L935.0,1074.4 L935.8,1075.0 L936.6,1076.8 L937.4,1075.2 L938.2,1075.0 L939.0,1074.8 L939.8,1075.8 L940.6,1075.8 L941.3,1075.3 L942.1,1075.1 L942.9,1073.6 L943.7,1074.1 L944.5,1075.0 L945.3,1074.9 L946.1,1075.2 L946.8,1075.2 L947.6,1077.1 L948.4,1076.7 L949.2,1075.1 L950.0,1076.8 L950.2,1077.3 L950.5,1077.8 L950.7,1078.5 L950.9,1079.8 L951.1,1081.8 L951.4,1080.8 L951.6,1082.0 L951.8,1082.9 L952.1,1082.6 L952.3,1084.8 L952.5,1085.0 L952.8,1086.8 L953.0,1087.8 L953.2,1089.8 L953.4,1089.1 L953.7,1090.0 L953.9,1091.8 L954.1,1093.7 L954.4,1093.3 L954.6,1094.5 L954.8,1095.5 L955.1,1096.3 L955.3,1096.4 L955.5,1097.0 L955.7,1097.8 L956.0,1098.7 L956.2,1099.8 L956.4,1099.5 L956.7,1100.1 L956.9,1101.2 L957.1,1101.7 L957.3,1102.5 L957.7,1101.6 L958.3,1103.4 L958.9,1101.2 L959.5,1100.6 L960.0,1099.5 L960.6,1100.0 L961.2,1099.8 L961.8,1098.4 L962.4,1097.8 L963.0,1097.0 L963.6,1098.4 L964.1,1096.5 L964.7,1095.2 L965.3,1095.7 L965.7,1097.1 L966.2,1097.0 L966.7,1097.8 L967.2,1098.4 L967.7,1098.7 L968.2,1099.9 L968.7,1101.3 L969.2,1100.9 L969.6,1100.8 L970.1,1100.9 L970.6,1102.0 L971.1,1102.1 L971.6,1102.3 L972.1,1104.0 L972.6,1104.3 L973.1,1105.4 L973.5,1105.6 L974.0,1105.6 L974.5,1107.3 L975.0,1107.6 L975.5,1109.2 L976.0,1108.1 L976.5,1109.4 L977.0,1110.6 L977.4,1112.7 L977.9,1112.7 L978.4,1112.3 L978.9,1113.3 L979.4,1115.2 L979.9,1114.4 L980.5,1114.9 L981.2,1114.9 L981.9,1114.3 L982.6,1114.3 L983.3,1114.2 L984.0,1113.2 L984.6,1111.4 L985.3,1112.8 L986.0,1112.1 L986.7,1110.1 L987.4,1109.9 L987.8,1109.6 L988.1,1112.3 L988.4,1111.6 L988.8,1112.9 L989.1,1113.7 L989.4,1115.1 L989.8,1115.0 L990.1,1115.5 L990.4,1117.0 L990.8,1118.1 L991.1,1117.8 L991.4,1118.9 L991.7,1118.5 L992.1,1121.5 L992.4,1120.6 L992.7,1122.6 L993.1,1123.2 L993.4,1123.8 L993.7,1124.6 L994.1,1124.0 L994.4,1125.4 L994.7,1125.5 L995.1,1126.7 L995.4,1127.0 L995.7,1130.2 L996.1,1129.4 L996.4,1130.8 L996.7,1130.3 L997.0,1133.0 L997.4,1132.3 L998.0,1132.6 L998.8,1132.5 L999.6,1131.5 L1000.4,1131.0 L1001.2,1132.7 L1002.0,1131.6 L1002.8,1132.1 L1003.6,1133.8 L1004.4,1132.1 L1005.2,1133.9 L1006.0,1132.6 L1006.8,1131.7 L1007.6,1133.1 L1008.1,1134.2 L1008.7,1134.7 L1009.2,1134.2 L1009.8,1134.5 L1010.3,1136.6 L1010.9,1138.0 L1011.4,1138.5 L1012.0,1137.5 L1012.6,1138.2 L1013.1,1139.2 L1013.7,1140.5 L1014.2,1140.6 L1014.8,1141.2 L1015.3,1141.5 L1015.9,1140.1 L1016.4,1141.8 L1017.0,1143.4 L1017.5,1142.6 L1018.1,1145.9 L1018.7,1144.2 L1019.2,1145.9 L1019.8,1146.6 L1020.3,1147.4 L1020.7,1146.2 L1021.1,1147.6 L1021.6,1149.6 L1022.0,1149.2 L1022.5,1150.4 L1022.9,1148.6 L1023.4,1151.4 L1023.8,1152.0 L1024.2,1152.4 L1024.7,1151.9 L1025.1,1153.4 L1025.6,1154.6 L1026.0,1155.3 L1026.5,1155.6 L1026.9,1158.1 L1027.4,1158.8 L1027.8,1158.6 L1028.2,1160.9 L1028.7,1159.5 L1029.1,1161.4 L1029.6,1163.1 L1030.0,1162.8 L1030.8,1161.9 L1031.6,1162.1 L1032.4,1161.2 L1033.2,1160.5 L1034.0,1159.9 L1034.7,1160.1 L1035.5,1159.6 L1036.3,1159.6 L1037.1,1158.4 L1037.9,1159.0 L1038.7,1159.3 L1039.4,1157.9 L1040.1,1159.7 L1040.4,1158.7 L1040.7,1159.5 L1041.0,1160.5 L1041.3,1160.9 L1041.7,1161.5 L1042.0,1162.7 L1042.3,1164.2 L1042.6,1164.6 L1042.9,1167.2 L1043.2,1166.7 L1043.5,1167.2 L1043.8,1167.9 L1044.2,1169.4 L1044.5,1169.9 L1044.8,1170.8 L1045.1,1171.9 L1045.4,1173.2 L1045.7,1172.1 L1046.0,1174.0 L1046.4,1174.3 L1046.7,1175.2 L1047.0,1175.3 L1047.3,1176.9 L1047.6,1177.6 L1047.9,1178.1 L1048.2,1177.9 L1048.5,1179.7 L1048.9,1179.1 L1049.2,1179.3 L1049.5,1181.8 L1049.8,1181.7 L1050.3,1181.1 L1051.1,1181.9 L1051.9,1182.5 L1052.7,1183.4 L1053.5,1182.6 L1054.3,1182.2 L1055.1,1182.1 L1055.8,1182.0 L1056.6,1183.0 L1057.4,1182.5 L1058.2,1183.7 L1059.0,1182.7 L1059.8,1184.1 L1060.6,1183.2 L1061.4,1183.5 L1062.2,1183.5 L1062.8,1183.9 L1063.3,1185.9 L1063.8,1184.8 L1064.3,1185.7 L1064.8,1186.6 L1065.3,1187.9 L1065.8,1187.4 L1066.3,1190.0 L1066.7,1188.8 L1067.2,1189.8 L1067.7,1191.0 L1068.2,1191.7 L1068.7,1191.5 L1069.2,1193.5 L1069.7,1194.7 L1070.2,1193.7 L1070.7,1194.6 L1071.2,1194.9 L1071.7,1196.6 L1072.2,1195.1 L1072.7,1195.6 L1073.2,1195.4 L1073.6,1196.3 L1074.1,1196.4 L1074.6,1196.9 L1075.1,1197.7 L1075.5,1199.4 L1076.0,1199.3 L1076.4,1201.1 L1076.9,1201.2 L1077.3,1203.2 L1077.7,1202.2 L1078.2,1203.1 L1078.6,1205.3 L1079.1,1206.8 L1079.5,1206.1 L1079.9,1205.6 L1080.4,1208.8 L1080.8,1209.0 L1081.3,1208.8 L1081.7,1211.1 L1082.1,1211.7 L1082.6,1210.8 L1083.0,1211.6 L1083.5,1213.0 L1083.9,1213.6 L1084.3,1214.7 L1084.8,1214.6 L1085.2,1216.4 L1085.7,1215.2 L1086.1,1215.5 L1086.5,1216.4 L1087.0,1217.0 L1087.4,1218.3 L1088.0,1218.4 L1088.5,1220.3 L1089.1,1221.2 L1089.7,1222.2 L1090.3,1221.2 L1090.9,1221.1 L1091.4,1222.4 L1092.0,1223.2 L1092.6,1223.3 L1093.2,1224.5 L1093.7,1225.0 L1094.3,1225.4 L1094.9,1225.0 L1095.5,1226.9 L1096.1,1226.2 L1096.6,1225.8 L1097.2,1228.3 L1097.8,1230.2 L1098.4,1230.2 L1098.9,1229.8 L1099.5,1231.7 L1100.1,1233.6 L1100.9,1233.2 L1101.7,1233.3 L1102.5,1232.7 L1103.3,1233.7 L1104.1,1233.3 L1104.9,1235.0 L1105.7,1234.1 L1106.5,1234.4 L1107.2,1232.5 L1108.0,1233.7 L1108.8,1234.3 L1109.6,1234.9 L1110.1,1234.8 L1110.4,1233.8 L1110.7,1237.2 L1111.0,1235.5 L1111.2,1236.1 L1111.5,1236.7 L1111.8,1236.8 L1112.1,1238.1 L1112.3,1238.5 L1112.6,1239.3 L1112.9,1239.8 L1113.1,1240.7 L1113.4,1242.0 L1113.7,1241.6 L1114.0,1241.8 L1114.2,1243.7 L1114.5,1243.8 L1114.8,1245.0 L1115.1,1244.4 L1115.3,1245.7 L1115.6,1245.9 L1115.9,1246.3 L1116.2,1247.7 L1116.4,1248.7 L1116.7,1249.9 L1117.0,1249.6 L1117.3,1251.9 L1117.5,1253.0 L1117.8,1253.3 L1118.1,1253.6 L1118.3,1254.1 L1118.6,1256.3 L1118.9,1255.7 L1119.2,1258.1 L1119.4,1256.4 L1119.7,1257.1 L1120.0,1259.7 L1120.7,1258.7 L1121.5,1260.7 L1122.2,1259.9 L1123.0,1260.1 L1123.8,1261.1 L1124.5,1262.0 L1125.3,1262.2 L1126.1,1261.9 L1126.8,1262.1 L1127.6,1263.4 L1128.3,1262.6 L1129.1,1262.8 L1129.9,1263.1 L1130.6,1266.5 L1131.4,1265.4 L1132.1,1264.9 L1132.9,1264.5 L1133.5,1265.6 L1134.2,1264.3 L1134.8,1265.8 L1135.5,1267.2 L1136.2,1267.1 L1136.8,1266.6 L1137.5,1268.0 L1138.1,1268.5 L1138.8,1270.2 L1139.5,1270.4 L1140.1,1270.4 L1140.8,1272.4 L1141.5,1270.8 L1142.1,1272.5 L1142.8,1272.3 L1143.4,1272.1 L1144.1,1272.1 L1144.8,1273.1 L1145.4,1274.1 L1146.1,1271.9 L1146.7,1273.5 L1147.4,1274.4 L1148.1,1273.3 L1148.7,1273.7 L1149.4,1275.7 L1150.1,1274.8 L1150.7,1275.0 L1151.4,1276.1 L1152.0,1276.4 L1152.7,1277.0 L1153.4,1277.5 L1154.0,1278.6 L1154.7,1278.3 L1155.3,1279.2 L1156.0,1278.4 L1156.7,1279.8 L1157.3,1279.7 L1158.1,1281.5 L1158.9,1280.7 L1159.7,1281.5 L1160.5,1280.5 L1161.3,1279.9 L1162.1,1281.3 L1162.9,1280.5 L1163.7,1279.5 L1164.5,1280.4 L1165.3,1280.0 L1166.1,1281.6 L1166.9,1280.5 L1167.7,1281.1 L1168.5,1281.1 L1169.3,1281.7 L1170.0,1281.3 L1170.4,1282.2 L1170.7,1283.0 L1171.1,1282.4 L1171.4,1284.3 L1171.7,1284.1 L1172.1,1284.8 L1172.4,1286.5 L1172.7,1285.8 L1173.1,1287.6 L1173.4,1289.1 L1173.8,1289.0 L1174.1,1290.2 L1174.4,1289.4 L1174.8,1290.8 L1175.1,1289.5 L1175.4,1291.3 L1175.8,1292.3 L1176.1,1294.9 L1176.5,1295.8 L1176.8,1293.6 L1177.1,1295.6 L1177.5,1296.2 L1177.8,1298.9 L1178.1,1299.2 L1178.5,1299.2 L1178.8,1301.0 L1179.2,1302.2 L1179.5,1301.7 L1179.8,1303.8 L1180.4,1303.9 L1181.2,1304.0 L1182.0,1302.0 L1182.8,1303.2 L1183.5,1301.3 L1184.3,1303.2 L1185.1,1302.2 L1185.9,1303.7 L1186.7,1303.6 L1187.5,1301.1 L1188.3,1303.4 L1189.1,1301.8 L1189.9,1302.8 L1190.5,1302.7 L1191.1,1302.9 L1191.7,1303.6 L1192.3,1304.1 L1192.9,1306.2 L1193.5,1305.8 L1194.1,1305.5 L1194.7,1307.4 L1195.3,1307.0 L1195.9,1308.3 L1196.6,1307.8 L1197.2,1309.2 L1197.8,1308.6 L1198.4,1309.2 L1199.0,1310.5 L1199.6,1311.3 L1200.2,1311.2 L1200.8,1311.4 L1201.4,1314.0 L1202.0,1312.3 L1202.6,1310.9 L1203.2,1313.9 L1203.8,1313.5 L1204.4,1313.3 L1205.0,1315.8 L1205.8,1315.9 L1206.5,1315.3 L1207.3,1315.4 L1208.0,1316.1 L1208.7,1317.1 L1209.5,1315.8 L1210.2,1317.8 L1211.0,1317.1 L1211.7,1317.6 L1212.4,1318.8 L1213.2,1317.7 L1213.9,1318.8 L1214.7,1318.7 L1215.4,1316.8 L1216.2,1319.4 L1216.9,1319.9 L1217.6,1320.2 L1218.3,1321.9 L1218.9,1321.1 L1219.5,1322.4 L1220.1,1322.9 L1220.7,1323.5 L1221.4,1322.4 L1222.0,1323.9 L1222.6,1324.4 L1223.2,1326.5 L1223.9,1325.5 L1224.5,1326.7 L1225.1,1326.8 L1225.7,1325.9 L1226.4,1326.5 L1227.0,1327.8 L1227.6,1328.5 L1228.2,1329.4 L1228.9,1328.2 L1229.5,1327.6 L1230.1,1328.7 L1230.9,1327.1 L1231.6,1328.8 L1232.3,1327.0 L1233.0,1326.8 L1233.7,1327.8 L1234.4,1326.3 L1235.1,1324.6 L1235.9,1325.5 L1236.6,1324.2 L1237.3,1323.3 L1238.0,1323.1 L1238.7,1322.3 L1239.4,1323.3 L1240.2,1322.0 L1240.8,1322.8 L1241.5,1324.3 L1242.2,1323.8 L1242.9,1324.1 L1243.6,1325.1 L1244.3,1325.1 L1245.0,1326.2 L1245.7,1326.5 L1246.4,1327.9 L1247.1,1327.5 L1247.8,1327.6 L1248.5,1328.4 L1249.2,1327.5 L1249.9,1329.6 L1250.6,1330.8 L1251.3,1332.1 L1252.0,1331.3 L1252.7,1332.3 L1253.5,1329.8 L1254.3,1332.2 L1255.1,1331.4 L1255.9,1332.0 L1256.7,1330.6 L1257.5,1331.2 L1258.3,1330.9 L1259.1,1330.4 L1259.9,1330.6 L1260.7,1331.8 L1261.5,1329.4 L1262.3,1330.2 L1262.9,1331.3 L1263.4,1332.6 L1264.0,1331.2 L1264.5,1331.6 L1265.1,1331.6 L1265.6,1333.9 L1266.1,1334.1 L1266.7,1334.7 L1267.2,1335.2 L1267.7,1334.4 L1268.3,1337.2 L1268.8,1337.5 L1269.4,1336.2 L1269.9,1337.1 L1270.4,1337.3 L1271.0,1337.9 L1271.5,1340.3 L1272.0,1340.1 L1272.6,1338.9 L1273.4,1341.2 L1274.2,1339.9 L1275.0,1339.6 L1275.8,1338.9 L1276.6,1339.1 L1277.4,1339.7 L1278.2,1342.3 L1278.9,1339.4 L1279.7,1339.9 L1280.5,1341.3 L1281.3,1340.9 L1282.1,1340.2 L1282.9,1342.9 L1283.7,1340.5 L1284.5,1340.1 L1285.2,1340.4 L1285.9,1341.3 L1286.6,1341.6 L1287.2,1342.1 L1287.9,1341.8 L1288.6,1341.5 L1289.2,1343.2 L1289.9,1342.3 L1290.6,1342.4 L1291.2,1343.8 L1291.9,1344.6 L1292.5,1343.8 L1293.2,1344.2 L1293.9,1344.9 L1294.5,1345.0 L1295.2,1345.7 L1295.9,1347.1 L1296.5,1347.4 L1297.2,1345.4 L1297.9,1348.9 L1298.5,1349.2 L1299.2,1347.6 L1299.9,1350.0 L1300.6,1348.0 L1301.4,1350.3 L1302.1,1349.0 L1302.9,1350.0 L1303.6,1350.0 L1304.4,1350.6 L1305.2,1349.4 L1305.9,1351.9 L1306.7,1351.6 L1307.4,1351.5 L1308.2,1352.7 L1309.0,1352.0 L1309.7,1354.0 L1310.5,1353.8 L1311.2,1354.6 L1312.0,1352.8 L1312.8,1353.9 L1313.5,1352.6 L1314.3,1354.5 L1315.0,1354.0 L1315.8,1354.1 L1316.6,1355.5 L1317.4,1354.8 L1318.2,1355.7 L1319.0,1354.0 L1319.8,1354.3 L1320.6,1355.1 L1321.4,1353.2 L1322.2,1354.1 L1323.0,1355.1 L1323.8,1353.7 L1324.5,1355.7 L1325.3,1354.8 L1326.1,1356.4 L1326.9,1355.4 L1327.7,1357.3 L1328.5,1355.0 L1329.3,1357.5 L1330.1,1355.6 L1330.9,1357.9 L1331.7,1356.9 L1332.5,1355.5 L1333.3,1357.5 L1334.1,1356.7 L1334.9,1357.1 L1335.7,1357.2 L1336.5,1357.9 L1337.3,1356.9 L1338.1,1357.6 L1338.9,1356.2 L1339.7,1356.5 L1340.5,1357.2 L1341.3,1357.6 L1342.1,1356.5 L1342.9,1356.1 L1343.7,1356.6 L1344.5,1356.6 L1345.3,1355.4 L1346.1,1358.4 L1346.9,1355.7 L1347.7,1355.0 L1348.5,1356.0 L1349.3,1356.4 L1350.1,1356.0 L1350.9,1355.5 L1351.7,1355.9 L1352.5,1356.4 L1353.3,1355.4 L1354.0,1355.1 L1354.8,1355.9 L1355.6,1356.0 L1356.4,1355.1 L1357.1,1358.1 L1357.9,1357.2 L1358.6,1358.0 L1359.4,1357.8 L1360.1,1356.1 L1360.9,1359.2 L1361.6,1356.6 L1362.4,1357.5 L1363.1,1358.8 L1363.9,1358.4 L1364.6,1359.8 L1365.4,1360.2 L1366.1,1359.7 L1366.9,1361.3 L1367.6,1359.0 L1368.4,1360.8 L1369.1,1361.2 L1369.9,1362.4 L1370.7,1361.6 L1371.5,1359.6 L1372.3,1361.4 L1373.1,1360.7 L1373.9,1361.1 L1374.7,1361.4 L1375.5,1362.0 L1376.3,1360.6 L1377.1,1361.3 L1377.8,1361.6 L1378.6,1361.4 L1379.4,1361.2 L1380.2,1359.2 L1381.0,1360.6 L1381.8,1361.0 L1382.6,1359.8 L1383.4,1360.9 L1384.1,1360.6 L1384.9,1361.9 L1385.6,1362.1 L1386.3,1361.6 L1387.1,1363.2 L1387.8,1363.6 L1388.6,1362.6 L1389.3,1363.8 L1390.1,1364.1 L1390.8,1363.6 L1391.5,1365.7 L1392.3,1364.5 L1393.0,1365.3 L1393.8,1363.8 L1394.5,1365.5 L1395.3,1364.7 L1396.1,1365.9 L1396.9,1365.3 L1397.7,1366.2 L1398.5,1366.7 L1399.3,1363.9 L1400.1,1365.4 L1400.9,1365.1 L1401.7,1364.7 L1402.5,1364.5 L1403.3,1365.0 L1404.1,1365.4 L1404.9,1365.4 L1405.7,1365.7 L1406.5,1364.7 L1407.3,1365.4 L1408.1,1365.1 L1408.9,1365.3 L1409.7,1365.2 L1410.5,1365.0 L1411.2,1365.5 L1412.0,1364.5 L1412.8,1363.7 L1413.5,1364.7 L1414.3,1366.4 L1415.1,1366.4 L1415.9,1366.3 L1416.6,1368.0 L1417.4,1367.8 L1418.2,1368.7 L1419.0,1366.7 L1419.7,1367.4 L1420.5,1368.3 L1421.3,1368.8 L1422.0,1369.3 L1422.8,1368.6 L1423.6,1369.7 L1424.4,1369.6 L1425.1,1368.8 L1425.9,1369.6 L1426.7,1368.6 L1427.5,1368.4 L1428.3,1367.0 L1429.0,1367.0 L1429.8,1366.9 L1430.6,1367.5 L1431.4,1366.3 L1432.1,1365.6 L1432.9,1366.8 L1433.7,1368.9 L1434.5,1366.8 L1435.3,1365.8 L1436.0,1366.1 L1436.8,1366.6 L1437.6,1366.7 L1438.4,1366.0 L1439.2,1366.8 L1440.0,1365.9 L1440.8,1364.2 L1441.6,1365.8 L1442.3,1364.2 L1443.1,1365.6 L1443.9,1364.8 L1444.7,1363.0 L1445.5,1362.9 L1446.2,1364.0 L1446.9,1364.1 L1447.6,1364.6 L1448.3,1363.9 L1449.0,1364.4 L1449.8,1363.6 L1450.5,1362.8 L1451.2,1361.6 L1451.9,1363.2 L1452.6,1362.6 L1453.3,1362.2 L1454.1,1360.5 L1454.8,1361.5 L1455.5,1359.3 L1456.2,1361.5 L1456.8,1361.4 L1457.5,1361.6 L1458.2,1359.5 L1458.9,1363.6 L1459.6,1361.4 L1460.3,1361.8 L1461.0,1362.4 L1461.6,1362.6 L1462.3,1361.9 L1463.0,1364.3 L1463.7,1364.0 L1464.4,1364.8 L1465.1,1363.9 L1465.8,1366.0 L1466.4,1366.3 L1467.1,1368.0 L1467.8,1366.5 L1468.4,1365.1 L1469.1,1366.4 L1469.7,1366.4 L1470.4,1366.6 L1471.0,1366.0 L1471.6,1364.3 L1472.3,1364.6 L1472.9,1363.3 L1473.6,1364.2 L1474.2,1365.5 L1474.8,1362.0 L1475.5,1361.2 L1476.1,1360.8 L1476.8,1361.2 L1477.4,1361.3 L1478.1,1360.8 L1478.9,1359.7 L1479.7,1361.5 L1480.5,1362.0 L1481.3,1362.8 L1482.0,1362.2 L1482.8,1360.6 L1483.6,1362.8 L1484.4,1361.9 L1485.1,1361.2 L1485.9,1362.3 L1486.7,1362.6 L1487.5,1362.9 L1488.0,1361.4 L1488.6,1361.0 L1489.2,1360.8 L1489.7,1360.4 L1490.3,1359.8 L1490.9,1357.7 L1491.4,1358.9 L1492.0,1356.2 L1492.6,1356.9 L1493.1,1355.9 L1493.7,1353.0 L1494.3,1354.0 L1494.8,1354.0 L1495.4,1354.5 L1496.0,1354.8 L1496.5,1356.0 L1497.1,1356.3 L1497.7,1356.9 L1498.2,1358.6 L1498.8,1361.7 L1499.4,1358.9 L1499.9,1359.7 L1500.5,1361.0 L1501.0,1360.6 L1501.6,1362.5 L1502.2,1362.3 L1502.7,1364.4 L1503.3,1362.5 L1503.9,1364.0 L1504.4,1363.6 L1505.0,1365.2 L1505.6,1363.8 L1506.3,1362.8 L1506.9,1362.6 L1507.6,1362.3 L1508.2,1362.5 L1508.8,1361.1 L1509.5,1362.0 L1510.1,1360.9 L1510.8,1360.5 L1511.4,1360.0 L1512.0,1359.9 L1512.7,1360.9 L1513.3,1358.4 L1514.0,1358.7 L1514.6,1358.5 L1515.3,1358.4 L1516.1,1357.4 L1516.8,1355.8 L1517.6,1358.0 L1518.3,1357.6 L1519.1,1357.5 L1519.8,1356.8 L1520.6,1355.1 L1521.4,1356.6 L1522.1,1354.9 L1522.9,1355.1 L1523.6,1356.0 L1524.4,1355.0 L1525.2,1353.1 L1525.9,1353.5 L1526.7,1354.4 L1527.4,1353.7 L1528.2,1352.7 L1529.0,1351.4 L1529.7,1351.6 L1530.5,1351.9 L1531.3,1352.4 L1532.1,1353.2 L1532.9,1353.1 L1533.7,1350.8 L1534.5,1351.8 L1535.3,1351.4 L1536.1,1351.6 L1536.9,1352.6 L1537.7,1352.1 L1538.5,1351.4 L1539.3,1353.6 L1540.1,1351.9 L1540.9,1351.6 L1541.7,1352.2 L1542.5,1354.1 L1543.3,1353.3 L1544.1,1352.2 L1544.9,1353.0 L1545.7,1352.1 L1546.5,1353.7 L1547.3,1353.3 L1548.1,1351.1 L1548.8,1353.2 L1549.6,1354.0 L1550.4,1352.0 L1551.2,1353.2 L1552.0,1352.9 L1552.8,1353.8 L1553.6,1352.3 L1554.4,1354.3 L1555.2,1353.5 L1555.9,1354.9 L1556.7,1354.5 L1557.5,1353.7 L1558.3,1353.1 L1559.1,1353.7 L1559.9,1355.4 L1560.6,1354.8 L1561.3,1354.0 L1562.0,1353.8 L1562.8,1353.1 L1563.5,1352.5 L1564.2,1352.6 L1564.9,1352.3 L1565.6,1351.8 L1566.3,1352.3 L1567.1,1353.5 L1567.8,1350.0 L1568.5,1351.6 L1569.2,1350.7 L1569.9,1349.3 L1570.7,1350.4 L1571.5,1351.9 L1572.3,1348.9 L1573.1,1350.1 L1573.9,1349.0 L1574.7,1350.9 L1575.5,1350.5 L1576.3,1350.2 L1577.1,1349.9 L1577.9,1350.8 L1578.7,1350.9 L1579.5,1349.2 L1580.3,1348.6 L1581.1,1349.6 L1581.9,1350.3 L1582.7,1349.3 L1583.5,1350.6 L1584.3,1349.1 L1585.1,1348.6 L1585.9,1349.0 L1586.7,1347.4 L1587.5,1347.6 L1588.3,1347.8 L1589.1,1347.5 L1589.8,1349.2 L1590.6,1348.5 L1591.4,1347.8 L1592.2,1347.2 L1593.0,1348.2 L1593.8,1348.2 L1594.6,1346.9 L1595.4,1346.0 L1596.2,1347.3 L1596.9,1346.8 L1597.7,1346.5 L1598.5,1346.8 L1599.3,1347.5 L1600.1,1346.5 L1600.9,1346.6 L1601.7,1346.2 L1602.4,1346.0 L1603.2,1345.8 L1604.0,1347.1 L1604.8,1346.7 L1605.6,1346.3 L1606.3,1346.5 L1607.1,1347.1 L1607.9,1347.3 L1608.7,1346.8 L1609.5,1346.8 L1610.2,1346.9 L1611.0,1345.7 L1611.8,1344.9 L1612.6,1347.5 L1613.3,1346.1 L1614.1,1346.4 L1614.9,1344.2 L1615.6,1345.3 L1616.3,1346.6 L1617.1,1347.0 L1617.8,1346.2 L1618.5,1347.0 L1619.2,1346.4 L1619.9,1345.7 L1620.6,1345.6 L1621.4,1345.5 L1622.1,1346.4 L1622.8,1347.9 L1623.5,1347.0 L1624.2,1349.1 L1624.9,1348.7 L1625.6,1348.1 L1626.3,1346.2 L1627.0,1346.4 L1627.7,1346.8 L1628.4,1345.2 L1629.0,1346.2 L1629.7,1346.1 L1630.4,1345.3 L1631.1,1343.3 L1631.8,1344.4 L1632.5,1342.7 L1633.2,1344.5 L1633.9,1342.4 L1634.5,1342.1 L1635.2,1342.3 L1635.9,1341.4 L1636.6,1342.3 L1637.3,1341.6 L1638.0,1342.6 L1638.7,1339.6 L1639.3,1340.5 L1640.0,1340.4 L1640.8,1340.3 L1641.5,1339.8 L1642.3,1340.0 L1643.1,1341.6 L1643.8,1341.0 L1644.6,1340.4 L1645.3,1341.2 L1646.1,1342.7 L1646.9,1343.2 L1647.6,1343.0 L1648.4,1343.9 L1649.1,1343.7 L1649.9,1344.1 L1650.7,1343.1 L1651.4,1343.8 L1652.2,1345.3 L1652.9,1345.2 L1653.7,1345.8 L1654.4,1346.5 L1655.2,1344.0 L1656.0,1346.5 L1656.8,1346.6 L1657.6,1346.1 L1658.4,1346.2 L1659.2,1345.0 L1659.9,1346.3 L1660.7,1346.0 L1661.5,1345.6 L1662.3,1345.8 L1663.1,1346.2 L1663.9,1344.9 L1664.7,1344.2 L1665.5,1344.4 L1666.3,1345.2 L1667.1,1344.6 L1667.8,1343.7 L1668.6,1343.6 L1669.4,1343.7 L1670.1,1342.4 L1670.7,1343.0 L1671.3,1344.5 L1671.8,1344.8 L1672.4,1344.5 L1673.0,1345.2 L1673.5,1345.5 L1674.1,1347.2 L1674.7,1346.5 L1675.2,1347.3 L1675.8,1347.6 L1676.4,1347.5 L1676.9,1347.2 L1677.5,1349.0 L1678.1,1352.2 L1678.6,1350.1 L1679.2,1351.6 L1679.8,1351.8 L1680.4,1352.8 L1681.2,1350.9 L1681.9,1350.0 L1682.7,1349.2 L1683.4,1351.9 L1684.1,1351.4 L1684.9,1348.9 L1685.6,1350.9 L1686.4,1350.1 L1687.1,1350.7 L1687.9,1350.1 L1688.6,1350.8 L1689.3,1351.8 L1690.1,1350.5 L1690.8,1350.3 L1691.6,1349.9 L1692.3,1349.1 L1693.1,1349.0 L1693.9,1350.0 L1694.7,1350.4 L1695.4,1349.7 L1696.2,1349.1 L1697.0,1349.5 L1697.8,1349.6 L1698.6,1348.9 L1699.4,1348.1 L1700.2,1349.2 L1700.9,1347.6 L1701.7,1349.1 L1702.5,1348.0 L1703.3,1348.1 L1704.1,1348.9 L1704.9,1348.6 L1705.6,1349.6 L1706.4,1350.2 L1707.1,1350.2 L1707.9,1351.0 L1708.7,1352.0 L1709.4,1351.3 L1710.2,1351.3 L1710.9,1352.1 L1711.7,1352.2 L1712.5,1350.9 L1713.2,1352.1 L1714.0,1351.4 L1714.7,1353.5 L1715.5,1351.7 L1716.2,1352.2 L1717.0,1352.8 L1717.8,1351.0 L1718.5,1351.6 L1719.3,1352.8 L1720.0,1353.3 L1720.8,1352.6 L1721.6,1354.1 L1722.3,1354.7 L1723.1,1355.1 L1723.8,1356.2 L1724.6,1355.9 L1725.4,1355.5 L1726.1,1357.0 L1726.9,1357.1 L1727.6,1356.3 L1728.4,1356.2 L1729.2,1357.5 L1729.9,1357.7 L1730.7,1358.8 L1731.4,1358.2 L1732.2,1359.2 L1732.9,1359.8 L1733.7,1359.5 L1734.5,1360.4 L1735.2,1359.1 L1736.0,1359.9 L1736.8,1361.1 L1737.5,1361.3 L1738.3,1361.8 L1739.1,1362.4 L1739.8,1361.6 L1740.6,1363.9 L1741.4,1363.6 L1742.1,1364.1 L1742.9,1362.3 L1743.7,1363.2 L1744.5,1362.8 L1745.2,1363.4 L1746.0,1364.6 L1746.8,1364.8 L1747.5,1365.4 L1748.3,1364.1 L1749.1,1365.5 L1749.8,1364.2 L1750.6,1365.4 L1751.4,1365.8 L1752.1,1364.3 L1752.9,1365.0 L1753.7,1365.7 L1754.5,1365.9 L1755.3,1364.5 L1756.1,1364.2 L1756.9,1364.6 L1757.7,1366.1 L1758.5,1366.3 L1759.2,1366.1 L1760.0,1366.7 L1760.8,1366.8 L1761.6,1366.6 L1762.4,1367.7 L1763.2,1365.3 L1764.0,1366.0 L1764.8,1366.4 L1765.6,1367.8 L1766.3,1366.3 L1767.1,1369.6 L1767.9,1369.6 L1768.7,1369.8 L1769.5,1367.2 L1770.3,1369.2 L1771.1,1368.9 L1771.9,1370.0 L1772.7,1368.7 L1773.5,1369.1 L1774.3,1367.8 L1775.1,1369.6 L1775.9,1370.1 L1776.7,1368.9 L1777.5,1367.1 L1778.3,1368.3 L1779.1,1367.8 L1779.9,1369.0 L1780.7,1368.5 L1781.5,1369.2 L1782.3,1369.1 L1783.1,1369.0 L1783.9,1369.5 L1784.7,1367.7 L1785.5,1369.6 L1786.2,1368.6 L1787.0,1368.4 L1787.8,1370.1 L1788.5,1370.0 L1789.3,1370.6 L1790.0,1370.9 L1790.8,1369.8 L1791.5,1370.9 L1792.3,1369.3 L1793.0,1370.6 L1793.8,1370.4 L1794.5,1370.1 L1795.3,1369.7 L1796.1,1371.3 L1796.9,1369.6 L1797.7,1370.5 L1798.5,1372.3 L1799.3,1372.3 L1800.1,1371.4 L1800.8,1370.8 L1801.6,1372.4 L1802.4,1371.0 L1803.2,1371.4 L1804.0,1371.9 L1804.8,1370.7 L1805.6,1370.4 L1806.4,1370.4 L1807.2,1371.0 L1808.0,1371.5 L1808.8,1372.1 L1809.6,1373.0 L1810.3,1372.2 L1811.1,1371.7 L1811.9,1372.7 L1812.7,1371.2 L1813.5,1372.8 L1814.3,1372.1 L1815.1,1372.8 L1815.9,1371.9 L1816.7,1371.5 L1817.5,1371.7 L1818.2,1371.5 L1819.0,1371.5 L1819.8,1371.2 L1820.6,1371.7 L1821.4,1370.4 L1822.2,1372.0 L1823.0,1370.7 L1823.8,1372.8 L1824.6,1370.5 L1825.4,1371.2 L1826.2,1373.1 L1827.0,1372.4 L1827.8,1371.0 L1828.6,1372.6 L1829.4,1371.9 L1830.2,1371.2 L1831.0,1373.4 L1831.8,1372.4 L1832.6,1374.0 L1833.3,1372.6 L1834.0,1373.2 L1834.7,1374.4 L1835.4,1373.3 L1836.1,1374.2 L1836.8,1373.0 L1837.5,1375.8 L1838.2,1376.6 L1838.9,1376.8 L1839.6,1376.4 L1840.3,1375.8 L1841.1,1378.4 L1841.8,1377.0 L1842.5,1377.8 L1843.2,1379.5 L1843.9,1378.9 L1844.7,1378.7 L1845.5,1379.7 L1846.3,1377.5 L1847.1,1378.2 L1847.9,1376.3 L1848.7,1376.8 L1849.5,1376.6 L1850.3,1376.7 L1851.0,1376.5 L1851.8,1374.9 L1852.6,1375.4 L1853.4,1376.6 L1854.2,1374.9 L1855.0,1376.7 L1855.8,1377.1 L1856.6,1374.8 L1857.4,1374.9 L1858.2,1377.5 L1859.0,1376.8 L1859.7,1375.4 L1860.5,1375.4 L1861.3,1375.6 L1862.1,1376.3 L1862.9,1375.2 L1863.7,1377.6 L1864.5,1376.0 L1865.2,1376.5 L1866.0,1377.5 L1866.8,1378.4 L1867.6,1377.9 L1868.4,1378.4 L1869.2,1379.6 L1870.0,1378.5 L1870.8,1378.4 L1871.6,1379.2 L1872.4,1378.9 L1873.2,1378.3 L1873.9,1377.9 L1874.7,1378.9 L1875.5,1378.9 L1876.3,1379.2 L1877.1,1378.2 L1877.9,1377.6 L1878.7,1378.0 L1879.5,1381.0 L1880.3,1378.9 L1881.1,1378.9 L1881.9,1379.4 L1882.6,1379.0 L1883.4,1379.7 L1884.2,1381.4 L1884.9,1382.0 L1885.7,1380.8 L1886.4,1381.8 L1887.2,1382.0 L1887.9,1382.8 L1888.7,1382.6 L1889.5,1382.9 L1890.2,1383.0 L1891.0,1383.2 L1891.7,1383.0 L1892.5,1384.3 L1893.3,1384.5 L1894.1,1382.5 L1894.9,1384.1 L1895.7,1382.7 L1896.4,1383.9 L1897.2,1383.4 L1898.0,1380.8 L1898.8,1381.2 L1899.6,1382.5 L1900.4,1382.6 L1901.2,1382.2 L1902.0,1381.3 L1902.8,1382.0 L1903.5,1379.8 L1904.3,1382.5 L1905.1,1382.2 L1905.9,1381.7 L1906.7,1382.9 L1907.5,1381.5 L1908.2,1383.2 L1909.0,1383.6 L1909.8,1383.3 L1910.6,1384.3 L1911.4,1383.8 L1912.2,1385.8 L1913.0,1382.8 L1913.7,1384.7 L1914.5,1385.3 L1915.3,1385.7 L1916.1,1386.4 L1916.9,1385.0 L1917.7,1384.5 L1918.5,1385.1 L1919.2,1384.6 L1920.0,1385.1 L1920.8,1384.5 L1921.6,1383.6 L1922.4,1386.0 L1923.2,1384.1 L1924.0,1385.4 L1924.8,1385.5 L1925.6,1384.5 L1926.4,1385.6 L1927.2,1383.6 L1928.0,1384.0 L1928.8,1384.7 L1929.6,1385.4 L1930.4,1384.0 L1931.2,1383.9 L1932.0,1385.1 L1932.8,1385.5 L1933.6,1384.1 L1934.4,1386.0 L1935.2,1386.8 L1936.0,1386.3 L1936.8,1386.8 L1937.6,1387.4 L1938.3,1385.9 L1939.1,1387.2 L1939.9,1386.3 L1940.7,1387.2 L1941.5,1387.2 L1942.3,1386.9 L1943.1,1386.3 L1943.9,1386.6 L1944.7,1386.3 L1945.5,1387.1 L1946.3,1387.6 L1947.1,1389.4 L1947.8,1389.4 L1948.6,1389.7 L1949.4,1389.0 L1950.2,1389.6 L1950.9,1390.5 L1951.7,1391.9 L1952.5,1390.2 L1953.2,1391.1 L1954.0,1392.4 L1954.8,1392.2 L1955.5,1393.4 L1956.3,1393.2 L1957.1,1392.5 L1957.8,1392.7 L1958.6,1392.8 L1959.4,1393.1 L1960.1,1394.2 L1960.9,1393.3 L1961.7,1393.2 L1962.4,1394.4 L1963.2,1393.9 L1964.0,1395.2 L1964.7,1394.3 L1965.5,1393.7 L1966.3,1395.1 L1967.0,1394.4 L1967.8,1395.1 L1968.6,1395.0 L1969.4,1395.8 L1970.2,1395.7 L1971.0,1394.5 L1971.8,1394.4 L1972.6,1393.4 L1973.4,1393.2 L1974.2,1393.7 L1975.0,1393.6 L1975.8,1392.3 L1976.6,1393.4 L1977.4,1392.7 L1978.2,1393.8 L1979.0,1392.2 L1979.8,1393.9 L1980.6,1393.2 L1981.4,1392.6 L1982.2,1393.4 L1982.9,1392.9 L1983.7,1392.1 L1984.5,1392.0 L1985.3,1393.7 L1986.1,1392.8 L1986.9,1393.5 L1987.7,1394.1 L1988.5,1392.6 L1989.3,1392.5 L1990.1,1391.6 L1990.9,1393.1 L1991.7,1392.1 L1992.5,1391.8 L1993.3,1392.8 L1994.1,1393.6 L1994.9,1393.1 L1995.7,1391.5 L1996.5,1394.4 L1997.3,1393.4 L1998.1,1392.7 L1998.9,1393.2 L1999.7,1391.9 L2000.5,1392.4 L2001.3,1392.8 L2002.1,1392.2 L2002.9,1393.4 L2003.7,1392.0 L2004.5,1392.9 L2005.3,1393.1 L2006.1,1392.2 L2006.9,1392.6 L2007.7,1392.5 L2008.5,1394.8 L2009.3,1393.8 L2010.1,1392.4 L2010.9,1393.0 L2011.7,1392.5 L2012.4,1394.3 L2013.2,1391.9 L2014.0,1394.1 L2014.8,1392.5 L2015.6,1393.3 L2016.4,1392.4 L2017.2,1391.3 L2018.0,1393.9 L2018.8,1393.7 L2019.6,1393.7 L2020.4,1393.9 L2021.2,1394.5 L2021.9,1392.9 L2022.7,1393.5 L2023.5,1394.5 L2024.3,1393.5 L2025.1,1394.0 L2025.9,1393.8 L2026.7,1395.6 L2027.5,1394.3 L2028.3,1395.9 L2029.1,1395.7 L2029.9,1395.7 L2030.6,1395.2 L2031.4,1396.2 L2032.2,1394.5 L2033.0,1396.5 L2033.8,1394.6 L2034.6,1396.7 L2035.4,1396.1 L2036.2,1396.1 L2037.0,1396.9 L2037.8,1396.9 L2038.6,1396.6 L2039.4,1396.9 L2040.1,1395.3 L2040.9,1397.4 L2041.7,1396.3 L2042.5,1397.4 L2043.3,1396.8 L2044.0,1397.8 L2044.8,1396.6 L2045.6,1396.7 L2046.3,1397.8 L2047.1,1397.6 L2047.9,1397.4 L2048.6,1398.7 L2049.4,1397.9 L2050.2,1398.4 L2050.9,1399.6 L2051.7,1399.7 L2052.4,1399.5 L2053.1,1399.6 L2053.8,1398.5 L2054.6,1399.2 L2055.3,1398.8 L2056.0,1398.5 L2056.7,1397.9 L2057.4,1396.3 L2058.1,1398.0 L2058.9,1395.3 L2059.6,1395.8 L2060.3,1395.7 L2061.0,1396.4 L2061.8,1394.1 L2062.5,1395.5 L2063.3,1395.5 L2064.0,1395.9 L2064.8,1395.2 L2065.5,1396.9 L2066.3,1396.1 L2067.1,1396.6 L2067.8,1397.1 L2068.6,1398.1 L2069.3,1397.5 L2070.1,1398.5 L2070.8,1398.8 L2071.6,1398.9 L2072.4,1398.4 L2073.2,1399.5 L2074.0,1399.8 L2074.8,1399.5 L2075.6,1400.2 L2076.3,1399.2 L2077.1,1399.9 L2077.9,1399.1 L2078.7,1398.8 L2079.5,1399.3 L2080.3,1397.9 L2081.1,1397.0 L2081.9,1397.9 L2082.7,1397.2 L2083.5,1395.8 L2084.3,1395.7 L2085.1,1396.5 L2085.9,1396.7 L2086.7,1395.8 L2087.5,1396.7 L2088.3,1395.8 L2089.1,1397.3 L2089.9,1394.7 L2090.7,1397.2 L2091.5,1397.4 L2092.2,1397.3 L2093.0,1396.5 L2093.8,1397.7 L2094.6,1397.0 L2095.4,1399.1 L2096.2,1397.2 L2097.0,1399.0 L2097.7,1398.4 L2098.5,1397.6 L2099.3,1399.5 L2100.1,1401.0 L2100.9,1400.7 L2101.7,1399.3 L2102.5,1399.9 L2103.2,1400.1 L2104.0,1400.9 L2104.8,1400.0 L2105.6,1401.2 L2106.4,1399.9 L2107.2,1400.4 L2107.9,1400.2 L2108.7,1400.2 L2109.5,1400.6 L2110.3,1400.4 L2111.1,1402.2 L2111.9,1399.0 L2112.7,1401.9 L2113.5,1401.3 L2114.3,1400.8 L2115.1,1401.6 L2115.9,1401.7 L2116.7,1400.2 L2117.5,1399.8 L2118.3,1403.1 L2119.1,1401.9 L2119.9,1401.7 L2120.7,1403.6 L2121.5,1401.5 L2122.3,1401.5 L2123.1,1403.0 L2123.9,1402.5 L2124.7,1402.4 L2125.5,1402.2 L2126.3,1403.0 L2127.1,1402.1 L2127.9,1404.2 L2128.7,1402.2 L2129.5,1402.6 L2130.3,1402.9 L2131.1,1402.1 L2131.9,1404.4 L2132.7,1402.2 L2133.5,1403.2 L2134.3,1401.4 L2135.1,1404.4 L2135.9,1402.4 L2136.7,1402.6 L2137.5,1401.6 L2138.3,1402.1 L2139.1,1400.9 L2139.9,1401.5 L2140.6,1402.1 L2141.4,1400.6 L2142.2,1401.3 L2143.0,1403.1 L2143.8,1402.8 L2144.6,1402.1 L2145.4,1403.0 L2146.2,1402.3 L2147.0,1403.4 L2147.8,1401.8 L2148.6,1401.0 L2149.4,1401.6 L2150.2,1403.4 L2151.0,1400.8 L2151.8,1401.7 L2152.6,1402.0 L2153.4,1401.1 L2154.2,1402.3 L2155.0,1401.7 L2155.8,1402.6 L2156.6,1402.0 L2157.4,1403.1 L2158.2,1401.9 L2159.0,1400.8 L2159.8,1404.3 L2160.6,1403.7 L2161.4,1402.4 L2162.2,1402.5 L2163.0,1401.9 L2163.8,1404.2 L2164.6,1401.9 L2165.4,1403.6 L2166.2,1403.5 L2167.0,1402.6 L2167.8,1404.6 L2168.6,1402.5 L2169.4,1404.1 L2170.2,1403.8 L2171.0,1404.2 L2171.8,1402.5 L2172.6,1403.9 L2173.4,1404.7 L2174.2,1403.0 L2175.0,1404.5 L2175.8,1405.1 L2176.6,1405.0 L2177.4,1403.2 L2178.2,1405.1 L2179.0,1403.3 L2179.8,1404.9 L2180.6,1402.8 L2181.4,1404.0 L2182.2,1403.2 L2183.0,1406.1 L2183.8,1405.4 L2184.6,1403.8 L2185.4,1404.1 L2186.2,1405.7 L2187.0,1405.5 L2187.8,1404.9 L2188.5,1405.3 L2189.3,1405.5 L2190.1,1404.8 L2190.9,1403.6 L2191.7,1404.2 L2192.5,1405.3 L2193.3,1405.3 L2194.1,1405.4 L2194.9,1405.2 L2195.7,1404.4 L2196.5,1404.3 L2197.3,1405.7 L2198.1,1403.6 L2198.9,1404.1" fill="none" stroke="#0000ff" stroke-width="11.5" stroke-linejoin="round" stroke-linecap="butt"/>
</g>
<g transform="translate(145.957,80.500) scale(1.00714,1.04607)"><text font-family="Liberation Sans, Arial, sans-serif" font-size="67">1250</text><rect x="4.10" y="-6.31" width="12.74" height="7.51" fill="#fff"/><rect x="22.77" y="-6.31" width="12.22" height="7.51" fill="#fff"/></g>
<g transform="translate(145.957,350.500) scale(1.00714,1.04607)"><text font-family="Liberation Sans, Arial, sans-serif" font-size="67">1000</text><rect x="4.10" y="-6.31" width="12.74" height="7.51" fill="#fff"/><rect x="22.77" y="-6.31" width="12.22" height="7.51" fill="#fff"/></g>
<text transform="translate(182.972,619.500) scale(1.00943,1.04607)" font-family="Liberation Sans, Arial, sans-serif" font-size="67">750</text>
<text transform="translate(182.972,887.500) scale(1.00943,1.04607)" font-family="Liberation Sans, Arial, sans-serif" font-size="67">500</text>
<text transform="translate(181.943,1157.500) scale(1.01887,1.04607)" font-family="Liberation Sans, Arial, sans-serif" font-size="67">250</text>
<text transform="translate(258.000,1426.500) scale(1.00000,1.04607)" font-family="Liberation Sans, Arial, sans-serif" font-size="67">0</text>
<g transform="translate(480.053,1496.000) scale(0.98184,1.02770)"><text font-family="Liberation Sans, Arial, sans-serif" font-size="54">10</text><rect x="3.11" y="-5.33" width="10.47" height="6.53" fill="#fff"/><rect x="18.35" y="-5.33" width="10.04" height="6.53" fill="#fff"/></g>
<text transform="translate(816.185,1496.000) scale(0.98214,1.05405)" font-family="Liberation Sans, Arial, sans-serif" font-size="54">20</text>
<text transform="translate(1153.036,1496.000) scale(0.98214,1.05405)" font-family="Liberation Sans, Arial, sans-serif" font-size="54">30</text>
<text transform="translate(1489.887,1496.000) scale(0.98214,1.05405)" font-family="Liberation Sans, Arial, sans-serif" font-size="54">40</text>
<text transform="translate(1825.476,1496.000) scale(0.98214,1.02770)" font-family="Liberation Sans, Arial, sans-serif" font-size="54">50</text>
<text transform="translate(2159.891,1496.000) scale(1.03636,1.05405)" font-family="Liberation Sans, Arial, sans-serif" font-size="54">60</text>
<rect x="1745" y="165.0" width="162" height="11" rx="2.5" fill="#000"/>
<text transform="translate(1918.911,193.000) scale(1.01478,1.04000)" font-family="Liberation Sans, Arial, sans-serif" font-size="67">PET_B</text>
<rect x="1745" y="246.8" width="162" height="11" rx="2.5" fill="#f00"/>
<text transform="translate(1918.919,275.300) scale(1.01350,1.04000)" font-family="Liberation Sans, Arial, sans-serif" font-size="67">PET_SC</text>
<rect x="1745" y="329.2" width="162" height="11" rx="2.5" fill="#0f0"/>
<text transform="translate(1918.913,358.200) scale(1.01451,1.04000)" font-family="Liberation Sans, Arial, sans-serif" font-size="67">PET_RC</text>
<rect x="1745" y="411.5" width="162" height="11" rx="2.5" fill="#00f"/>
<text transform="translate(1918.909,440.300) scale(1.01516,1.04000)" font-family="Liberation Sans, Arial, sans-serif" font-size="67">PET_3D</text>
<g transform="translate(583.343,574.000) scale(1.01120,1.04501)"><text font-family="Liberation Sans, Arial, sans-serif" font-size="57">16.0°</text><rect x="3.34" y="-5.56" width="10.99" height="6.76" fill="#fff"/><rect x="19.37" y="-5.56" width="10.55" height="6.76" fill="#fff"/></g>
<g transform="translate(718.774,483.000) scale(1.00480,1.04501)"><text font-family="Liberation Sans, Arial, sans-serif" font-size="57">17.5°</text><rect x="3.34" y="-5.56" width="10.99" height="6.76" fill="#fff"/><rect x="19.37" y="-5.56" width="10.55" height="6.76" fill="#fff"/></g>
<text transform="translate(872.339,391.000) scale(1.01894,1.04501)" font-family="Liberation Sans, Arial, sans-serif" font-size="57">22.5°</text>
<text transform="translate(1011.906,463.000) scale(1.03150,1.05500)" font-family="Liberation Sans, Arial, sans-serif" font-size="57">25.5°</text>
<text transform="translate(97.009,1010.970) scale(0.97600,0.99390) rotate(-90)" font-family="Liberation Sans, Arial, sans-serif" font-size="80">intensity (a.u.)</text>
<text transform="translate(1170.083,1615.000) scale(1.02849,1.01786)" font-family="Liberation Sans, Arial, sans-serif" font-size="80">2</text>
<text transform="translate(1214.390,1615.019) scale(1.07742,0.88103)" font-family="Liberation Serif, serif" font-size="80">θ</text>
<text transform="translate(1276.263,1614.857) scale(0.93115,0.96403)" font-family="Liberation Sans, Arial, sans-serif" font-size="80">(</text>
<text transform="translate(1302.000,1610.100) scale(1.00000,0.95000)" font-family="Liberation Sans, Arial, sans-serif" font-size="80">°</text>
<text transform="translate(1336.157,1614.985) scale(0.90728,0.96536)" font-family="Liberation Sans, Arial, sans-serif" font-size="80">)</text>
</svg></body></html>
